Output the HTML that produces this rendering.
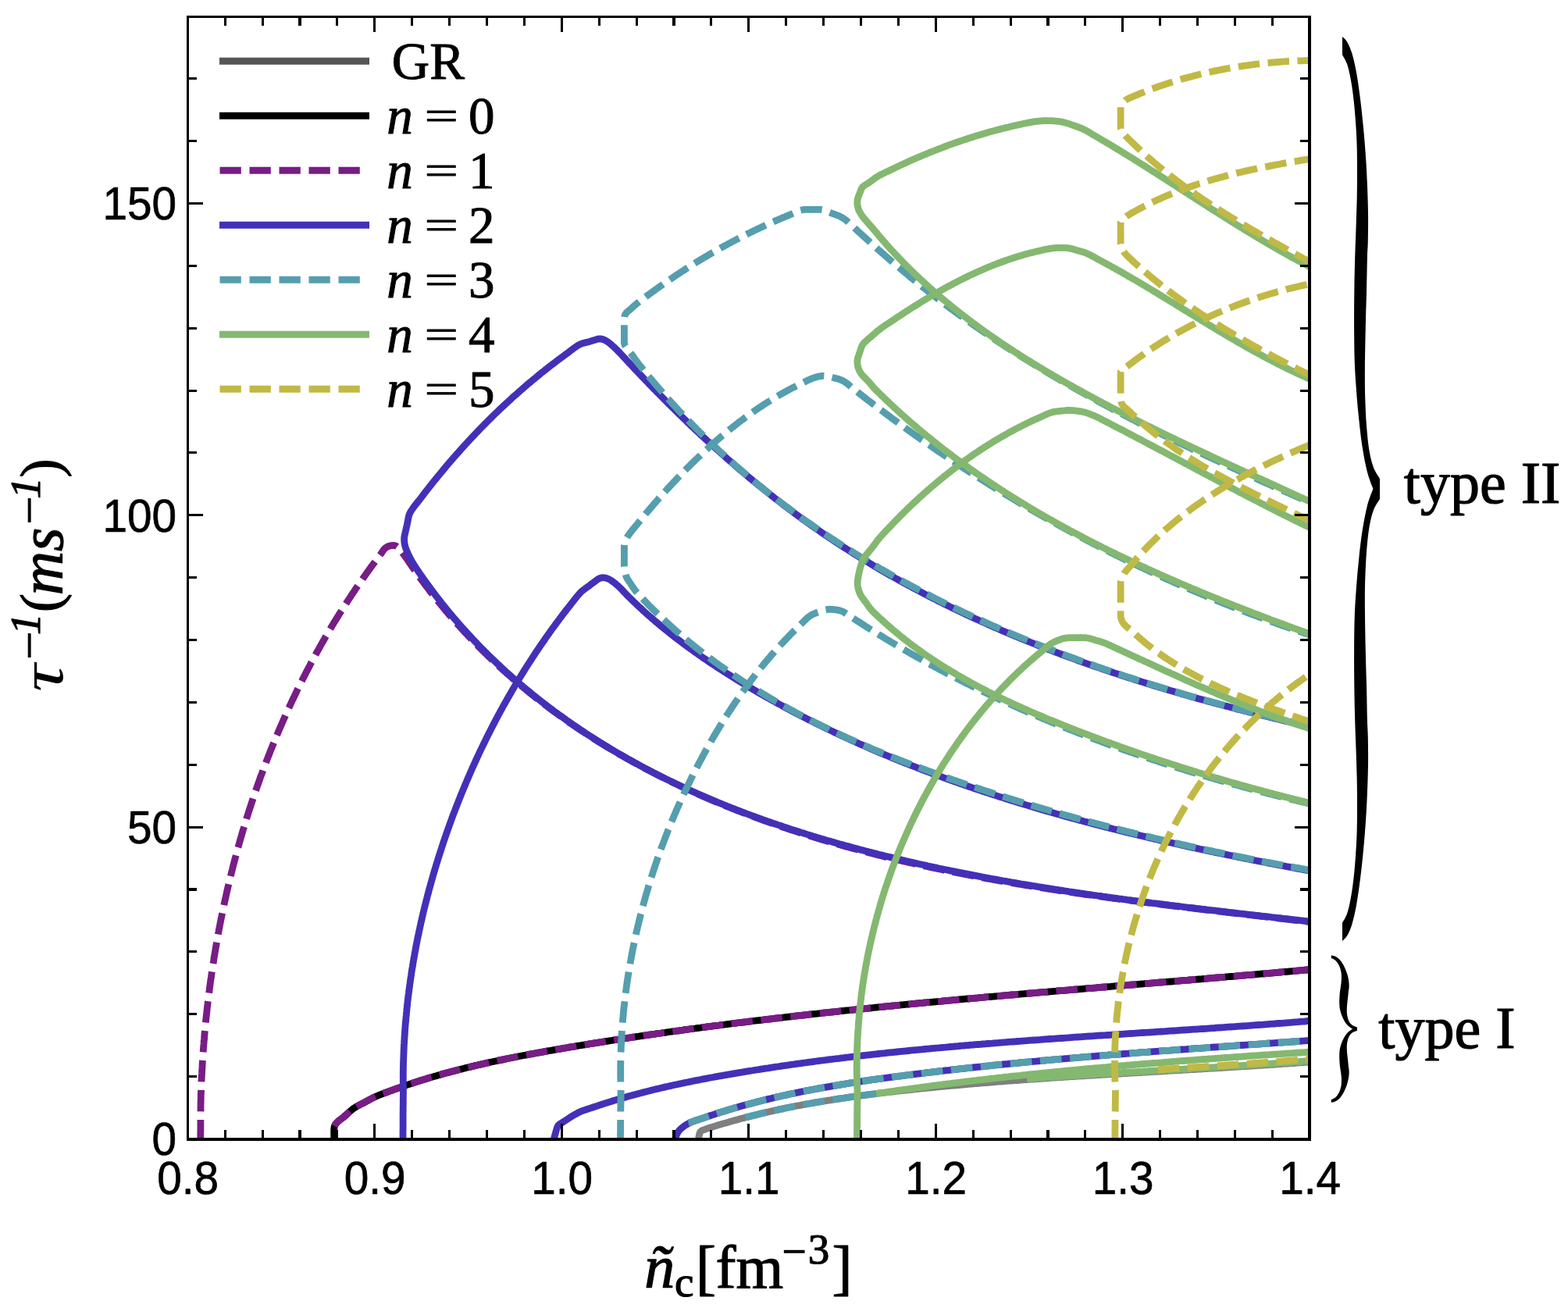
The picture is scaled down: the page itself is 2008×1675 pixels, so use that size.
<!DOCTYPE html>
<html lang="en"><head><meta charset="utf-8"><title>Damping rates</title>
<style>
html,body{margin:0;padding:0;background:#fff;}
body{width:2008px;height:1675px;overflow:hidden;}
svg{display:block;}
.tk{font-family:"Liberation Sans",sans-serif;font-size:60px;fill:#000;stroke:#000;stroke-width:0.7px;stroke-linejoin:round;}
.lg{font-family:"Liberation Serif",serif;font-size:67px;fill:#000;stroke:#000;stroke-width:1px;stroke-linejoin:round;}
.ty{font-family:"Liberation Serif",serif;font-size:76px;fill:#000;stroke:#000;stroke-width:1.2px;stroke-linejoin:round;}
.ax{font-family:"Liberation Serif",serif;font-size:78px;fill:#000;stroke:#000;stroke-width:1.2px;stroke-linejoin:round;}
.it{font-style:italic;}
.sup{font-size:55px;}
.br{font-family:"Liberation Serif",serif;fill:#000;}
</style></head><body>
<svg width="2008" height="1675" viewBox="0 0 2008 1675">
<rect width="2008" height="1675" fill="#fff"/>
<defs><clipPath id="cp"><rect x="240.5" y="21.5" width="1436.3" height="1436.5"/></clipPath></defs>
<g clip-path="url(#cp)" fill="none" stroke-linejoin="round">
<path d="M894.5 1458.0L895.0 1455.7L895.4 1453.3L896.0 1451.1L897.0 1449.2L899.1 1447.6L901.9 1446.6L905.0 1445.5L907.1 1444.7L909.4 1443.9L911.9 1443.2L914.5 1442.4L917.1 1441.6L919.7 1440.8L922.3 1440.1L924.8 1439.3L927.2 1438.6L929.7 1437.9L932.2 1437.2L934.7 1436.4L937.2 1435.7L939.6 1435.0L942.1 1434.4L944.6 1433.7L947.1 1433.0L949.6 1432.3L952.1 1431.7L954.6 1431.0L957.1 1430.4L959.6 1429.7L962.1 1429.1L964.6 1428.5L967.1 1427.9L969.6 1427.2L972.1 1426.6L974.6 1426.0L977.1 1425.4L979.6 1424.9L982.1 1424.3L984.6 1423.7L987.2 1423.1L989.7 1422.6L992.2 1422.0L994.7 1421.5L997.2 1420.9L999.7 1420.4L1002.3 1419.9L1004.8 1419.3L1007.3 1418.8L1009.8 1418.3L1012.4 1417.8L1014.9 1417.3L1017.4 1416.8L1020.0 1416.3L1022.5 1415.8L1025.0 1415.4L1027.5 1414.9L1030.1 1414.4L1032.6 1413.9L1035.2 1413.5L1037.7 1413.0L1040.2 1412.6L1042.8 1412.1L1045.3 1411.7L1047.9 1411.3L1050.4 1410.8L1052.9 1410.4L1055.5 1410.0L1058.0 1409.6L1060.6 1409.2L1063.1 1408.8L1065.7 1408.4L1068.2 1408.0L1070.8 1407.6L1073.3 1407.2L1075.9 1406.8L1078.4 1406.4L1081.0 1406.1L1083.5 1405.7L1086.1 1405.3L1088.7 1404.9L1091.2 1404.6L1093.8 1404.2L1096.3 1403.9L1098.9 1403.5L1101.4 1403.2L1104.0 1402.8L1106.6 1402.5L1109.1 1402.2L1111.7 1401.8L1114.2 1401.5L1116.8 1401.2L1119.4 1400.9L1121.9 1400.5L1124.5 1400.2L1127.1 1399.9L1129.6 1399.6L1132.2 1399.3L1134.8 1399.0L1137.3 1398.7L1139.9 1398.4L1142.5 1398.1L1145.0 1397.8L1147.6 1397.5L1150.2 1397.2L1152.8 1396.9L1155.3 1396.7L1157.9 1396.4L1160.5 1396.1L1163.0 1395.8L1165.6 1395.5L1168.2 1395.3L1170.8 1395.0L1173.3 1394.7L1175.9 1394.5L1178.5 1394.2L1181.0 1393.9L1183.6 1393.7L1186.2 1393.4L1188.8 1393.2L1191.3 1392.9L1193.9 1392.7L1196.5 1392.4L1199.1 1392.2L1201.6 1391.9L1204.2 1391.7L1206.8 1391.4L1209.4 1391.2L1211.9 1390.9L1214.5 1390.7L1217.1 1390.5L1219.7 1390.2L1222.3 1390.0L1224.8 1389.8L1227.4 1389.5L1230.0 1389.3L1232.6 1389.1L1235.1 1388.8L1237.7 1388.6L1240.3 1388.4L1242.9 1388.2L1245.5 1388.0L1248.0 1387.7L1250.6 1387.5L1253.2 1387.3L1255.8 1387.1L1258.4 1386.9L1260.9 1386.7L1263.5 1386.5L1266.1 1386.3L1268.7 1386.0L1271.3 1385.8L1273.8 1385.6L1276.4 1385.4L1279.0 1385.2L1281.6 1385.0L1284.2 1384.8L1286.7 1384.6L1289.3 1384.4L1291.9 1384.2L1294.5 1384.1L1297.1 1383.9L1299.7 1383.7L1302.2 1383.5L1304.8 1383.3L1307.4 1383.1L1310.0 1382.9L1312.6 1382.7L1315.2 1382.5L1317.7 1382.4L1320.3 1382.2L1322.9 1382.0L1325.5 1381.8L1328.1 1381.6L1330.7 1381.5L1333.2 1381.3L1335.8 1381.1L1338.4 1380.9L1341.0 1380.8L1343.6 1380.6L1346.2 1380.4L1348.7 1380.2L1351.3 1380.1L1353.9 1379.9L1356.5 1379.7L1359.1 1379.6L1361.7 1379.4L1364.2 1379.2L1366.8 1379.1L1369.4 1378.9L1372.0 1378.7L1374.6 1378.6L1377.2 1378.4L1379.8 1378.2L1382.3 1378.1L1384.9 1377.9L1387.5 1377.8L1390.1 1377.6L1392.7 1377.4L1395.3 1377.3L1397.9 1377.1L1400.4 1377.0L1403.0 1376.8L1405.6 1376.6L1408.2 1376.5L1410.8 1376.3L1413.4 1376.2L1415.9 1376.0L1418.5 1375.9L1421.1 1375.7L1423.7 1375.6L1426.3 1375.4L1428.9 1375.3L1431.5 1375.1L1434.0 1375.0L1436.6 1374.8L1439.2 1374.7L1441.8 1374.5L1444.4 1374.4L1447.0 1374.2L1449.6 1374.1L1452.1 1373.9L1454.7 1373.8L1457.3 1373.6L1459.9 1373.5L1462.5 1373.3L1465.1 1373.2L1467.6 1373.0L1470.2 1372.9L1472.8 1372.7L1475.4 1372.6L1478.0 1372.4L1480.6 1372.3L1483.1 1372.1L1485.7 1372.0L1488.3 1371.8L1490.9 1371.7L1493.5 1371.5L1496.1 1371.4L1498.7 1371.2L1501.2 1371.1L1503.8 1370.9L1506.4 1370.8L1509.0 1370.6L1511.6 1370.5L1514.2 1370.3L1516.7 1370.2L1519.3 1370.0L1521.9 1369.9L1524.5 1369.7L1527.1 1369.6L1529.6 1369.5L1532.2 1369.3L1534.8 1369.1L1537.4 1369.0L1540.0 1368.8L1542.6 1368.7L1545.1 1368.5L1547.7 1368.4L1550.3 1368.2L1552.9 1368.1L1555.5 1367.9L1558.0 1367.8L1560.6 1367.6L1563.2 1367.5L1565.8 1367.3L1568.4 1367.2L1570.9 1367.0L1573.5 1366.9L1576.1 1366.7L1578.7 1366.5L1581.3 1366.4L1583.8 1366.2L1586.4 1366.1L1589.0 1365.9L1591.6 1365.7L1594.1 1365.6L1596.7 1365.4L1599.3 1365.3L1601.9 1365.1L1604.5 1364.9L1607.0 1364.8L1609.6 1364.6L1612.2 1364.4L1614.8 1364.3L1617.3 1364.1L1619.9 1363.9L1622.5 1363.8L1625.1 1363.6L1627.6 1363.4L1630.2 1363.3L1632.8 1363.1L1635.4 1362.9L1637.9 1362.7L1640.5 1362.6L1643.1 1362.4L1645.6 1362.2L1648.2 1362.0L1650.8 1361.8L1653.4 1361.7L1655.9 1361.5L1658.5 1361.3L1661.1 1361.1L1663.6 1360.9L1666.2 1360.7L1668.8 1360.6L1671.4 1360.4L1673.9 1360.2L1676.5 1360.0L1686.0 1359.3" stroke="#7f7f7f" stroke-width="8.8"/>
<path d="M427.7 1459.0L427.7 1456.1L427.7 1453.0L427.6 1449.9L427.7 1447.0L427.9 1444.3L428.4 1442.1L429.5 1439.9L430.9 1438.2L432.5 1436.5L434.0 1435.1L435.8 1433.8L437.6 1432.4L439.6 1430.9L441.3 1429.4L443.2 1427.7L445.1 1426.0L447.1 1424.1L449.2 1422.3L451.2 1420.6L453.3 1419.1L455.5 1417.7L457.8 1416.3L460.1 1415.1L462.4 1413.9L464.7 1412.8L467.0 1411.6L469.6 1410.2L472.1 1408.8L474.7 1407.4L477.3 1406.0L480.0 1404.7L482.3 1403.7L484.6 1402.7L487.0 1401.8L489.5 1400.8L491.9 1399.9L494.4 1399.0L496.8 1398.1L499.3 1397.2L501.7 1396.3L504.1 1395.4L506.5 1394.5L509.0 1393.7L511.4 1392.8L513.8 1391.9L516.3 1391.1L518.7 1390.3L521.1 1389.4L523.6 1388.6L526.0 1387.8L528.5 1387.0L530.9 1386.2L533.4 1385.4L535.8 1384.6L538.3 1383.8L540.7 1383.1L543.2 1382.3L545.6 1381.6L548.1 1380.8L550.6 1380.1L553.0 1379.4L555.5 1378.6L558.0 1377.9L560.4 1377.2L562.9 1376.5L565.4 1375.8L567.9 1375.1L570.3 1374.4L572.8 1373.7L575.3 1373.1L577.8 1372.4L580.3 1371.8L582.8 1371.1L585.3 1370.5L587.8 1369.8L590.2 1369.2L592.7 1368.6L595.2 1367.9L597.7 1367.3L600.2 1366.7L602.7 1366.1L605.2 1365.5L607.7 1364.9L610.2 1364.3L612.8 1363.7L615.3 1363.1L617.8 1362.6L620.3 1362.0L622.8 1361.4L625.3 1360.9L627.8 1360.3L630.3 1359.8L632.8 1359.2L635.4 1358.7L637.9 1358.1L640.4 1357.6L642.9 1357.1L645.5 1356.6L648.0 1356.0L650.5 1355.5L653.0 1355.0L655.6 1354.5L658.1 1354.0L660.6 1353.5L663.1 1353.0L665.7 1352.5L668.2 1352.0L670.7 1351.5L673.3 1351.1L675.8 1350.6L678.3 1350.1L680.9 1349.6L683.4 1349.2L685.9 1348.7L688.5 1348.2L691.0 1347.8L693.6 1347.3L696.1 1346.9L698.6 1346.4L701.2 1345.9L703.7 1345.5L706.3 1345.1L708.8 1344.6L711.3 1344.2L713.9 1343.7L716.4 1343.3L719.0 1342.9L721.5 1342.4L724.1 1342.0L726.6 1341.6L729.1 1341.1L731.7 1340.7L734.2 1340.3L736.8 1339.9L739.3 1339.4L741.9 1339.0L744.4 1338.6L747.0 1338.2L749.5 1337.8L752.1 1337.3L754.6 1336.9L757.2 1336.5L759.7 1336.1L762.3 1335.7L764.8 1335.3L767.4 1334.9L769.9 1334.5L772.5 1334.1L775.0 1333.7L777.6 1333.3L780.1 1332.9L782.7 1332.5L785.2 1332.1L787.8 1331.7L790.3 1331.3L792.9 1330.9L795.4 1330.5L798.0 1330.1L800.5 1329.7L803.1 1329.4L805.6 1329.0L808.2 1328.6L810.7 1328.2L813.3 1327.8L815.8 1327.4L818.4 1327.1L820.9 1326.7L823.5 1326.3L826.0 1325.9L828.6 1325.6L831.1 1325.2L833.7 1324.8L836.3 1324.4L838.8 1324.1L841.4 1323.7L843.9 1323.3L846.5 1323.0L849.0 1322.6L851.6 1322.3L854.1 1321.9L856.7 1321.5L859.3 1321.2L861.8 1320.8L864.4 1320.5L866.9 1320.1L869.5 1319.8L872.0 1319.4L874.6 1319.1L877.2 1318.7L879.7 1318.4L882.3 1318.0L884.8 1317.7L887.4 1317.3L890.0 1317.0L892.5 1316.6L895.1 1316.3L897.6 1316.0L900.2 1315.6L902.7 1315.3L905.3 1314.9L907.9 1314.6L910.4 1314.3L913.0 1313.9L915.6 1313.6L918.1 1313.3L920.7 1313.0L923.2 1312.6L925.8 1312.3L928.4 1312.0L930.9 1311.6L933.5 1311.3L936.0 1311.0L938.6 1310.7L941.2 1310.4L943.7 1310.0L946.3 1309.7L948.9 1309.4L951.4 1309.1L954.0 1308.8L956.5 1308.5L959.1 1308.1L961.7 1307.8L964.2 1307.5L966.8 1307.2L969.4 1306.9L971.9 1306.6L974.5 1306.3L977.1 1306.0L979.6 1305.7L982.2 1305.4L984.8 1305.1L987.3 1304.8L989.9 1304.5L992.4 1304.2L995.0 1303.9L997.6 1303.6L1000.1 1303.3L1002.7 1303.0L1005.3 1302.7L1007.8 1302.4L1010.4 1302.1L1013.0 1301.8L1015.5 1301.5L1018.1 1301.2L1020.7 1300.9L1023.2 1300.6L1025.8 1300.3L1028.4 1300.0L1030.9 1299.8L1033.5 1299.5L1036.1 1299.2L1038.6 1298.9L1041.2 1298.6L1043.8 1298.3L1046.4 1298.1L1048.9 1297.8L1051.5 1297.5L1054.1 1297.2L1056.6 1296.9L1059.2 1296.7L1061.8 1296.4L1064.3 1296.1L1066.9 1295.8L1069.5 1295.6L1072.0 1295.3L1074.6 1295.0L1077.2 1294.7L1079.8 1294.5L1082.3 1294.2L1084.9 1293.9L1087.5 1293.7L1090.0 1293.4L1092.6 1293.1L1095.2 1292.9L1097.7 1292.6L1100.3 1292.3L1102.9 1292.1L1105.5 1291.8L1108.0 1291.6L1110.6 1291.3L1113.2 1291.0L1115.7 1290.8L1118.3 1290.5L1120.9 1290.2L1123.5 1290.0L1126.0 1289.7L1128.6 1289.5L1131.2 1289.2L1133.7 1289.0L1136.3 1288.7L1138.9 1288.5L1141.5 1288.2L1144.0 1288.0L1146.6 1287.7L1149.2 1287.4L1151.7 1287.2L1154.3 1286.9L1156.9 1286.7L1159.5 1286.4L1162.0 1286.2L1164.6 1286.0L1167.2 1285.7L1169.7 1285.5L1172.3 1285.2L1174.9 1285.0L1177.5 1284.7L1180.0 1284.5L1182.6 1284.2L1185.2 1284.0L1187.8 1283.7L1190.3 1283.5L1192.9 1283.3L1195.5 1283.0L1198.1 1282.8L1200.6 1282.5L1203.2 1282.3L1205.8 1282.1L1208.3 1281.8L1210.9 1281.6L1213.5 1281.4L1216.1 1281.1L1218.6 1280.9L1221.2 1280.6L1223.8 1280.4L1226.4 1280.2L1228.9 1279.9L1231.5 1279.7L1234.1 1279.5L1236.7 1279.2L1239.2 1279.0L1241.8 1278.8L1244.4 1278.5L1247.0 1278.3L1249.5 1278.1L1252.1 1277.9L1254.7 1277.6L1257.3 1277.4L1259.8 1277.2L1262.4 1276.9L1265.0 1276.7L1267.5 1276.5L1270.1 1276.3L1272.7 1276.0L1275.3 1275.8L1277.8 1275.6L1280.4 1275.4L1283.0 1275.1L1285.6 1274.9L1288.1 1274.7L1290.7 1274.5L1293.3 1274.2L1295.9 1274.0L1298.4 1273.8L1301.0 1273.6L1303.6 1273.3L1306.2 1273.1L1308.7 1272.9L1311.3 1272.7L1313.9 1272.4L1316.5 1272.2L1319.0 1272.0L1321.6 1271.8L1324.2 1271.6L1326.8 1271.3L1329.3 1271.1L1331.9 1270.9L1334.5 1270.7L1337.1 1270.5L1339.6 1270.3L1342.2 1270.0L1344.8 1269.8L1347.4 1269.6L1349.9 1269.4L1352.5 1269.2L1355.1 1268.9L1357.7 1268.7L1360.2 1268.5L1362.8 1268.3L1365.4 1268.1L1368.0 1267.9L1370.5 1267.6L1373.1 1267.4L1375.7 1267.2L1378.3 1267.0L1380.8 1266.8L1383.4 1266.6L1386.0 1266.4L1388.6 1266.1L1391.1 1265.9L1393.7 1265.7L1396.3 1265.5L1398.9 1265.3L1401.4 1265.1L1404.0 1264.9L1406.6 1264.6L1409.2 1264.4L1411.7 1264.2L1414.3 1264.0L1416.9 1263.8L1419.5 1263.6L1422.0 1263.4L1424.6 1263.1L1427.2 1262.9L1429.7 1262.7L1432.3 1262.5L1434.9 1262.3L1437.5 1262.1L1440.0 1261.9L1442.6 1261.7L1445.2 1261.4L1447.8 1261.2L1450.3 1261.0L1452.9 1260.8L1455.5 1260.6L1458.1 1260.4L1460.6 1260.2L1463.2 1260.0L1465.8 1259.7L1468.4 1259.5L1470.9 1259.3L1473.5 1259.1L1476.1 1258.9L1478.6 1258.7L1481.2 1258.5L1483.8 1258.2L1486.4 1258.0L1488.9 1257.8L1491.5 1257.6L1494.1 1257.4L1496.7 1257.2L1499.2 1257.0L1501.8 1256.8L1504.4 1256.5L1506.9 1256.3L1509.5 1256.1L1512.1 1255.9L1514.7 1255.7L1517.2 1255.5L1519.8 1255.3L1522.4 1255.0L1524.9 1254.8L1527.5 1254.6L1530.1 1254.4L1532.7 1254.2L1535.2 1254.0L1537.8 1253.8L1540.4 1253.5L1542.9 1253.3L1545.5 1253.1L1548.1 1252.9L1550.7 1252.7L1553.2 1252.5L1555.8 1252.2L1558.4 1252.0L1560.9 1251.8L1563.5 1251.6L1566.1 1251.4L1568.7 1251.2L1571.2 1250.9L1573.8 1250.7L1576.4 1250.5L1578.9 1250.3L1581.5 1250.1L1584.1 1249.8L1586.6 1249.6L1589.2 1249.4L1591.8 1249.2L1594.4 1249.0L1596.9 1248.7L1599.5 1248.5L1602.1 1248.3L1604.6 1248.1L1607.2 1247.9L1609.8 1247.6L1612.3 1247.4L1614.9 1247.2L1617.5 1247.0L1620.0 1246.8L1622.6 1246.5L1625.2 1246.3L1627.7 1246.1L1630.3 1245.9L1632.9 1245.6L1635.4 1245.4L1638.0 1245.2L1640.6 1245.0L1643.1 1244.7L1645.7 1244.5L1648.3 1244.3L1650.8 1244.0L1653.4 1243.8L1656.0 1243.6L1658.5 1243.4L1661.1 1243.1L1663.7 1242.9L1666.2 1242.7L1668.8 1242.4L1671.4 1242.2L1673.9 1242.0L1676.5 1241.8L1686.0 1240.9" stroke="#000000" stroke-width="8.8"/>
<path d="M428.3 1442.1L429.5 1439.9L430.9 1438.2L432.5 1436.5L434.0 1435.1L435.8 1433.8L437.6 1432.4L439.6 1430.9L441.3 1429.4L443.2 1427.7L445.1 1426.0L447.1 1424.1L449.2 1422.3L451.2 1420.6L453.3 1419.1L455.5 1417.7L457.8 1416.3L460.1 1415.1L462.4 1413.9L464.7 1412.8L467.0 1411.6L469.6 1410.2L472.1 1408.8L474.7 1407.4L477.3 1406.0L480.0 1404.7L482.3 1403.7L484.6 1402.7L487.0 1401.8L489.5 1400.8L491.9 1399.9L494.4 1399.0L496.8 1398.1L499.3 1397.2L501.7 1396.3L504.1 1395.4L506.5 1394.5L509.0 1393.7L511.4 1392.8L513.8 1391.9L516.3 1391.1L518.7 1390.3L521.1 1389.4L523.6 1388.6L526.0 1387.8L528.5 1387.0L530.9 1386.2L533.4 1385.4L535.8 1384.6L538.3 1383.8L540.7 1383.1L543.2 1382.3L545.6 1381.6L548.1 1380.8L550.6 1380.1L553.0 1379.4L555.5 1378.6L558.0 1377.9L560.4 1377.2L562.9 1376.5L565.4 1375.8L567.9 1375.1L570.3 1374.4L572.8 1373.7L575.3 1373.1L577.8 1372.4L580.3 1371.8L582.8 1371.1L585.3 1370.5L587.8 1369.8L590.2 1369.2L592.7 1368.6L595.2 1367.9L597.7 1367.3L600.2 1366.7L602.7 1366.1L605.2 1365.5L607.7 1364.9L610.2 1364.3L612.8 1363.7L615.3 1363.1L617.8 1362.6L620.3 1362.0L622.8 1361.4L625.3 1360.9L627.8 1360.3L630.3 1359.8L632.8 1359.2L635.4 1358.7L637.9 1358.1L640.4 1357.6L642.9 1357.1L645.5 1356.6L648.0 1356.0L650.5 1355.5L653.0 1355.0L655.6 1354.5L658.1 1354.0L660.6 1353.5L663.1 1353.0L665.7 1352.5L668.2 1352.0L670.7 1351.5L673.3 1351.1L675.8 1350.6L678.3 1350.1L680.9 1349.6L683.4 1349.2L685.9 1348.7L688.5 1348.2L691.0 1347.8L693.6 1347.3L696.1 1346.9L698.6 1346.4L701.2 1345.9L703.7 1345.5L706.3 1345.1L708.8 1344.6L711.3 1344.2L713.9 1343.7L716.4 1343.3L719.0 1342.9L721.5 1342.4L724.1 1342.0L726.6 1341.6L729.1 1341.1L731.7 1340.7L734.2 1340.3L736.8 1339.9L739.3 1339.4L741.9 1339.0L744.4 1338.6L747.0 1338.2L749.5 1337.8L752.1 1337.3L754.6 1336.9L757.2 1336.5L759.7 1336.1L762.3 1335.7L764.8 1335.3L767.4 1334.9L769.9 1334.5L772.5 1334.1L775.0 1333.7L777.6 1333.3L780.1 1332.9L782.7 1332.5L785.2 1332.1L787.8 1331.7L790.3 1331.3L792.9 1330.9L795.4 1330.5L798.0 1330.1L800.5 1329.7L803.1 1329.4L805.6 1329.0L808.2 1328.6L810.7 1328.2L813.3 1327.8L815.8 1327.4L818.4 1327.1L820.9 1326.7L823.5 1326.3L826.0 1325.9L828.6 1325.6L831.1 1325.2L833.7 1324.8L836.3 1324.4L838.8 1324.1L841.4 1323.7L843.9 1323.3L846.5 1323.0L849.0 1322.6L851.6 1322.3L854.1 1321.9L856.7 1321.5L859.3 1321.2L861.8 1320.8L864.4 1320.5L866.9 1320.1L869.5 1319.8L872.0 1319.4L874.6 1319.1L877.2 1318.7L879.7 1318.4L882.3 1318.0L884.8 1317.7L887.4 1317.3L890.0 1317.0L892.5 1316.6L895.1 1316.3L897.6 1316.0L900.2 1315.6L902.7 1315.3L905.3 1314.9L907.9 1314.6L910.4 1314.3L913.0 1313.9L915.6 1313.6L918.1 1313.3L920.7 1313.0L923.2 1312.6L925.8 1312.3L928.4 1312.0L930.9 1311.6L933.5 1311.3L936.0 1311.0L938.6 1310.7L941.2 1310.4L943.7 1310.0L946.3 1309.7L948.9 1309.4L951.4 1309.1L954.0 1308.8L956.5 1308.5L959.1 1308.1L961.7 1307.8L964.2 1307.5L966.8 1307.2L969.4 1306.9L971.9 1306.6L974.5 1306.3L977.1 1306.0L979.6 1305.7L982.2 1305.4L984.8 1305.1L987.3 1304.8L989.9 1304.5L992.4 1304.2L995.0 1303.9L997.6 1303.6L1000.1 1303.3L1002.7 1303.0L1005.3 1302.7L1007.8 1302.4L1010.4 1302.1L1013.0 1301.8L1015.5 1301.5L1018.1 1301.2L1020.7 1300.9L1023.2 1300.6L1025.8 1300.3L1028.4 1300.0L1030.9 1299.8L1033.5 1299.5L1036.1 1299.2L1038.6 1298.9L1041.2 1298.6L1043.8 1298.3L1046.4 1298.1L1048.9 1297.8L1051.5 1297.5L1054.1 1297.2L1056.6 1296.9L1059.2 1296.7L1061.8 1296.4L1064.3 1296.1L1066.9 1295.8L1069.5 1295.6L1072.0 1295.3L1074.6 1295.0L1077.2 1294.7L1079.8 1294.5L1082.3 1294.2L1084.9 1293.9L1087.5 1293.7L1090.0 1293.4L1092.6 1293.1L1095.2 1292.9L1097.7 1292.6L1100.3 1292.3L1102.9 1292.1L1105.5 1291.8L1108.0 1291.6L1110.6 1291.3L1113.2 1291.0L1115.7 1290.8L1118.3 1290.5L1120.9 1290.2L1123.5 1290.0L1126.0 1289.7L1128.6 1289.5L1131.2 1289.2L1133.7 1289.0L1136.3 1288.7L1138.9 1288.5L1141.5 1288.2L1144.0 1288.0L1146.6 1287.7L1149.2 1287.4L1151.7 1287.2L1154.3 1286.9L1156.9 1286.7L1159.5 1286.4L1162.0 1286.2L1164.6 1286.0L1167.2 1285.7L1169.7 1285.5L1172.3 1285.2L1174.9 1285.0L1177.5 1284.7L1180.0 1284.5L1182.6 1284.2L1185.2 1284.0L1187.8 1283.7L1190.3 1283.5L1192.9 1283.3L1195.5 1283.0L1198.1 1282.8L1200.6 1282.5L1203.2 1282.3L1205.8 1282.1L1208.3 1281.8L1210.9 1281.6L1213.5 1281.4L1216.1 1281.1L1218.6 1280.9L1221.2 1280.6L1223.8 1280.4L1226.4 1280.2L1228.9 1279.9L1231.5 1279.7L1234.1 1279.5L1236.7 1279.2L1239.2 1279.0L1241.8 1278.8L1244.4 1278.5L1247.0 1278.3L1249.5 1278.1L1252.1 1277.9L1254.7 1277.6L1257.3 1277.4L1259.8 1277.2L1262.4 1276.9L1265.0 1276.7L1267.5 1276.5L1270.1 1276.3L1272.7 1276.0L1275.3 1275.8L1277.8 1275.6L1280.4 1275.4L1283.0 1275.1L1285.6 1274.9L1288.1 1274.7L1290.7 1274.5L1293.3 1274.2L1295.9 1274.0L1298.4 1273.8L1301.0 1273.6L1303.6 1273.3L1306.2 1273.1L1308.7 1272.9L1311.3 1272.7L1313.9 1272.4L1316.5 1272.2L1319.0 1272.0L1321.6 1271.8L1324.2 1271.6L1326.8 1271.3L1329.3 1271.1L1331.9 1270.9L1334.5 1270.7L1337.1 1270.5L1339.6 1270.3L1342.2 1270.0L1344.8 1269.8L1347.4 1269.6L1349.9 1269.4L1352.5 1269.2L1355.1 1268.9L1357.7 1268.7L1360.2 1268.5L1362.8 1268.3L1365.4 1268.1L1368.0 1267.9L1370.5 1267.6L1373.1 1267.4L1375.7 1267.2L1378.3 1267.0L1380.8 1266.8L1383.4 1266.6L1386.0 1266.4L1388.6 1266.1L1391.1 1265.9L1393.7 1265.7L1396.3 1265.5L1398.9 1265.3L1401.4 1265.1L1404.0 1264.9L1406.6 1264.6L1409.2 1264.4L1411.7 1264.2L1414.3 1264.0L1416.9 1263.8L1419.5 1263.6L1422.0 1263.4L1424.6 1263.1L1427.2 1262.9L1429.7 1262.7L1432.3 1262.5L1434.9 1262.3L1437.5 1262.1L1440.0 1261.9L1442.6 1261.7L1445.2 1261.4L1447.8 1261.2L1450.3 1261.0L1452.9 1260.8L1455.5 1260.6L1458.1 1260.4L1460.6 1260.2L1463.2 1260.0L1465.8 1259.7L1468.4 1259.5L1470.9 1259.3L1473.5 1259.1L1476.1 1258.9L1478.6 1258.7L1481.2 1258.5L1483.8 1258.2L1486.4 1258.0L1488.9 1257.8L1491.5 1257.6L1494.1 1257.4L1496.7 1257.2L1499.2 1257.0L1501.8 1256.8L1504.4 1256.5L1506.9 1256.3L1509.5 1256.1L1512.1 1255.9L1514.7 1255.7L1517.2 1255.5L1519.8 1255.3L1522.4 1255.0L1524.9 1254.8L1527.5 1254.6L1530.1 1254.4L1532.7 1254.2L1535.2 1254.0L1537.8 1253.8L1540.4 1253.5L1542.9 1253.3L1545.5 1253.1L1548.1 1252.9L1550.7 1252.7L1553.2 1252.5L1555.8 1252.2L1558.4 1252.0L1560.9 1251.8L1563.5 1251.6L1566.1 1251.4L1568.7 1251.2L1571.2 1250.9L1573.8 1250.7L1576.4 1250.5L1578.9 1250.3L1581.5 1250.1L1584.1 1249.8L1586.6 1249.6L1589.2 1249.4L1591.8 1249.2L1594.4 1249.0L1596.9 1248.7L1599.5 1248.5L1602.1 1248.3L1604.6 1248.1L1607.2 1247.9L1609.8 1247.6L1612.3 1247.4L1614.9 1247.2L1617.5 1247.0L1620.0 1246.8L1622.6 1246.5L1625.2 1246.3L1627.7 1246.1L1630.3 1245.9L1632.9 1245.6L1635.4 1245.4L1638.0 1245.2L1640.6 1245.0L1643.1 1244.7L1645.7 1244.5L1648.3 1244.3L1650.8 1244.0L1653.4 1243.8L1656.0 1243.6L1658.5 1243.4L1661.1 1243.1L1663.7 1242.9L1666.2 1242.7L1668.8 1242.4L1671.4 1242.2L1673.9 1242.0L1676.5 1241.8L1686.0 1240.9" stroke="#781c86" stroke-width="8.8" stroke-dasharray="27.50 10.50"/>
<path d="M256.8 1461.5L256.8 1460.0L256.8 1458.2L256.8 1455.4L256.8 1452.0L256.9 1448.2L256.9 1444.5L256.9 1441.1L256.9 1438.3L256.9 1436.5L256.9 1435.0L256.9 1433.6L256.9 1431.5L256.9 1428.9L256.9 1425.9L257.0 1422.7L257.0 1419.5L257.0 1416.2L257.1 1413.2L257.1 1410.5L257.2 1407.4L257.3 1404.4L257.3 1401.5L257.5 1398.6L257.6 1395.7L257.7 1392.8L257.8 1389.8L257.9 1386.9L258.0 1383.9L258.2 1380.9L258.3 1378.0L258.5 1375.0L258.6 1372.1L258.8 1369.1L259.0 1366.2L259.1 1363.2L259.3 1360.2L259.5 1357.3L259.7 1354.3L259.9 1351.4L260.1 1348.4L260.3 1345.4L260.5 1342.5L260.7 1339.5L261.0 1336.6L261.2 1333.6L261.5 1330.6L261.7 1327.7L262.0 1324.7L262.2 1321.8L262.5 1318.8L262.8 1315.9L263.1 1312.9L263.3 1309.9L263.6 1307.0L263.9 1304.0L264.2 1301.1L264.6 1298.1L264.9 1295.1L265.2 1292.2L265.5 1289.2L265.9 1286.3L266.2 1283.3L266.6 1280.4L266.9 1277.4L267.3 1274.5L267.7 1271.5L268.1 1268.6L268.4 1265.6L268.8 1262.7L269.2 1259.7L269.6 1256.7L270.0 1253.8L270.5 1250.9L270.9 1247.9L271.3 1245.0L271.7 1242.0L272.2 1239.1L272.6 1236.1L273.1 1233.2L273.6 1230.2L274.0 1227.3L274.5 1224.3L275.0 1221.4L275.5 1218.5L276.0 1215.5L276.5 1212.6L277.0 1209.6L277.5 1206.7L278.0 1203.8L278.5 1200.8L279.1 1197.9L279.6 1195.0L280.2 1192.0L280.7 1189.1L281.3 1186.2L281.8 1183.3L282.4 1180.3L283.0 1177.4L283.6 1174.5L284.2 1171.6L284.8 1168.6L285.4 1165.7L286.0 1162.8L286.6 1159.9L287.2 1157.0L287.9 1154.1L288.5 1151.1L289.2 1148.2L289.8 1145.3L290.5 1142.4L291.1 1139.5L291.8 1136.6L292.5 1133.7L293.2 1130.8L293.9 1127.9L294.6 1125.0L295.3 1122.1L296.0 1119.2L296.7 1116.3L297.5 1113.4L298.2 1110.5L298.9 1107.6L299.7 1104.7L300.4 1101.9L301.2 1099.0L302.0 1096.1L302.7 1093.2L303.5 1090.3L304.3 1087.5L305.1 1084.6L305.9 1081.7L306.7 1078.8L307.5 1076.0L308.3 1073.1L309.2 1070.2L310.0 1067.4L310.8 1064.5L311.7 1061.7L312.6 1058.8L313.4 1056.0L314.3 1053.1L315.2 1050.3L316.0 1047.4L316.9 1044.6L317.8 1041.7L318.7 1038.9L319.6 1036.1L320.6 1033.2L321.5 1030.4L322.4 1027.6L323.4 1024.7L324.3 1021.9L325.3 1019.1L326.2 1016.3L327.2 1013.4L328.2 1010.6L329.1 1007.8L330.1 1005.0L331.1 1002.2L332.1 999.4L333.1 996.6L334.1 993.8L335.2 991.0L336.2 988.2L337.2 985.4L338.3 982.6L339.3 979.8L340.4 977.1L341.4 974.3L342.5 971.5L343.6 968.7L344.7 966.0L345.7 963.2L346.8 960.4L348.0 957.7L349.1 954.9L350.2 952.1L351.3 949.4L352.4 946.6L353.6 943.9L354.7 941.2L355.9 938.4L357.0 935.7L358.2 932.9L359.4 930.2L360.6 927.5L361.8 924.8L363.0 922.0L364.2 919.3L365.4 916.6L366.6 913.9L367.8 911.2L369.0 908.5L370.3 905.8L371.5 903.1L372.8 900.4L374.0 897.7L375.3 895.0L376.6 892.3L377.9 889.6L379.2 887.0L380.4 884.3L381.8 881.6L383.1 879.0L384.4 876.3L385.7 873.6L387.0 871.0L388.4 868.3L389.7 865.7L391.1 863.0L392.4 860.4L393.8 857.8L395.2 855.1L396.6 852.5L397.9 849.9L399.3 847.3L400.7 844.6L402.2 842.0L403.6 839.4L405.0 836.8L406.4 834.2L407.9 831.6L409.3 829.0L410.8 826.4L412.2 823.9L413.7 821.3L415.2 818.7L416.7 816.1L418.2 813.6L419.7 811.0L421.2 808.4L422.7 805.9L424.2 803.3L425.7 800.8L427.2 798.2L428.8 795.7L430.3 793.2L431.9 790.6L433.5 788.1L435.0 785.6L436.6 783.1L438.2 780.6L439.8 778.1L441.4 775.6L443.0 773.1L444.6 770.6L446.2 768.1L447.9 765.6L449.5 763.1L451.1 760.6L452.8 758.2L454.5 755.7L456.1 753.2L457.8 750.8L459.5 748.3L461.2 745.9L462.9 743.5L464.6 741.0L466.3 738.6L468.0 736.2L469.7 733.7L471.5 731.3L473.2 728.9L474.9 726.5L476.7 724.1L478.5 721.7L480.4 719.2L482.2 716.7L484.0 714.3L485.8 711.9L487.4 709.8L489.0 707.5L490.5 705.3L491.9 703.3L493.6 701.7L496.0 700.2L498.5 699.2L501.1 698.6L503.4 698.5L505.7 698.7L508.0 699.6L509.8 700.9L511.5 702.7L513.1 704.9L514.9 707.3L516.7 709.8L518.1 711.7L519.6 713.8L521.2 716.0L522.8 718.3L524.4 720.7L526.1 723.1L527.7 725.5L529.3 727.9L530.8 730.1L532.3 732.2L534.0 734.5L535.6 736.8L537.1 738.9L538.7 741.0L540.2 743.1L541.8 745.2L543.4 747.4L545.0 749.5L546.6 751.6L548.2 753.7L549.8 755.9L551.4 758.0L553.1 760.1L554.7 762.2L556.4 764.2L558.0 766.3L559.7 768.4L561.3 770.5L563.0 772.5L564.7 774.6L566.4 776.6L568.0 778.6L569.7 780.7L571.4 782.7L573.1 784.7L574.8 786.7L576.6 788.7L578.3 790.7L580.0 792.6L581.7 794.6L583.5 796.6L585.2 798.5L587.0 800.5L588.7 802.4L590.5 804.4L592.2 806.3L594.0 808.2L595.8 810.1L597.6 812.0L599.3 814.0L601.1 815.8L602.9 817.7L604.7 819.6L606.5 821.5L608.3 823.3L610.2 825.2L612.0 827.1L613.8 828.9L615.6 830.7L617.5 832.6L619.3 834.4L621.2 836.2L623.0 838.0L624.9 839.8L626.7 841.6L628.6 843.4L630.5 845.2L632.4 847.0L634.2 848.7L636.1 850.5L638.0 852.2L639.9 854.0L641.8 855.7L643.7 857.5L645.6 859.2L647.6 860.9L649.5 862.6L651.4 864.3L653.3 866.0L655.3 867.7L657.5 869.7L659.8 871.7L662.1 873.6L664.4 875.5L666.7 877.5L668.9 879.4L671.3 881.3L673.6 883.2L675.9 885.1L678.2 887.0L680.5 888.9L682.9 890.7L685.2 892.6L687.5 894.5L689.9 896.3L692.3 898.1L694.6 900.0L697.0 901.8L699.4 903.6L701.7 905.4L704.1 907.2L706.5 908.9L708.9 910.7L711.3 912.5L713.7 914.2L716.2 916.0L718.6 917.7L721.0 919.5L723.4 921.2L725.9 922.9L728.3 924.6L730.8 926.3L733.2 928.0L735.7 929.7L738.1 931.3L740.6 933.0L743.1 934.7L745.6 936.3L748.1 937.9L750.6 939.6L753.1 941.2L755.6 942.8L758.1 944.4L760.6 946.0L763.1 947.6L765.6 949.2L768.2 950.8L770.7 952.3L773.2 953.9L775.8 955.4L778.3 957.0L780.9 958.5L783.4 960.0L786.0 961.6L788.6 963.1L791.1 964.6L793.7 966.1L796.3 967.5L798.9 969.0L801.5 970.5L804.1 972.0L806.7 973.4L809.3 974.9L811.9 976.3L814.5 977.7L817.1 979.2L819.8 980.6L822.4 982.0L825.0 983.4L827.7 984.8L830.3 986.2L833.0 987.6L835.6 988.9L838.3 990.3L840.9 991.7L843.6 993.0L846.3 994.4L848.9 995.7L851.6 997.0L854.3 998.4L857.0 999.7L859.7 1001.0L862.4 1002.3L865.1 1003.6L867.8 1004.9L870.5 1006.2L873.2 1007.4L875.9 1008.7L878.6 1010.0L881.3 1011.2L884.1 1012.5L886.8 1013.7L889.5 1014.9L892.3 1016.1L895.0 1017.4L897.7 1018.6L900.1 1019.6L902.5 1020.6L904.8 1021.7L907.2 1022.7L909.5 1023.7L911.9 1024.7L914.3 1025.7L916.6 1026.7L919.0 1027.7L921.4 1028.7L923.8 1029.7L926.2 1030.6L928.6 1031.6L930.9 1032.6L933.3 1033.5L935.7 1034.5L938.1 1035.5L940.5 1036.4L942.9 1037.4L945.3 1038.3L947.7 1039.2L950.1 1040.2L952.5 1041.1L954.9 1042.0L957.4 1042.9L959.8 1043.8L962.2 1044.7L964.6 1045.7L967.0 1046.5L969.5 1047.4L971.9 1048.3L974.3 1049.2L976.7 1050.1L979.2 1051.0L981.6 1051.8L984.0 1052.7L986.5 1053.6L988.9 1054.4L991.4 1055.3L993.8 1056.1L996.3 1057.0L998.7 1057.8L1001.1 1058.7L1003.6 1059.5L1006.1 1060.3L1008.5 1061.1L1011.0 1062.0L1013.4 1062.8L1015.9 1063.6L1018.4 1064.4L1020.8 1065.2L1023.3 1066.0L1025.7 1066.8L1028.2 1067.6L1030.7 1068.3L1033.2 1069.1L1035.6 1069.9L1038.1 1070.7L1040.6 1071.4L1043.1 1072.2L1045.6 1073.0L1048.0 1073.7L1050.5 1074.5L1053.0 1075.2L1055.5 1076.0L1058.0 1076.7L1060.5 1077.4L1063.0 1078.2L1065.5 1078.9L1067.9 1079.6L1070.4 1080.3L1072.9 1081.1L1075.4 1081.8L1077.9 1082.5L1080.4 1083.2L1082.9 1083.9L1085.4 1084.6L1087.9 1085.3L1090.5 1086.0L1093.0 1086.6L1095.5 1087.3L1098.0 1088.0L1100.5 1088.7L1103.0 1089.3L1105.5 1090.0L1108.0 1090.7L1110.5 1091.3L1113.1 1092.0L1115.6 1092.6L1118.1 1093.3L1120.6 1093.9L1123.1 1094.6L1125.7 1095.2L1128.2 1095.8L1130.7 1096.5L1133.2 1097.1L1135.8 1097.7L1138.3 1098.3L1140.8 1099.0L1143.4 1099.6L1145.9 1100.2L1148.4 1100.8L1151.0 1101.4L1153.5 1102.0L1156.0 1102.6L1158.6 1103.2L1161.1 1103.8L1163.6 1104.4L1166.2 1104.9L1168.7 1105.5L1171.3 1106.1L1173.8 1106.7L1176.4 1107.2L1178.9 1107.8L1181.4 1108.4L1184.0 1108.9L1186.5 1109.5L1189.1 1110.0L1191.6 1110.6L1194.2 1111.1L1196.7 1111.7L1199.3 1112.2L1201.8 1112.8L1204.4 1113.3L1207.0 1113.8L1209.5 1114.4L1212.1 1114.9L1214.6 1115.4L1217.2 1115.9L1219.7 1116.5L1222.3 1117.0L1224.9 1117.5L1227.4 1118.0L1230.0 1118.5L1232.5 1119.0L1235.1 1119.5L1237.7 1120.0L1240.2 1120.5L1242.8 1121.0L1245.4 1121.5L1247.9 1122.0L1250.5 1122.5L1253.1 1122.9L1255.6 1123.4L1258.2 1123.9L1260.8 1124.4L1263.3 1124.9L1265.9 1125.3L1268.5 1125.8L1271.0 1126.3L1273.6 1126.7L1276.2 1127.2L1278.7 1127.6L1281.3 1128.1L1283.9 1128.5L1286.5 1129.0L1289.0 1129.4L1291.6 1129.9L1294.2 1130.3L1296.8 1130.8L1299.3 1131.2L1301.9 1131.6L1304.5 1132.1L1307.1 1132.5L1309.6 1132.9L1312.2 1133.4L1314.8 1133.8L1317.4 1134.2L1320.0 1134.6L1322.5 1135.1L1325.1 1135.5L1327.7 1135.9L1330.3 1136.3L1332.9 1136.7L1335.4 1137.1L1338.0 1137.5L1340.6 1137.9L1343.2 1138.3L1345.8 1138.7L1348.3 1139.1L1350.9 1139.5L1353.5 1139.9L1356.1 1140.3L1358.7 1140.7L1361.2 1141.1L1363.8 1141.5L1366.4 1141.9L1369.0 1142.3L1371.6 1142.6L1374.2 1143.0L1376.7 1143.4L1379.3 1143.8L1381.9 1144.1L1384.5 1144.5L1387.1 1144.9L1389.7 1145.3L1392.2 1145.6L1394.8 1146.0L1397.4 1146.4L1400.0 1146.7L1402.6 1147.1L1405.1 1147.4L1407.7 1147.8L1410.3 1148.2L1412.9 1148.5L1415.5 1148.9L1418.1 1149.2L1420.6 1149.6L1423.2 1149.9L1425.8 1150.3L1428.4 1150.6L1431.0 1151.0L1433.6 1151.3L1436.1 1151.6L1438.7 1152.0L1441.3 1152.3L1443.9 1152.7L1446.5 1153.0L1449.0 1153.3L1451.6 1153.7L1454.2 1154.0L1456.8 1154.3L1459.4 1154.7L1461.9 1155.0L1464.5 1155.3L1467.1 1155.7L1469.7 1156.0L1472.2 1156.3L1474.8 1156.6L1477.4 1157.0L1480.0 1157.3L1482.6 1157.6L1485.1 1157.9L1487.7 1158.2L1490.3 1158.6L1492.9 1158.9L1495.4 1159.2L1498.0 1159.5L1500.6 1159.8L1503.1 1160.1L1505.7 1160.5L1508.3 1160.8L1510.9 1161.1L1513.4 1161.4L1516.0 1161.7L1518.6 1162.0L1521.1 1162.3L1523.7 1162.6L1526.3 1162.9L1528.8 1163.2L1531.4 1163.6L1534.0 1163.9L1536.5 1164.2L1539.1 1164.5L1541.7 1164.8L1544.2 1165.1L1546.8 1165.4L1549.4 1165.7L1551.9 1166.0L1554.5 1166.3L1557.1 1166.6L1559.6 1166.9L1562.2 1167.2L1564.7 1167.5L1567.3 1167.8L1569.8 1168.1L1572.8 1168.4L1575.8 1168.8L1578.8 1169.1L1581.8 1169.5L1584.7 1169.8L1587.7 1170.2L1590.7 1170.5L1593.7 1170.8L1596.6 1171.2L1599.6 1171.5L1602.6 1171.9L1605.6 1172.2L1608.5 1172.6L1611.5 1172.9L1614.5 1173.3L1617.4 1173.6L1620.4 1173.9L1623.4 1174.3L1626.3 1174.6L1629.3 1175.0L1632.2 1175.3L1635.2 1175.7L1638.1 1176.0L1641.1 1176.3L1644.0 1176.7L1647.0 1177.0L1649.9 1177.4L1652.9 1177.7L1655.8 1178.1L1658.8 1178.4L1661.7 1178.8L1664.7 1179.1L1667.6 1179.5L1670.6 1179.8L1673.5 1180.2L1676.4 1180.5L1686.0 1181.6" stroke="#781c86" stroke-width="8.8" stroke-dasharray="27.54 10.52"/>
<path d="M709.4 1458.0L710.3 1455.0L711.2 1451.8L712.1 1448.5L713.0 1445.5L713.9 1442.9L715.0 1441.0L716.6 1439.6L718.7 1438.4L720.4 1437.3L722.5 1435.9L724.9 1434.3L727.5 1432.6L730.3 1430.8L733.2 1429.0L736.0 1427.3L738.7 1425.8L741.2 1424.5L744.1 1423.2L746.9 1422.1L749.7 1421.2L752.5 1420.3L755.2 1419.4L758.0 1418.5L760.9 1417.5L763.7 1416.6L766.5 1415.6L769.3 1414.7L772.2 1413.8L775.0 1412.9L777.8 1412.0L780.7 1411.1L783.5 1410.2L786.3 1409.3L789.2 1408.5L792.0 1407.6L794.9 1406.8L797.7 1406.0L800.6 1405.2L803.4 1404.3L806.3 1403.5L809.2 1402.8L812.0 1402.0L814.9 1401.2L817.7 1400.4L820.6 1399.7L823.5 1398.9L826.4 1398.2L829.2 1397.5L832.1 1396.8L835.0 1396.0L837.9 1395.3L840.7 1394.6L843.6 1394.0L846.5 1393.3L849.4 1392.6L852.3 1391.9L855.2 1391.3L858.1 1390.6L861.0 1390.0L863.9 1389.3L866.8 1388.7L869.7 1388.1L872.6 1387.5L875.5 1386.9L878.4 1386.3L881.3 1385.7L884.2 1385.1L887.1 1384.5L890.0 1383.9L892.9 1383.3L895.8 1382.8L898.7 1382.2L901.6 1381.6L904.5 1381.1L907.5 1380.5L910.4 1380.0L913.3 1379.5L916.2 1378.9L919.1 1378.4L922.1 1377.9L925.0 1377.4L927.9 1376.8L930.8 1376.3L933.7 1375.8L936.7 1375.3L939.6 1374.8L942.5 1374.3L945.4 1373.8L948.4 1373.3L951.3 1372.9L954.2 1372.4L957.2 1371.9L960.1 1371.4L963.0 1371.0L965.9 1370.5L968.9 1370.0L971.8 1369.6L974.7 1369.1L977.7 1368.7L980.6 1368.2L983.5 1367.8L986.5 1367.3L989.4 1366.9L992.4 1366.4L995.3 1366.0L998.2 1365.6L1001.2 1365.1L1004.1 1364.7L1007.0 1364.3L1010.0 1363.9L1012.9 1363.4L1015.9 1363.0L1018.8 1362.6L1021.7 1362.2L1024.7 1361.8L1027.6 1361.4L1030.6 1361.0L1033.5 1360.6L1036.5 1360.2L1039.4 1359.8L1042.3 1359.4L1045.3 1359.0L1048.2 1358.6L1051.2 1358.2L1054.1 1357.9L1057.1 1357.5L1060.0 1357.1L1063.0 1356.7L1065.9 1356.4L1068.9 1356.0L1071.8 1355.6L1074.8 1355.3L1077.7 1354.9L1080.7 1354.6L1083.6 1354.2L1086.6 1353.9L1089.5 1353.5L1092.5 1353.2L1095.4 1352.8L1098.4 1352.5L1101.3 1352.1L1104.3 1351.8L1107.2 1351.5L1110.2 1351.1L1113.2 1350.8L1116.1 1350.5L1119.1 1350.1L1122.0 1349.8L1125.0 1349.5L1127.9 1349.2L1130.9 1348.9L1133.8 1348.6L1136.8 1348.2L1139.8 1347.9L1142.7 1347.6L1145.7 1347.3L1148.6 1347.0L1151.6 1346.7L1154.6 1346.4L1157.5 1346.1L1160.5 1345.8L1163.4 1345.5L1166.4 1345.2L1169.4 1344.9L1172.3 1344.6L1175.3 1344.4L1178.2 1344.1L1181.2 1343.8L1184.2 1343.5L1187.1 1343.2L1190.1 1343.0L1193.1 1342.7L1196.0 1342.4L1199.0 1342.1L1202.0 1341.9L1204.9 1341.6L1207.9 1341.3L1210.8 1341.1L1213.8 1340.8L1216.8 1340.5L1219.7 1340.3L1222.7 1340.0L1225.7 1339.8L1228.6 1339.5L1231.6 1339.2L1234.6 1339.0L1237.5 1338.7L1240.5 1338.5L1243.5 1338.2L1246.4 1338.0L1249.4 1337.7L1252.4 1337.5L1255.3 1337.3L1258.3 1337.0L1261.3 1336.8L1264.3 1336.5L1267.2 1336.3L1270.2 1336.1L1273.2 1335.8L1276.1 1335.6L1279.1 1335.4L1282.1 1335.1L1285.0 1334.9L1288.0 1334.7L1291.0 1334.4L1293.9 1334.2L1296.9 1334.0L1299.9 1333.8L1302.9 1333.5L1305.8 1333.3L1308.8 1333.1L1311.8 1332.9L1314.7 1332.7L1317.7 1332.4L1320.7 1332.2L1323.6 1332.0L1326.6 1331.8L1329.6 1331.6L1332.6 1331.4L1335.5 1331.1L1338.5 1330.9L1341.5 1330.7L1344.4 1330.5L1347.4 1330.3L1350.4 1330.1L1353.4 1329.9L1356.3 1329.7L1359.3 1329.5L1362.3 1329.3L1365.2 1329.1L1368.2 1328.9L1371.2 1328.6L1374.2 1328.4L1377.1 1328.2L1380.1 1328.0L1383.1 1327.8L1386.0 1327.6L1389.0 1327.4L1392.0 1327.2L1395.0 1327.0L1397.9 1326.8L1400.9 1326.6L1403.9 1326.4L1406.8 1326.2L1409.8 1326.0L1412.8 1325.8L1415.8 1325.7L1418.7 1325.5L1421.7 1325.3L1424.7 1325.1L1427.6 1324.9L1430.6 1324.7L1433.6 1324.5L1436.6 1324.3L1439.5 1324.1L1442.5 1323.9L1445.5 1323.7L1448.4 1323.5L1451.4 1323.3L1454.4 1323.1L1457.3 1322.9L1460.3 1322.7L1463.3 1322.5L1466.3 1322.3L1469.2 1322.1L1472.2 1322.0L1475.2 1321.8L1478.1 1321.6L1481.1 1321.4L1484.1 1321.2L1487.0 1321.0L1490.0 1320.8L1493.0 1320.6L1495.9 1320.4L1498.9 1320.2L1501.9 1320.0L1504.8 1319.8L1507.8 1319.6L1510.8 1319.4L1513.7 1319.2L1516.7 1319.0L1519.7 1318.8L1522.6 1318.6L1525.6 1318.4L1528.6 1318.2L1531.5 1318.1L1534.5 1317.9L1537.5 1317.7L1540.4 1317.5L1543.4 1317.3L1546.4 1317.1L1549.3 1316.9L1552.3 1316.7L1555.3 1316.5L1558.2 1316.2L1561.2 1316.0L1564.1 1315.8L1567.1 1315.6L1570.1 1315.4L1573.0 1315.2L1576.0 1315.0L1579.0 1314.8L1581.9 1314.6L1584.9 1314.4L1587.8 1314.2L1590.8 1314.0L1593.8 1313.8L1596.7 1313.6L1599.7 1313.4L1602.6 1313.1L1605.6 1312.9L1608.6 1312.7L1611.5 1312.5L1614.5 1312.3L1617.4 1312.1L1620.4 1311.8L1623.3 1311.6L1626.3 1311.4L1629.3 1311.2L1632.2 1311.0L1635.2 1310.7L1638.1 1310.5L1641.1 1310.3L1644.0 1310.1L1647.0 1309.8L1649.9 1309.6L1652.9 1309.4L1655.8 1309.1L1658.8 1308.9L1661.7 1308.7L1664.7 1308.4L1667.6 1308.2L1670.6 1308.0L1673.5 1307.7L1676.5 1307.5L1686.0 1306.7" stroke="#4330b8" stroke-width="8.8"/>
<path d="M864.5 1458.0L865.6 1455.5L866.7 1452.9L867.9 1450.4L869.5 1448.0L871.1 1446.2L873.0 1444.5L875.1 1442.9L877.3 1441.3L879.7 1439.8L882.0 1438.5L884.6 1437.2L887.3 1436.1L890.2 1435.2L893.0 1434.2L895.9 1433.3L898.8 1432.4L901.6 1431.4L904.4 1430.4L907.2 1429.5L910.0 1428.5L912.8 1427.6L915.7 1426.7L918.5 1425.7L921.3 1424.8L924.2 1423.9L927.0 1423.1L929.8 1422.2L932.7 1421.3L935.5 1420.5L938.4 1419.6L941.2 1418.8L944.1 1418.0L946.9 1417.1L949.8 1416.3L952.6 1415.5L955.5 1414.7L958.3 1414.0L961.2 1413.2L964.1 1412.4L966.9 1411.7L969.8 1410.9L972.7 1410.2L975.6 1409.5L978.4 1408.8L981.3 1408.1L984.2 1407.4L987.1 1406.7L990.0 1406.0L992.9 1405.3L995.8 1404.6L998.7 1404.0L1001.5 1403.3L1004.4 1402.7L1007.3 1402.1L1010.2 1401.4L1013.1 1400.8L1016.1 1400.2L1019.0 1399.6L1021.9 1399.0L1024.8 1398.4L1027.7 1397.8L1030.6 1397.2L1033.5 1396.7L1036.4 1396.1L1039.4 1395.5L1042.3 1395.0L1045.2 1394.4L1048.1 1393.9L1051.0 1393.4L1054.0 1392.8L1056.9 1392.3L1059.8 1391.8L1062.8 1391.3L1065.7 1390.8L1068.6 1390.3L1071.6 1389.8L1074.5 1389.3L1077.4 1388.8L1080.4 1388.3L1083.3 1387.9L1086.2 1387.4L1089.2 1386.9L1092.1 1386.5L1095.1 1386.0L1098.0 1385.6L1101.0 1385.1L1103.9 1384.7L1106.9 1384.2L1109.8 1383.8L1112.8 1383.4L1115.7 1382.9L1118.7 1382.5L1121.6 1382.1L1124.6 1381.7L1127.5 1381.3L1130.5 1380.9L1133.4 1380.5L1136.4 1380.1L1139.3 1379.7L1142.3 1379.3L1145.2 1378.9L1148.2 1378.5L1151.2 1378.1L1154.1 1377.8L1157.1 1377.4L1160.0 1377.0L1163.0 1376.6L1165.9 1376.3L1168.9 1375.9L1171.9 1375.5L1174.8 1375.2L1177.8 1374.8L1180.7 1374.4L1183.7 1374.1L1186.7 1373.7L1189.6 1373.4L1192.6 1373.0L1195.6 1372.7L1198.5 1372.3L1201.5 1372.0L1204.4 1371.6L1207.4 1371.3L1210.4 1370.9L1213.3 1370.6L1216.3 1370.3L1219.3 1369.9L1222.2 1369.6L1225.2 1369.3L1228.1 1368.9L1231.1 1368.6L1234.1 1368.3L1237.0 1368.0L1240.0 1367.6L1243.0 1367.3L1245.9 1367.0L1248.9 1366.7L1251.9 1366.4L1254.8 1366.1L1257.8 1365.8L1260.8 1365.4L1263.7 1365.1L1266.7 1364.8L1269.7 1364.5L1272.6 1364.2L1275.6 1363.9L1278.6 1363.6L1281.5 1363.3L1284.5 1363.0L1287.5 1362.7L1290.4 1362.5L1293.4 1362.2L1296.4 1361.9L1299.3 1361.6L1302.3 1361.3L1305.3 1361.0L1308.3 1360.7L1311.2 1360.5L1314.2 1360.2L1317.2 1359.9L1320.1 1359.6L1323.1 1359.3L1326.1 1359.1L1329.0 1358.8L1332.0 1358.5L1335.0 1358.2L1337.9 1358.0L1340.9 1357.7L1343.9 1357.4L1346.9 1357.2L1349.8 1356.9L1352.8 1356.7L1355.8 1356.4L1358.7 1356.1L1361.7 1355.9L1364.7 1355.6L1367.7 1355.4L1370.6 1355.1L1373.6 1354.9L1376.6 1354.6L1379.5 1354.3L1382.5 1354.1L1385.5 1353.8L1388.5 1353.6L1391.4 1353.4L1394.4 1353.1L1397.4 1352.9L1400.3 1352.6L1403.3 1352.4L1406.3 1352.1L1409.3 1351.9L1412.2 1351.7L1415.2 1351.4L1418.2 1351.2L1421.1 1350.9L1424.1 1350.7L1427.1 1350.5L1430.1 1350.2L1433.0 1350.0L1436.0 1349.8L1439.0 1349.5L1441.9 1349.3L1444.9 1349.1L1447.9 1348.8L1450.9 1348.6L1453.8 1348.4L1456.8 1348.2L1459.8 1347.9L1462.7 1347.7L1465.7 1347.5L1468.7 1347.3L1471.7 1347.0L1474.6 1346.8L1477.6 1346.6L1480.6 1346.4L1483.5 1346.2L1486.5 1345.9L1489.5 1345.7L1492.5 1345.5L1495.4 1345.3L1498.4 1345.1L1501.4 1344.8L1504.3 1344.6L1507.3 1344.4L1510.3 1344.2L1513.3 1344.0L1516.2 1343.8L1519.2 1343.6L1522.2 1343.3L1525.1 1343.1L1528.1 1342.9L1531.1 1342.7L1534.1 1342.5L1537.0 1342.3L1540.0 1342.1L1543.0 1341.9L1545.9 1341.6L1548.9 1341.4L1551.9 1341.2L1554.8 1341.0L1557.8 1340.8L1560.8 1340.6L1563.8 1340.4L1566.7 1340.2L1569.7 1340.0L1572.7 1339.8L1575.6 1339.6L1578.6 1339.3L1581.6 1339.1L1584.5 1338.9L1587.5 1338.7L1590.5 1338.5L1593.4 1338.3L1596.4 1338.1L1599.4 1337.9L1602.4 1337.7L1605.3 1337.5L1608.3 1337.3L1611.3 1337.1L1614.2 1336.9L1617.2 1336.7L1620.2 1336.4L1623.1 1336.2L1626.1 1336.0L1629.1 1335.8L1632.0 1335.6L1635.0 1335.4L1638.0 1335.2L1640.9 1335.0L1643.9 1334.8L1646.9 1334.6L1649.8 1334.4L1652.8 1334.2L1655.8 1334.0L1658.7 1333.8L1661.7 1333.5L1664.6 1333.3L1667.6 1333.1L1670.6 1332.9L1673.5 1332.7L1676.5 1332.5L1686.0 1331.8" stroke="#4330b8" stroke-width="8.8"/>
<path d="M516.0 1461.5L516.0 1460.0L516.0 1458.4L516.0 1456.0L516.0 1453.0L516.0 1449.5L516.1 1445.8L516.1 1442.0L516.1 1438.5L516.1 1435.5L516.1 1433.1L516.1 1431.5L516.1 1430.0L516.1 1428.6L516.1 1426.6L516.2 1424.0L516.2 1421.0L516.2 1417.7L516.3 1414.3L516.3 1410.7L516.3 1407.2L516.4 1403.8L516.4 1400.7L516.4 1398.0L516.4 1395.1L516.4 1392.5L516.4 1389.9L516.3 1387.4L516.3 1384.9L516.3 1382.4L516.3 1379.9L516.3 1377.3L516.3 1374.7L516.3 1372.1L516.4 1369.5L516.4 1367.0L516.5 1364.4L516.5 1361.8L516.6 1359.2L516.7 1356.6L516.8 1354.0L516.9 1351.5L517.0 1348.9L517.1 1346.3L517.2 1343.7L517.3 1341.1L517.4 1338.5L517.6 1336.0L517.7 1333.4L517.9 1330.8L518.0 1328.2L518.2 1325.6L518.4 1323.1L518.5 1320.5L518.7 1317.9L518.9 1315.3L519.1 1312.8L519.3 1310.2L519.6 1307.6L519.8 1305.0L520.0 1302.5L520.3 1299.9L520.5 1297.3L520.8 1294.7L521.0 1292.2L521.3 1289.6L521.6 1287.0L521.8 1284.5L522.1 1281.9L522.4 1279.3L522.7 1276.8L523.0 1274.2L523.4 1271.6L523.7 1269.1L524.0 1266.5L524.4 1263.9L524.7 1261.4L525.1 1258.8L525.4 1256.2L525.8 1253.7L526.2 1251.1L526.6 1248.6L526.9 1246.0L527.3 1243.5L527.7 1240.9L528.2 1238.3L528.6 1235.8L529.0 1233.2L529.4 1230.7L529.9 1228.1L530.3 1225.6L530.8 1223.0L531.2 1220.5L531.7 1218.0L532.2 1215.4L532.6 1212.9L533.1 1210.3L533.6 1207.8L534.1 1205.2L534.6 1202.7L535.1 1200.2L535.7 1197.6L536.2 1195.1L536.7 1192.6L537.3 1190.0L537.8 1187.5L538.4 1185.0L538.9 1182.4L539.5 1179.9L540.1 1177.4L540.6 1174.9L541.2 1172.3L541.8 1169.8L542.4 1167.3L543.0 1164.8L543.6 1162.3L544.3 1159.7L544.9 1157.2L545.5 1154.7L546.2 1152.2L546.8 1149.7L547.4 1147.2L548.1 1144.7L548.8 1142.2L549.4 1139.7L550.1 1137.2L550.8 1134.7L551.5 1132.2L552.2 1129.7L552.9 1127.2L553.6 1124.7L554.3 1122.2L555.0 1119.7L555.8 1117.2L556.5 1114.7L557.2 1112.2L558.0 1109.8L558.7 1107.3L559.5 1104.8L560.3 1102.3L561.0 1099.8L561.8 1097.4L562.6 1094.9L563.4 1092.4L564.2 1090.0L565.0 1087.5L565.8 1085.0L566.6 1082.6L567.4 1080.1L568.2 1077.6L569.1 1075.2L569.9 1072.7L570.8 1070.3L571.6 1067.8L572.5 1065.4L573.3 1062.9L574.2 1060.5L575.1 1058.0L575.9 1055.6L576.8 1053.2L577.7 1050.7L578.6 1048.3L579.5 1045.8L580.4 1043.4L581.3 1041.0L582.3 1038.6L583.2 1036.1L584.1 1033.7L585.1 1031.3L586.0 1028.9L587.0 1026.5L587.9 1024.0L588.9 1021.6L589.8 1019.2L590.8 1016.8L591.8 1014.4L592.8 1012.0L593.8 1009.6L594.8 1007.2L595.8 1004.8L596.8 1002.4L597.8 1000.1L598.8 997.7L599.8 995.3L600.9 992.9L601.9 990.5L602.9 988.2L604.0 985.8L605.0 983.4L606.1 981.0L607.2 978.7L608.2 976.3L609.3 974.0L610.4 971.6L611.5 969.2L612.6 966.9L613.7 964.5L614.8 962.2L615.9 959.9L617.0 957.5L618.2 955.2L619.3 952.8L620.4 950.5L621.6 948.2L622.7 945.9L623.9 943.5L625.0 941.2L626.2 938.9L627.4 936.6L628.5 934.3L629.7 932.0L630.9 929.7L632.1 927.4L633.3 925.1L634.5 922.8L635.7 920.5L636.9 918.2L638.1 915.9L639.4 913.6L640.6 911.4L641.8 909.1L643.1 906.8L644.3 904.5L645.6 902.3L646.9 900.0L648.1 897.8L649.4 895.5L650.7 893.3L652.0 891.0L653.3 888.8L654.6 886.5L655.9 884.3L657.2 882.1L658.5 879.8L659.8 877.6L661.1 875.4L662.5 873.2L663.8 870.9L665.1 868.7L666.5 866.5L667.8 864.3L669.2 862.1L670.6 859.9L671.9 857.7L673.3 855.5L674.7 853.4L676.1 851.2L677.5 849.0L678.9 846.8L680.3 844.7L681.7 842.5L683.1 840.3L684.5 838.2L685.9 836.0L687.4 833.9L688.8 831.7L690.3 829.6L691.7 827.4L693.2 825.3L694.6 823.2L696.1 821.1L697.6 818.9L699.0 816.8L700.5 814.7L702.0 812.6L703.5 810.5L705.0 808.4L706.5 806.3L708.0 804.2L709.6 802.1L711.1 800.0L712.6 798.0L714.1 795.9L715.7 793.8L717.2 791.7L718.8 789.7L720.3 787.6L721.9 785.6L723.5 783.5L725.0 781.5L726.6 779.4L728.2 777.4L729.8 775.4L731.5 773.3L733.2 771.1L735.0 768.8L736.7 766.7L738.3 764.6L739.8 762.8L741.1 761.3L742.8 759.3L744.5 757.6L746.3 756.1L748.5 754.5L750.7 752.8L753.0 751.2L755.4 749.4L757.8 747.5L760.2 745.8L762.3 744.2L764.9 742.3L767.3 740.9L769.4 740.0L771.7 739.6L773.9 739.8L776.3 740.3L778.6 741.1L780.7 742.1L782.7 743.4L784.8 744.9L786.6 746.2L788.4 747.7L790.3 749.3L792.3 751.1L794.0 752.7L795.7 754.4L797.5 756.3L799.3 758.3L801.2 760.2L803.1 762.2L804.9 764.1L806.8 765.9L808.6 767.7L810.5 769.5L812.3 771.3L814.2 773.0L816.0 774.8L817.9 776.6L820.1 778.6L822.3 780.6L824.5 782.7L826.8 784.7L829.0 786.7L831.2 788.7L833.5 790.6L835.8 792.6L838.0 794.6L840.3 796.5L842.6 798.4L844.9 800.4L847.2 802.3L849.5 804.2L851.8 806.1L854.1 807.9L856.5 809.8L858.8 811.7L861.2 813.5L863.5 815.4L865.9 817.2L868.3 819.0L870.7 820.8L873.0 822.6L875.4 824.4L877.8 826.2L880.2 828.0L882.7 829.7L885.1 831.5L887.5 833.2L889.9 835.0L892.4 836.7L894.8 838.4L897.3 840.1L899.7 841.8L902.2 843.5L904.7 845.2L907.1 846.9L909.6 848.6L912.1 850.2L914.6 851.9L917.1 853.5L919.6 855.2L922.1 856.8L924.6 858.4L927.1 860.0L929.6 861.6L932.2 863.2L934.7 864.8L937.2 866.4L939.8 868.0L942.3 869.6L944.9 871.1L947.4 872.7L950.0 874.2L952.5 875.8L955.1 877.3L957.7 878.9L960.2 880.4L962.8 881.9L965.4 883.4L968.0 884.9L970.5 886.4L973.1 887.9L975.7 889.4L978.3 890.9L980.9 892.4L983.5 893.8L986.1 895.3L988.7 896.7L991.3 898.2L994.0 899.6L996.6 901.1L999.2 902.5L1001.8 903.9L1004.4 905.4L1007.1 906.8L1009.7 908.2L1012.3 909.6L1015.0 911.0L1017.6 912.4L1020.3 913.8L1022.9 915.1L1025.6 916.5L1028.2 917.9L1030.9 919.2L1033.5 920.6L1036.2 922.0L1038.9 923.3L1041.6 924.6L1044.2 926.0L1046.9 927.3L1049.6 928.6L1052.3 929.9L1054.9 931.2L1057.6 932.5L1060.3 933.8L1063.0 935.1L1065.7 936.4L1068.4 937.7L1071.1 939.0L1073.8 940.3L1076.5 941.5L1079.2 942.8L1082.0 944.0L1084.7 945.3L1087.4 946.5L1090.1 947.8L1092.8 949.0L1095.6 950.2L1098.3 951.5L1101.0 952.7L1103.8 953.9L1106.5 955.1L1109.2 956.3L1112.0 957.5L1114.7 958.7L1117.5 959.9L1120.2 961.1L1123.0 962.2L1125.7 963.4L1128.5 964.6L1131.2 965.7L1134.0 966.9L1136.8 968.0L1139.5 969.2L1142.3 970.3L1145.1 971.4L1147.9 972.6L1150.6 973.7L1153.4 974.8L1156.2 975.9L1159.0 977.1L1161.8 978.2L1164.5 979.3L1167.3 980.4L1170.1 981.4L1172.9 982.5L1175.7 983.6L1178.5 984.7L1181.3 985.8L1184.1 986.8L1186.9 987.9L1189.7 988.9L1192.5 990.0L1195.3 991.0L1198.2 992.1L1201.0 993.1L1203.8 994.2L1206.6 995.2L1209.0 996.1L1211.4 996.9L1213.9 997.8L1216.3 998.7L1218.7 999.6L1221.1 1000.4L1223.6 1001.3L1226.0 1002.1L1228.4 1003.0L1230.8 1003.8L1233.3 1004.7L1235.7 1005.5L1238.1 1006.4L1240.6 1007.2L1243.0 1008.0L1245.4 1008.9L1247.9 1009.7L1250.3 1010.5L1252.8 1011.3L1255.2 1012.1L1257.7 1013.0L1260.1 1013.8L1262.5 1014.6L1265.0 1015.4L1267.4 1016.2L1269.9 1017.0L1272.3 1017.8L1274.8 1018.6L1277.2 1019.4L1279.7 1020.2L1282.2 1020.9L1284.6 1021.7L1287.1 1022.5L1289.5 1023.3L1292.0 1024.0L1294.4 1024.8L1296.9 1025.6L1299.4 1026.3L1301.8 1027.1L1304.3 1027.9L1306.8 1028.6L1309.2 1029.4L1311.7 1030.1L1314.2 1030.9L1316.6 1031.6L1319.1 1032.3L1321.6 1033.1L1324.0 1033.8L1326.5 1034.5L1329.0 1035.3L1331.5 1036.0L1333.9 1036.7L1336.4 1037.4L1338.9 1038.2L1341.4 1038.9L1343.8 1039.6L1346.3 1040.3L1348.8 1041.0L1351.3 1041.7L1353.8 1042.4L1356.3 1043.1L1358.7 1043.8L1361.2 1044.5L1363.7 1045.2L1366.2 1045.9L1368.7 1046.6L1371.2 1047.2L1373.7 1047.9L1376.1 1048.6L1378.6 1049.3L1381.1 1050.0L1383.6 1050.6L1386.1 1051.3L1388.6 1052.0L1391.1 1052.6L1393.6 1053.3L1396.1 1053.9L1398.6 1054.6L1401.1 1055.2L1403.6 1055.9L1406.1 1056.5L1408.5 1057.2L1411.0 1057.8L1413.5 1058.5L1416.0 1059.1L1418.5 1059.8L1421.0 1060.4L1423.5 1061.0L1426.0 1061.7L1428.5 1062.3L1431.0 1062.9L1433.5 1063.5L1436.0 1064.1L1438.5 1064.8L1441.0 1065.4L1443.5 1066.0L1446.1 1066.6L1448.6 1067.2L1451.1 1067.8L1453.6 1068.4L1456.1 1069.0L1458.6 1069.6L1461.1 1070.2L1463.6 1070.8L1466.1 1071.4L1468.6 1072.0L1471.1 1072.6L1473.6 1073.2L1476.1 1073.8L1478.6 1074.4L1481.1 1074.9L1483.6 1075.5L1486.1 1076.1L1488.7 1076.7L1491.2 1077.3L1493.7 1077.8L1496.2 1078.4L1498.7 1079.0L1501.2 1079.5L1504.1 1080.2L1507.0 1080.8L1510.0 1081.5L1512.9 1082.1L1515.8 1082.8L1518.8 1083.4L1521.7 1084.1L1524.6 1084.7L1527.5 1085.4L1530.5 1086.0L1533.4 1086.6L1536.3 1087.3L1539.3 1087.9L1542.2 1088.5L1545.1 1089.1L1548.0 1089.7L1551.0 1090.4L1553.9 1091.0L1556.8 1091.6L1559.7 1092.2L1562.7 1092.8L1565.6 1093.4L1568.5 1094.0L1571.4 1094.6L1574.4 1095.2L1577.3 1095.8L1580.2 1096.4L1583.2 1097.0L1586.1 1097.6L1589.0 1098.2L1591.9 1098.8L1594.8 1099.4L1597.8 1100.0L1600.7 1100.5L1603.6 1101.1L1606.5 1101.7L1609.5 1102.3L1612.4 1102.8L1615.3 1103.4L1618.2 1104.0L1621.1 1104.5L1624.1 1105.1L1627.0 1105.7L1629.9 1106.2L1632.8 1106.8L1635.7 1107.4L1638.6 1107.9L1641.6 1108.5L1644.5 1109.0L1647.4 1109.6L1650.3 1110.1L1653.2 1110.7L1656.1 1111.2L1659.0 1111.8L1662.0 1112.3L1664.9 1112.8L1667.8 1113.4L1670.7 1113.9L1673.6 1114.5L1676.5 1115.0L1686.0 1116.8" stroke="#4330b8" stroke-width="8.8"/>
<path d="M1686.0 1181.1L1676.5 1180.0L1673.5 1179.7L1670.5 1179.3L1667.6 1179.0L1664.6 1178.6L1661.6 1178.3L1658.6 1178.0L1655.7 1177.6L1652.7 1177.3L1649.7 1176.9L1646.7 1176.6L1643.7 1176.3L1640.7 1175.9L1638.2 1175.6L1635.6 1175.4L1633.1 1175.1L1630.5 1174.8L1628.0 1174.5L1625.4 1174.2L1622.9 1173.9L1620.3 1173.6L1617.7 1173.3L1615.2 1173.0L1612.6 1172.7L1610.1 1172.4L1607.5 1172.2L1604.9 1171.9L1602.4 1171.6L1599.8 1171.3L1597.3 1171.0L1594.7 1170.7L1592.1 1170.4L1589.6 1170.1L1587.0 1169.8L1584.5 1169.5L1581.9 1169.2L1579.3 1168.9L1576.8 1168.6L1574.2 1168.3L1571.7 1168.0L1569.1 1167.7L1566.5 1167.4L1564.0 1167.1L1561.4 1166.8L1558.8 1166.5L1556.3 1166.2L1553.7 1165.9L1551.2 1165.6L1548.6 1165.3L1546.0 1165.0L1543.5 1164.7L1540.9 1164.4L1538.3 1164.1L1535.8 1163.8L1533.2 1163.5L1530.7 1163.2L1528.1 1162.9L1525.5 1162.6L1523.0 1162.3L1520.4 1162.0L1517.8 1161.7L1515.3 1161.4L1512.7 1161.0L1510.1 1160.7L1507.6 1160.4L1505.0 1160.1L1502.5 1159.8L1499.9 1159.5L1497.3 1159.2L1494.8 1158.8L1492.2 1158.5L1489.6 1158.2L1487.1 1157.9L1484.5 1157.6L1481.9 1157.2L1479.4 1156.9L1476.8 1156.6L1474.3 1156.3L1471.7 1155.9L1469.1 1155.6L1466.6 1155.3L1464.0 1154.9L1461.4 1154.6L1458.9 1154.3L1456.3 1153.9L1453.7 1153.6L1451.2 1153.3L1448.6 1152.9L1446.1 1152.6L1443.5 1152.3L1440.9 1151.9L1438.4 1151.6L1435.8 1151.2L1433.2 1150.9L1430.7 1150.5L1428.1 1150.2L1425.6 1149.8L1423.0 1149.5L1420.4 1149.1L1417.9 1148.8L1415.3 1148.4L1412.7 1148.1L1410.2 1147.7L1407.6 1147.3L1405.1 1147.0L1402.5 1146.6L1399.9 1146.3L1397.4 1145.9L1394.8 1145.5L1392.3 1145.2L1389.7 1144.8L1387.1 1144.4L1384.6 1144.0L1382.0 1143.7L1379.5 1143.3L1376.9 1142.9L1374.3 1142.5L1371.8 1142.1L1369.2 1141.8L1366.7 1141.4L1364.1 1141.0L1361.6 1140.6L1359.0 1140.2L1356.4 1139.8L1353.9 1139.4L1351.3 1139.0L1348.8 1138.6L1346.2 1138.2L1343.7 1137.8L1341.1 1137.4L1338.6 1137.0L1336.0 1136.6L1333.4 1136.2L1330.9 1135.8L1328.3 1135.4L1325.8 1134.9L1323.2 1134.5L1320.7 1134.1L1318.1 1133.7L1315.6 1133.2L1313.0 1132.8L1310.5 1132.4L1307.9 1132.0L1305.4 1131.5L1302.8 1131.1L1300.3 1130.6L1297.7 1130.2L1295.2 1129.8L1292.6 1129.3L1290.1 1128.9L1287.5 1128.4L1285.0 1128.0L1282.4 1127.5L1279.9 1127.1L1277.3 1126.6L1274.8 1126.1L1272.3 1125.7L1269.7 1125.2L1267.2 1124.7L1264.6 1124.3L1262.1 1123.8L1259.5 1123.3L1257.0 1122.9L1254.5 1122.4L1251.9 1121.9L1249.4 1121.4L1246.8 1120.9L1244.3 1120.4L1241.8 1119.9L1239.2 1119.4L1236.7 1118.9L1234.1 1118.4L1231.6 1117.9L1229.1 1117.4L1226.5 1116.9L1224.0 1116.4L1221.5 1115.9L1218.9 1115.4L1216.4 1114.9L1213.9 1114.3L1211.3 1113.8L1208.8 1113.3L1206.3 1112.7L1203.7 1112.2L1201.2 1111.7L1198.7 1111.1L1196.1 1110.6L1193.6 1110.1L1191.1 1109.5L1188.5 1109.0L1186.0 1108.4L1183.5 1107.8L1181.0 1107.3L1178.4 1106.7L1175.9 1106.2L1173.4 1105.6L1170.9 1105.0L1168.3 1104.4L1165.8 1103.9L1163.3 1103.3L1160.8 1102.7L1158.3 1102.1L1155.7 1101.5L1153.2 1100.9L1150.7 1100.3L1148.2 1099.7L1145.7 1099.1L1143.2 1098.5L1140.6 1097.9L1138.1 1097.3L1135.6 1096.7L1133.1 1096.1L1130.6 1095.4L1128.1 1094.8L1125.6 1094.2L1123.1 1093.5L1120.5 1092.9L1118.0 1092.3L1115.5 1091.6L1113.0 1091.0L1110.5 1090.3L1108.0 1089.7L1105.5 1089.0L1103.0 1088.4L1100.5 1087.7L1098.0 1087.0L1095.5 1086.4L1093.0 1085.7L1090.5 1085.0L1088.0 1084.3L1085.5 1083.6L1083.0 1083.0L1080.5 1082.3L1078.0 1081.6L1075.5 1080.9L1073.0 1080.2L1070.5 1079.5L1068.0 1078.7L1065.5 1078.0L1063.0 1077.3L1060.6 1076.6L1058.1 1075.9L1055.6 1075.1L1053.1 1074.4L1050.6 1073.7L1048.1 1072.9L1045.7 1072.2L1043.2 1071.4L1040.7 1070.7L1038.2 1069.9L1035.7 1069.1L1033.3 1068.4L1030.8 1067.6L1028.3 1066.8L1025.9 1066.1L1023.4 1065.3L1020.9 1064.5L1018.5 1063.7L1016.0 1062.9L1013.5 1062.1L1011.1 1061.3L1008.6 1060.5L1006.1 1059.7L1003.7 1058.9L1001.2 1058.0L998.8 1057.2L996.3 1056.4L993.9 1055.5L991.4 1054.7L989.0 1053.9L986.5 1053.0L984.1 1052.2L981.7 1051.3L979.2 1050.4L976.8 1049.6L974.3 1048.7L971.9 1047.8L969.5 1047.0L967.1 1046.1L964.6 1045.2L962.2 1044.3L959.8 1043.4L957.4 1042.5L954.9 1041.6L952.5 1040.7L950.1 1039.7L947.7 1038.8L945.3 1037.9L942.9 1037.0L940.5 1036.0L938.0 1035.1L935.6 1034.1L933.2 1033.2L930.8 1032.2L928.5 1031.3L926.1 1030.3L923.7 1029.3L921.3 1028.3L918.9 1027.4L916.5 1026.4L914.1 1025.4L911.7 1024.4L909.4 1023.4L907.0 1022.4L904.6 1021.3L902.2 1020.3L899.9 1019.3L897.5 1018.3L895.1 1017.2L892.8 1016.2L890.4 1015.1L888.1 1014.1L885.7 1013.0L883.4 1012.0L881.0 1010.9L878.7 1009.8L876.3 1008.8L874.0 1007.7L871.7 1006.6L869.3 1005.5L867.0 1004.4L864.7 1003.3L862.3 1002.2L860.0 1001.0L857.7 999.9L855.4 998.8L853.1 997.7L850.8 996.5L848.5 995.4L846.1 994.2L843.8 993.1L841.5 991.9L839.3 990.7L837.0 989.6L834.7 988.4L832.4 987.2L830.1 986.0L827.8 984.8L825.5 983.6L823.3 982.4L821.0 981.2L818.7 979.9L816.5 978.7L814.2 977.5L812.0 976.2L809.7 975.0L807.4 973.7L805.2 972.5L803.0 971.2L800.7 969.9L798.5 968.7L796.2 967.4L794.0 966.1L791.8 964.8L789.6 963.5L787.4 962.2L785.1 960.9L782.9 959.6L780.7 958.2L778.5 956.9L776.3 955.6L774.1 954.2L771.9 952.9L769.7 951.5L767.6 950.2L765.4 948.8L763.2 947.4L761.0 946.1L758.9 944.7L756.7 943.3L754.5 941.9L752.4 940.5L750.2 939.1L748.1 937.7L745.9 936.2L743.8 934.8L741.7 933.4L739.2 931.7L736.7 930.0L734.2 928.3L731.8 926.6L729.3 924.9L726.8 923.2L724.4 921.4L722.0 919.7L719.5 917.9L717.1 916.2L714.7 914.4L712.2 912.7L709.8 910.9L707.4 909.1L705.0 907.3L702.6 905.5L700.2 903.7L697.9 901.8L695.5 900.0L693.1 898.2L690.8 896.3L688.4 894.5L686.1 892.6L683.7 890.7L681.4 888.8L679.1 886.9L676.8 885.0L674.4 883.1L672.1 881.2L669.8 879.3L667.6 877.3L665.3 875.4L663.0 873.4L660.7 871.5L658.5 869.5L656.2 867.5L654.3 865.8L652.4 864.1L650.4 862.4L648.5 860.7L646.6 858.9L644.7 857.2L642.8 855.4L641.0 853.7L639.1 851.9L637.2 850.2L635.3 848.4L633.5 846.6L631.6 844.8L629.8 843.1L627.9 841.3L626.1 839.5L624.2 837.7L622.4 835.8L620.6 834.0L618.8 832.2L616.9 830.4L615.1 828.5L613.3 826.7L611.5 824.8L609.8 822.9L608.0 821.1L606.2 819.2L604.4 817.3L602.7 815.4L600.9 813.5L599.2 811.6L597.4 809.7L595.7 807.8L594.0 805.9L592.2 804.0L590.5 802.0L588.8 800.1L587.1 798.1L585.4 796.2L583.7 794.2L582.0 792.3L580.3 790.3L578.7 788.3L577.0 786.3L575.3 784.3L573.7 782.3L572.0 780.3L570.4 778.3L568.8 776.3L567.1 774.2L565.5 772.2L563.9 770.1L562.3 768.1L560.7 766.0L559.1 764.0L557.5 761.9L556.0 759.8L554.4 757.7L552.8 755.7L551.3 753.6L549.7 751.4L548.2 749.3L546.6 747.2L545.1 745.1L543.6 742.9L542.0 740.8L540.5 738.6L539.0 736.5L537.5 734.3L536.1 732.2L534.5 729.9L533.0 727.6L531.5 725.3L530.0 723.0L528.6 720.7L527.3 718.5L526.0 716.2L524.8 713.9L523.7 711.7L522.7 709.5L521.7 707.3L520.8 705.1L519.9 702.9L519.2 700.8L518.6 698.6L518.0 695.7L517.7 692.7L517.6 689.8L517.9 686.9L518.5 684.1L519.2 681.1L519.8 678.4L520.4 675.6L521.1 672.7L521.7 669.9L522.3 667.0L522.8 664.1L523.4 661.2L524.2 658.6L525.4 656.0L526.9 653.6L528.6 651.1L530.1 649.0L531.8 646.8L533.6 644.6L535.4 642.3L537.3 639.9L539.1 637.6L540.9 635.3L542.7 632.9L544.5 630.4L546.4 628.0L548.3 625.7L550.1 623.3L552.0 620.9L553.8 618.6L555.7 616.3L557.6 613.9L559.5 611.6L561.4 609.3L563.3 607.0L565.2 604.7L567.1 602.4L569.0 600.1L570.9 597.8L572.8 595.5L574.8 593.2L576.7 590.9L578.7 588.7L580.6 586.4L582.6 584.2L584.6 581.9L586.6 579.7L588.6 577.5L590.6 575.2L592.6 573.0L594.6 570.8L596.6 568.6L598.6 566.4L600.6 564.2L602.7 562.0L604.7 559.8L606.8 557.7L608.8 555.5L610.9 553.3L613.0 551.2L615.0 549.0L617.1 546.9L619.2 544.8L621.3 542.6L623.4 540.5L625.5 538.4L627.6 536.3L629.8 534.2L631.9 532.1L634.0 530.0L636.2 528.0L638.3 525.9L640.5 523.8L642.7 521.8L644.8 519.8L647.0 517.7L649.2 515.7L651.4 513.7L653.6 511.7L655.8 509.6L658.0 507.6L660.3 505.7L662.5 503.7L664.7 501.7L667.0 499.7L669.2 497.8L671.5 495.8L673.7 493.9L676.0 491.9L678.3 490.0L680.6 488.1L682.9 486.2L685.2 484.3L687.5 482.4L689.8 480.5L692.1 478.6L694.4 476.7L696.8 474.9L699.1 473.0L701.4 471.2L703.8 469.3L706.2 467.5L708.5 465.7L710.9 463.9L713.3 462.1L715.7 460.3L718.1 458.5L720.5 456.7L722.9 454.9L725.3 453.2L727.7 451.4L730.1 449.6L732.6 447.7L735.0 445.8L737.5 444.1L740.0 442.4L742.4 441.1L745.0 440.0L747.6 439.2L750.2 438.6L752.7 438.0L754.9 437.4L757.1 436.7L759.1 436.1L761.1 435.5L763.2 434.9L765.3 434.2L767.3 433.9L769.8 434.0L772.3 434.6L774.4 435.5L776.5 436.6L778.6 438.0L780.4 439.3L782.3 440.9L784.1 442.5L786.0 444.2L787.7 445.8L789.4 447.5L791.2 449.2L793.0 451.1L794.8 453.0L796.7 455.0L798.7 457.2L800.8 459.4L802.9 461.7L804.9 463.9L807.0 466.1L809.0 468.3L811.1 470.5L813.1 472.7L815.2 474.9L817.3 477.0L819.3 479.2L821.4 481.4L823.4 483.5L825.5 485.7L827.6 487.8L829.7 490.0L831.7 492.1L833.8 494.3L835.9 496.4L838.0 498.6L840.1 500.7L842.2 502.9L844.3 505.0L846.4 507.1L848.5 509.2L850.6 511.4L852.7 513.5L854.8 515.6L857.0 517.7L859.1 519.8L861.2 521.9L863.3 524.0L865.5 526.1L867.6 528.2L869.7 530.3L871.9 532.4L874.0 534.5L876.2 536.6L878.3 538.6L880.5 540.7L882.7 542.8L884.8 544.9L887.0 546.9L889.2 549.0L891.3 551.0L893.5 553.1L895.7 555.1L897.9 557.2L900.1 559.2L902.3 561.2L904.5 563.3L906.7 565.3L908.9 567.3L911.1 569.3L913.3 571.3L915.5 573.3L917.7 575.3L920.0 577.3L922.2 579.3L924.4 581.3L926.7 583.3L928.9 585.3L931.1 587.3L933.4 589.2L935.6 591.2L937.9 593.1L940.1 595.1L942.4 597.1L944.7 599.0L946.9 600.9L949.2 602.9L951.5 604.8L953.8 606.7L956.1 608.7L958.3 610.6L960.6 612.5L962.9 614.4L965.2 616.3L967.5 618.2L969.8 620.1L972.2 622.0L974.5 623.8L976.8 625.7L979.1 627.6L981.4 629.4L983.8 631.3L986.1 633.1L988.5 635.0L990.8 636.8L993.1 638.7L995.5 640.5L997.9 642.3L1000.2 644.1L1002.6 646.0L1004.9 647.8L1007.3 649.6L1009.7 651.4L1012.1 653.1L1014.5 654.9L1016.9 656.7L1019.2 658.5L1021.6 660.2L1024.0 662.0L1026.4 663.8L1028.9 665.5L1031.3 667.2L1033.7 669.0L1036.1 670.7L1038.5 672.4L1041.0 674.1L1043.4 675.8L1045.8 677.5L1048.3 679.2L1050.7 680.9L1053.2 682.6L1055.6 684.3L1058.1 686.0L1060.6 687.6L1063.0 689.3L1065.5 690.9L1068.0 692.6L1070.5 694.2L1073.0 695.8L1075.4 697.5L1077.9 699.1L1080.4 700.7L1082.9 702.3L1085.4 703.9L1087.9 705.5L1090.5 707.1L1093.0 708.7L1095.5 710.3L1098.0 711.8L1100.5 713.4L1103.1 714.9L1105.6 716.5L1108.2 718.0L1110.7 719.6L1113.2 721.1L1115.8 722.6L1118.4 724.2L1120.9 725.7L1123.5 727.2L1126.0 728.7L1128.6 730.2L1131.2 731.7L1133.8 733.2L1136.3 734.6L1138.9 736.1L1141.5 737.6L1144.1 739.0L1146.7 740.5L1149.3 741.9L1151.9 743.4L1154.5 744.8L1157.1 746.3L1159.7 747.7L1162.3 749.1L1164.9 750.5L1167.6 751.9L1170.2 753.3L1172.8 754.7L1175.5 756.1L1178.1 757.5L1180.7 758.9L1183.4 760.3L1186.0 761.6L1188.7 763.0L1191.3 764.4L1194.0 765.7L1196.6 767.1L1199.3 768.4L1201.9 769.8L1204.6 771.1L1207.3 772.4L1209.9 773.7L1212.6 775.0L1215.3 776.4L1218.0 777.7L1220.7 779.0L1223.3 780.3L1226.0 781.5L1228.7 782.8L1231.4 784.1L1234.1 785.4L1236.8 786.7L1239.5 787.9L1242.2 789.2L1244.9 790.4L1247.7 791.7L1250.4 792.9L1253.1 794.1L1255.8 795.4L1258.5 796.6L1261.3 797.8L1264.0 799.0L1266.7 800.3L1269.4 801.5L1272.2 802.7L1274.9 803.9L1277.7 805.0L1280.4 806.2L1283.1 807.4L1285.9 808.6L1288.6 809.8L1291.4 810.9L1294.1 812.1L1296.9 813.2L1299.7 814.4L1302.4 815.5L1305.2 816.7L1308.0 817.8L1310.7 819.0L1313.5 820.1L1316.3 821.2L1319.0 822.3L1321.8 823.4L1324.6 824.5L1327.4 825.7L1330.2 826.8L1333.0 827.8L1335.7 828.9L1338.5 830.0L1341.3 831.1L1344.1 832.2L1346.9 833.2L1349.7 834.3L1352.5 835.4L1355.3 836.4L1358.1 837.5L1360.9 838.5L1363.7 839.6L1366.5 840.6L1369.3 841.7L1372.2 842.7L1375.0 843.7L1377.8 844.7L1380.6 845.8L1383.4 846.8L1386.3 847.8L1389.1 848.8L1391.9 849.8L1394.7 850.8L1397.6 851.8L1400.4 852.8L1403.2 853.7L1406.1 854.7L1408.9 855.7L1411.7 856.7L1414.6 857.6L1417.4 858.6L1420.2 859.6L1423.1 860.5L1425.9 861.5L1428.8 862.4L1431.6 863.3L1434.5 864.3L1437.3 865.2L1440.2 866.1L1443.0 867.1L1445.9 868.0L1448.7 868.9L1451.6 869.8L1454.4 870.7L1457.3 871.6L1460.2 872.5L1463.0 873.4L1465.9 874.3L1468.7 875.2L1471.6 876.1L1474.5 877.0L1477.3 877.9L1480.2 878.7L1483.1 879.6L1485.9 880.5L1488.8 881.3L1491.7 882.2L1494.5 883.1L1497.4 883.9L1500.3 884.8L1503.2 885.6L1506.0 886.4L1508.9 887.3L1511.8 888.1L1514.7 889.0L1517.6 889.8L1520.4 890.6L1523.3 891.4L1526.2 892.2L1529.1 893.1L1532.0 893.9L1534.8 894.7L1537.7 895.5L1540.6 896.3L1543.5 897.1L1546.4 897.9L1549.3 898.6L1552.2 899.4L1555.0 900.2L1557.9 901.0L1560.8 901.8L1563.7 902.5L1566.6 903.3L1569.5 904.1L1572.4 904.8L1575.3 905.6L1578.2 906.3L1581.0 907.1L1583.9 907.9L1586.8 908.6L1589.7 909.3L1592.6 910.1L1595.5 910.8L1598.4 911.6L1601.3 912.3L1604.2 913.0L1607.1 913.7L1610.0 914.5L1612.9 915.2L1615.8 915.9L1618.6 916.6L1621.5 917.3L1624.4 918.0L1627.3 918.7L1630.2 919.4L1633.1 920.1L1636.0 920.8L1638.9 921.5L1641.8 922.2L1644.7 922.9L1647.6 923.6L1650.5 924.2L1653.4 924.9L1656.3 925.6L1659.2 926.3L1662.0 926.9L1664.9 927.6L1667.8 928.3L1670.7 928.9L1673.6 929.6L1676.5 930.2L1686.0 932.4" stroke="#4330b8" stroke-width="8.8"/>
<path d="M881.5 1437.8L884.6 1437.2L887.3 1436.1L890.2 1435.2L893.0 1434.2L895.9 1433.3L898.8 1432.4L901.6 1431.4L904.4 1430.4L907.2 1429.5L910.0 1428.5L912.8 1427.6L915.7 1426.7L918.5 1425.7L921.3 1424.8L924.2 1423.9L927.0 1423.1L929.8 1422.2L932.7 1421.3L935.5 1420.5L938.4 1419.6L941.2 1418.8L944.1 1418.0L946.9 1417.1L949.8 1416.3L952.6 1415.5L955.5 1414.7L958.3 1414.0L961.2 1413.2L964.1 1412.4L966.9 1411.7L969.8 1410.9L972.7 1410.2L975.6 1409.5L978.4 1408.8L981.3 1408.1L984.2 1407.4L987.1 1406.7L990.0 1406.0L992.9 1405.3L995.8 1404.6L998.7 1404.0L1001.5 1403.3L1004.4 1402.7L1007.3 1402.1L1010.2 1401.4L1013.1 1400.8L1016.1 1400.2L1019.0 1399.6L1021.9 1399.0L1024.8 1398.4L1027.7 1397.8L1030.6 1397.2L1033.5 1396.7L1036.4 1396.1L1039.4 1395.5L1042.3 1395.0L1045.2 1394.4L1048.1 1393.9L1051.0 1393.4L1054.0 1392.8L1056.9 1392.3L1059.8 1391.8L1062.8 1391.3L1065.7 1390.8L1068.6 1390.3L1071.6 1389.8L1074.5 1389.3L1077.4 1388.8L1080.4 1388.3L1083.3 1387.9L1086.2 1387.4L1089.2 1386.9L1092.1 1386.5L1095.1 1386.0L1098.0 1385.6L1101.0 1385.1L1103.9 1384.7L1106.9 1384.2L1109.8 1383.8L1112.8 1383.4L1115.7 1382.9L1118.7 1382.5L1121.6 1382.1L1124.6 1381.7L1127.5 1381.3L1130.5 1380.9L1133.4 1380.5L1136.4 1380.1L1139.3 1379.7L1142.3 1379.3L1145.2 1378.9L1148.2 1378.5L1151.2 1378.1L1154.1 1377.8L1157.1 1377.4L1160.0 1377.0L1163.0 1376.6L1165.9 1376.3L1168.9 1375.9L1171.9 1375.5L1174.8 1375.2L1177.8 1374.8L1180.7 1374.4L1183.7 1374.1L1186.7 1373.7L1189.6 1373.4L1192.6 1373.0L1195.6 1372.7L1198.5 1372.3L1201.5 1372.0L1204.4 1371.6L1207.4 1371.3L1210.4 1370.9L1213.3 1370.6L1216.3 1370.3L1219.3 1369.9L1222.2 1369.6L1225.2 1369.3L1228.1 1368.9L1231.1 1368.6L1234.1 1368.3L1237.0 1368.0L1240.0 1367.6L1243.0 1367.3L1245.9 1367.0L1248.9 1366.7L1251.9 1366.4L1254.8 1366.1L1257.8 1365.8L1260.8 1365.4L1263.7 1365.1L1266.7 1364.8L1269.7 1364.5L1272.6 1364.2L1275.6 1363.9L1278.6 1363.6L1281.5 1363.3L1284.5 1363.0L1287.5 1362.7L1290.4 1362.5L1293.4 1362.2L1296.4 1361.9L1299.3 1361.6L1302.3 1361.3L1305.3 1361.0L1308.3 1360.7L1311.2 1360.5L1314.2 1360.2L1317.2 1359.9L1320.1 1359.6L1323.1 1359.3L1326.1 1359.1L1329.0 1358.8L1332.0 1358.5L1335.0 1358.2L1337.9 1358.0L1340.9 1357.7L1343.9 1357.4L1346.9 1357.2L1349.8 1356.9L1352.8 1356.7L1355.8 1356.4L1358.7 1356.1L1361.7 1355.9L1364.7 1355.6L1367.7 1355.4L1370.6 1355.1L1373.6 1354.9L1376.6 1354.6L1379.5 1354.3L1382.5 1354.1L1385.5 1353.8L1388.5 1353.6L1391.4 1353.4L1394.4 1353.1L1397.4 1352.9L1400.3 1352.6L1403.3 1352.4L1406.3 1352.1L1409.3 1351.9L1412.2 1351.7L1415.2 1351.4L1418.2 1351.2L1421.1 1350.9L1424.1 1350.7L1427.1 1350.5L1430.1 1350.2L1433.0 1350.0L1436.0 1349.8L1439.0 1349.5L1441.9 1349.3L1444.9 1349.1L1447.9 1348.8L1450.9 1348.6L1453.8 1348.4L1456.8 1348.2L1459.8 1347.9L1462.7 1347.7L1465.7 1347.5L1468.7 1347.3L1471.7 1347.0L1474.6 1346.8L1477.6 1346.6L1480.6 1346.4L1483.5 1346.2L1486.5 1345.9L1489.5 1345.7L1492.5 1345.5L1495.4 1345.3L1498.4 1345.1L1501.4 1344.8L1504.3 1344.6L1507.3 1344.4L1510.3 1344.2L1513.3 1344.0L1516.2 1343.8L1519.2 1343.6L1522.2 1343.3L1525.1 1343.1L1528.1 1342.9L1531.1 1342.7L1534.1 1342.5L1537.0 1342.3L1540.0 1342.1L1543.0 1341.9L1545.9 1341.6L1548.9 1341.4L1551.9 1341.2L1554.8 1341.0L1557.8 1340.8L1560.8 1340.6L1563.8 1340.4L1566.7 1340.2L1569.7 1340.0L1572.7 1339.8L1575.6 1339.6L1578.6 1339.3L1581.6 1339.1L1584.5 1338.9L1587.5 1338.7L1590.5 1338.5L1593.4 1338.3L1596.4 1338.1L1599.4 1337.9L1602.4 1337.7L1605.3 1337.5L1608.3 1337.3L1611.3 1337.1L1614.2 1336.9L1617.2 1336.7L1620.2 1336.4L1623.1 1336.2L1626.1 1336.0L1629.1 1335.8L1632.0 1335.6L1635.0 1335.4L1638.0 1335.2L1640.9 1335.0L1643.9 1334.8L1646.9 1334.6L1649.8 1334.4L1652.8 1334.2L1655.8 1334.0L1658.7 1333.8L1661.7 1333.5L1664.6 1333.3L1667.6 1333.1L1670.6 1332.9L1673.5 1332.7L1676.5 1332.5L1686.0 1331.8" stroke="#559eae" stroke-width="8.8" stroke-dasharray="27.66 10.56"/>
<path d="M954.6 1431.0L957.1 1430.4L959.6 1429.7L962.1 1429.1L964.6 1428.5L967.1 1427.9L969.6 1427.2L972.1 1426.6L974.6 1426.0L977.1 1425.4L979.6 1424.9L982.1 1424.3L984.6 1423.7L987.2 1423.1L989.7 1422.6L992.2 1422.0L994.7 1421.5L997.2 1420.9L999.7 1420.4L1002.3 1419.9L1004.8 1419.3L1007.3 1418.8L1009.8 1418.3L1012.4 1417.8L1014.9 1417.3L1017.4 1416.8L1020.0 1416.3L1022.5 1415.8L1025.0 1415.4L1027.5 1414.9L1030.1 1414.4L1032.6 1413.9L1035.2 1413.5L1037.7 1413.0L1040.2 1412.6L1042.8 1412.1L1045.3 1411.7L1047.9 1411.3L1050.4 1410.8L1052.9 1410.4L1055.5 1410.0L1058.0 1409.6L1060.6 1409.2L1063.1 1408.8L1065.7 1408.4L1068.2 1408.0L1070.8 1407.6L1073.3 1407.2L1075.9 1406.8L1078.4 1406.4L1081.0 1406.1L1083.5 1405.7L1086.1 1405.3L1088.7 1404.9L1091.2 1404.6L1093.8 1404.2L1096.3 1403.9L1098.9 1403.5L1101.4 1403.2L1104.0 1402.8L1106.6 1402.5L1109.1 1402.2L1111.7 1401.8L1114.2 1401.5L1116.8 1401.2L1119.4 1400.9L1121.9 1400.5" stroke="#559eae" stroke-width="8.8" stroke-dasharray="27.50 10.50"/>
<path d="M794.5 1461.5L794.5 1458.6L794.5 1455.8L794.5 1452.9L794.6 1450.1L794.6 1447.2L794.6 1444.3L794.6 1441.5L794.6 1438.6L794.7 1435.7L794.7 1432.9L794.7 1430.0L794.7 1427.1L794.8 1424.1L794.8 1421.0L794.9 1418.0L794.9 1414.9L795.0 1411.9L795.0 1409.0L795.1 1406.1L795.1 1403.3L795.1 1400.6L795.1 1398.0L795.1 1394.7L795.0 1391.7L794.9 1388.8L794.8 1386.0L794.8 1383.1L794.7 1380.2L794.7 1377.3L794.7 1374.3L794.7 1371.4L794.7 1368.4L794.7 1365.5L794.8 1362.5L794.8 1359.5L794.9 1356.6L794.9 1353.6L795.0 1350.7L795.1 1347.7L795.2 1344.8L795.3 1341.8L795.4 1338.8L795.6 1335.9L795.7 1332.9L795.9 1330.0L796.0 1327.0L796.2 1324.1L796.4 1321.1L796.6 1318.2L796.8 1315.2L797.1 1312.3L797.3 1309.3L797.5 1306.4L797.8 1303.4L798.1 1300.5L798.3 1297.5L798.6 1294.6L798.9 1291.6L799.2 1288.7L799.5 1285.8L799.9 1282.8L800.2 1279.9L800.6 1276.9L800.9 1274.0L801.3 1271.1L801.7 1268.1L802.1 1265.2L802.5 1262.3L802.9 1259.3L803.3 1256.4L803.8 1253.5L804.2 1250.5L804.7 1247.6L805.2 1244.7L805.6 1241.8L806.1 1238.9L806.6 1235.9L807.1 1233.0L807.7 1230.1L808.2 1227.2L808.7 1224.3L809.3 1221.4L809.8 1218.5L810.4 1215.5L811.0 1212.6L811.6 1209.7L812.2 1206.8L812.8 1203.9L813.4 1201.0L814.1 1198.1L814.7 1195.2L815.4 1192.4L816.0 1189.5L816.7 1186.6L817.4 1183.7L818.1 1180.8L818.8 1177.9L819.5 1175.1L820.2 1172.2L821.0 1169.3L821.7 1166.4L822.5 1163.6L823.2 1160.7L824.0 1157.8L824.8 1155.0L825.6 1152.1L826.4 1149.3L827.2 1146.4L828.0 1143.6L828.9 1140.7L829.7 1137.9L830.5 1135.0L831.4 1132.2L832.3 1129.3L833.2 1126.5L834.1 1123.7L835.0 1120.8L835.9 1118.0L836.8 1115.2L837.7 1112.4L838.7 1109.6L839.6 1106.8L840.6 1103.9L841.5 1101.1L842.5 1098.3L843.5 1095.5L844.5 1092.7L845.5 1089.9L846.5 1087.1L847.5 1084.4L848.6 1081.6L849.6 1078.8L850.7 1076.0L851.7 1073.2L852.8 1070.5L853.9 1067.7L854.9 1064.9L856.0 1062.2L857.2 1059.4L858.3 1056.7L859.4 1053.9L860.5 1051.2L861.7 1048.4L862.8 1045.7L864.0 1043.0L865.2 1040.2L866.3 1037.5L867.5 1034.8L868.7 1032.1L869.9 1029.4L871.1 1026.7L872.4 1024.0L873.6 1021.3L874.8 1018.6L876.1 1015.9L877.3 1013.2L878.6 1010.5L879.9 1007.8L881.2 1005.1L882.5 1002.5L883.8 999.8L885.1 997.1L886.4 994.5L887.7 991.8L889.1 989.2L890.4 986.5L891.8 983.9L893.1 981.3L894.5 978.6L895.9 976.0L897.3 973.4L898.7 970.8L900.1 968.2L901.5 965.5L902.9 962.9L904.3 960.3L905.8 957.8L907.2 955.2L908.7 952.6L910.2 950.0L911.6 947.4L913.1 944.9L914.6 942.3L916.1 939.8L917.6 937.2L919.1 934.7L920.7 932.1L922.2 929.6L923.8 927.1L925.3 924.6L926.9 922.1L928.5 919.6L930.1 917.1L931.6 914.6L933.3 912.1L934.9 909.6L936.5 907.2L938.1 904.7L939.8 902.2L941.4 899.8L943.1 897.4L944.8 894.9L946.4 892.5L948.1 890.1L949.8 887.7L951.5 885.3L953.3 882.9L955.0 880.5L956.7 878.1L958.5 875.7L960.3 873.4L962.0 871.0L963.8 868.7L965.6 866.3L967.4 864.0L969.2 861.7L971.0 859.4L972.9 857.1L974.7 854.8L976.6 852.5L978.4 850.2L980.3 848.0L982.2 845.7L984.1 843.5L986.0 841.2L987.9 839.0L989.9 836.8L991.8 834.6L993.8 832.4L995.7 830.2L997.7 828.0L999.7 825.8L1001.7 823.7L1003.7 821.5L1005.7 819.4L1007.8 817.2L1009.8 815.1L1011.8 813.0L1013.9 810.9L1016.0 808.8L1018.1 806.8L1020.2 804.7L1022.3 802.6L1024.4 800.6L1026.5 798.5L1028.7 796.3L1030.8 794.2L1033.0 792.1L1035.2 790.2L1037.4 788.6L1039.6 787.3L1041.8 786.2L1044.1 785.3L1046.3 784.4L1048.6 783.6L1051.4 782.6L1054.3 781.7L1057.1 780.9L1059.9 780.4L1062.4 780.2L1064.9 780.3L1067.4 780.5L1069.8 780.8L1072.1 781.2L1074.4 781.6L1076.6 782.2L1078.6 782.9L1080.7 784.0L1082.7 785.3L1084.8 786.7L1086.8 788.0L1088.9 789.3L1091.1 790.8L1093.5 792.3L1095.4 793.6L1097.5 794.9L1099.7 796.3L1102.0 797.8L1104.2 799.2L1106.5 800.7L1108.7 802.1L1110.9 803.5L1113.1 804.9L1115.3 806.3L1117.4 807.6L1119.6 809.0L1121.8 810.4L1124.0 811.7L1126.2 813.1L1128.4 814.4L1130.6 815.8L1132.8 817.1L1135.0 818.5L1137.2 819.8L1139.5 821.1L1141.7 822.5L1143.9 823.8L1146.1 825.1L1148.3 826.4L1150.6 827.7L1152.8 829.0L1155.0 830.3L1157.2 831.6L1159.5 832.9L1161.7 834.2L1163.9 835.5L1166.2 836.8L1168.4 838.1L1170.7 839.3L1172.9 840.6L1175.2 841.9L1177.4 843.1L1179.7 844.4L1181.9 845.7L1184.2 846.9L1186.4 848.1L1188.7 849.4L1191.0 850.6L1193.2 851.9L1195.5 853.1L1197.8 854.3L1200.0 855.5L1202.3 856.8L1204.6 858.0L1206.9 859.2L1209.1 860.4L1211.4 861.6L1213.7 862.8L1216.0 864.0L1218.3 865.2L1220.6 866.4L1222.9 867.5L1225.2 868.7L1227.5 869.9L1229.8 871.1L1232.1 872.2L1234.4 873.4L1236.7 874.6L1239.0 875.7L1241.3 876.9L1243.6 878.0L1245.9 879.2L1248.2 880.3L1250.5 881.4L1252.8 882.6L1255.2 883.7L1257.5 884.8L1259.8 886.0L1262.1 887.1L1264.5 888.2L1266.8 889.3L1269.1 890.4L1271.4 891.5L1273.8 892.6L1276.1 893.7L1278.4 894.8L1280.8 895.9L1283.1 897.0L1285.5 898.0L1287.8 899.1L1290.2 900.2L1292.5 901.3L1294.9 902.3L1297.2 903.4L1299.6 904.5L1301.9 905.5L1304.3 906.6L1306.6 907.6L1309.0 908.7L1311.3 909.7L1313.7 910.7L1316.1 911.8L1318.4 912.8L1320.8 913.8L1323.2 914.9L1325.5 915.9L1327.9 916.9L1330.3 917.9L1332.7 918.9L1335.0 919.9L1337.4 920.9L1339.8 921.9L1342.2 922.9L1344.6 923.9L1347.0 924.9L1349.3 925.9L1351.7 926.9L1354.1 927.8L1356.5 928.8L1358.9 929.8L1361.3 930.8L1363.7 931.7L1366.1 932.7L1368.5 933.6L1370.9 934.6L1373.3 935.5L1375.7 936.5L1378.1 937.4L1380.5 938.4L1382.9 939.3L1385.3 940.2L1387.7 941.2L1390.1 942.1L1392.5 943.0L1395.0 943.9L1397.4 944.9L1399.8 945.8L1402.2 946.7L1404.6 947.6L1407.0 948.5L1409.5 949.4L1411.9 950.3L1414.3 951.2L1416.7 952.1L1419.2 953.0L1421.6 953.9L1424.0 954.7L1426.4 955.6L1428.9 956.5L1431.3 957.4L1433.7 958.2L1436.2 959.1L1438.6 960.0L1441.0 960.8L1443.5 961.7L1445.9 962.5L1448.4 963.4L1450.8 964.2L1453.2 965.1L1455.7 965.9L1458.1 966.7L1460.6 967.6L1463.0 968.4L1465.5 969.2L1467.9 970.1L1470.4 970.9L1472.8 971.7L1475.3 972.5L1477.7 973.3L1480.2 974.1L1482.6 974.9L1485.1 975.7L1487.5 976.5L1490.0 977.3L1492.5 978.1L1494.9 978.9L1497.4 979.7L1499.8 980.5L1502.3 981.3L1504.8 982.0L1507.2 982.8L1509.7 983.6L1512.2 984.4L1514.6 985.1L1517.1 985.9L1519.6 986.7L1522.0 987.4L1524.5 988.2L1527.0 988.9L1529.5 989.7L1531.9 990.4L1534.4 991.2L1536.9 991.9L1539.4 992.6L1541.8 993.4L1544.3 994.1L1546.8 994.8L1549.3 995.6L1551.7 996.3L1554.2 997.0L1556.7 997.7L1559.2 998.4L1561.7 999.2L1564.2 999.9L1566.6 1000.6L1569.1 1001.3L1571.6 1002.0L1574.1 1002.7L1576.6 1003.4L1579.1 1004.1L1581.6 1004.7L1584.0 1005.4L1586.5 1006.1L1589.0 1006.8L1591.5 1007.5L1594.0 1008.2L1596.5 1008.8L1599.0 1009.5L1601.5 1010.2L1604.0 1010.8L1606.5 1011.5L1609.0 1012.2L1611.5 1012.8L1614.0 1013.5L1616.5 1014.1L1619.0 1014.8L1621.4 1015.4L1623.9 1016.1L1626.4 1016.7L1628.9 1017.3L1631.4 1018.0L1633.9 1018.6L1636.4 1019.2L1638.9 1019.9L1641.4 1020.5L1643.9 1021.1L1646.4 1021.7L1648.9 1022.4L1651.5 1023.0L1654.0 1023.6L1656.5 1024.2L1659.0 1024.8L1661.5 1025.4L1664.0 1026.0L1666.5 1026.6L1669.0 1027.2L1671.5 1027.8L1674.0 1028.4L1676.5 1029.0L1686.0 1031.3" stroke="#559eae" stroke-width="8.8" stroke-dasharray="27.50 10.50"/>
<path d="M1686.0 1115.9L1676.6 1114.2L1674.1 1113.7L1671.6 1113.3L1669.1 1112.8L1666.5 1112.4L1664.0 1111.9L1661.5 1111.4L1658.9 1111.0L1656.4 1110.5L1653.9 1110.0L1651.3 1109.6L1648.8 1109.1L1646.3 1108.6L1643.7 1108.2L1641.2 1107.7L1638.7 1107.2L1636.2 1106.7L1633.6 1106.3L1631.1 1105.8L1628.6 1105.3L1626.1 1104.8L1623.5 1104.3L1620.6 1103.8L1617.6 1103.2L1614.7 1102.6L1611.8 1102.0L1608.8 1101.5L1605.9 1100.9L1602.9 1100.3L1600.0 1099.7L1597.0 1099.1L1594.1 1098.5L1591.2 1097.9L1588.2 1097.4L1585.3 1096.8L1582.4 1096.2L1579.4 1095.6L1576.5 1095.0L1573.5 1094.4L1570.6 1093.7L1567.7 1093.1L1564.7 1092.5L1561.8 1091.9L1558.9 1091.3L1555.9 1090.7L1553.0 1090.1L1550.1 1089.4L1547.2 1088.8L1544.2 1088.2L1541.3 1087.5L1538.4 1086.9L1535.4 1086.3L1532.5 1085.6L1529.6 1085.0L1526.7 1084.3L1523.7 1083.7L1520.8 1083.0L1517.9 1082.4L1515.0 1081.7L1512.0 1081.1L1509.1 1080.4L1506.2 1079.8L1503.3 1079.1L1500.4 1078.4L1497.4 1077.8L1494.5 1077.1L1491.6 1076.4L1488.7 1075.7L1485.8 1075.0L1482.9 1074.4L1479.9 1073.7L1477.0 1073.0L1474.1 1072.3L1471.2 1071.6L1468.3 1070.9L1465.4 1070.2L1462.5 1069.5L1459.6 1068.8L1456.6 1068.1L1453.7 1067.4L1450.8 1066.6L1447.9 1065.9L1445.0 1065.2L1442.1 1064.5L1439.2 1063.7L1436.3 1063.0L1433.4 1062.3L1430.5 1061.5L1427.6 1060.8L1424.7 1060.1L1421.8 1059.3L1418.9 1058.6L1416.0 1057.8L1413.1 1057.1L1410.2 1056.3L1407.3 1055.5L1404.4 1054.8L1401.5 1054.0L1398.6 1053.2L1395.7 1052.5L1392.8 1051.7L1389.9 1050.9L1387.1 1050.1L1384.2 1049.3L1381.3 1048.5L1378.4 1047.7L1375.5 1046.9L1372.6 1046.1L1369.7 1045.3L1366.8 1044.5L1364.0 1043.7L1361.1 1042.9L1358.2 1042.1L1355.3 1041.3L1352.4 1040.5L1349.5 1039.6L1346.7 1038.8L1343.8 1038.0L1340.9 1037.1L1338.0 1036.3L1335.1 1035.4L1332.3 1034.6L1329.4 1033.7L1326.5 1032.9L1323.6 1032.0L1320.8 1031.2L1317.9 1030.3L1315.0 1029.4L1312.2 1028.6L1309.3 1027.7L1306.8 1026.9L1304.4 1026.2L1301.9 1025.4L1299.5 1024.7L1297.0 1023.9L1294.6 1023.1L1292.1 1022.4L1289.6 1021.6L1287.2 1020.8L1284.7 1020.0L1282.3 1019.3L1279.8 1018.5L1277.4 1017.7L1274.9 1016.9L1272.5 1016.1L1270.0 1015.3L1267.6 1014.5L1265.1 1013.7L1262.7 1012.9L1260.2 1012.1L1257.8 1011.3L1255.4 1010.5L1252.9 1009.7L1250.5 1008.9L1248.0 1008.1L1245.6 1007.2L1243.1 1006.4L1240.7 1005.6L1238.3 1004.8L1235.8 1003.9L1233.4 1003.1L1230.9 1002.3L1228.5 1001.4L1226.1 1000.6L1223.6 999.7L1221.2 998.9L1218.8 998.0L1216.3 997.2L1213.9 996.3L1211.5 995.4L1209.0 994.6L1206.6 993.7L1204.2 992.8L1201.7 992.0L1199.3 991.1L1196.9 990.2L1194.4 989.3L1192.0 988.4L1189.6 987.5L1187.2 986.6L1184.8 985.7L1182.3 984.8L1179.9 983.9L1177.5 983.0L1175.1 982.1L1172.7 981.2L1170.2 980.3L1167.8 979.4L1165.4 978.4L1163.0 977.5L1160.6 976.6L1158.2 975.7L1155.8 974.7L1153.4 973.8L1151.0 972.8L1148.6 971.9L1146.2 970.9L1143.8 970.0L1141.4 969.0L1139.0 968.0L1136.6 967.1L1134.2 966.1L1131.8 965.1L1129.4 964.1L1127.1 963.1L1124.7 962.1L1122.3 961.2L1119.9 960.2L1117.5 959.2L1115.2 958.1L1112.8 957.1L1110.4 956.1L1108.0 955.1L1105.7 954.1L1103.3 953.0L1101.0 952.0L1098.6 951.0L1096.2 949.9L1093.9 948.9L1091.5 947.8L1089.2 946.8L1086.8 945.7L1084.5 944.7L1082.1 943.6L1079.8 942.5L1077.5 941.4L1075.1 940.3L1072.8 939.3L1070.5 938.2L1068.1 937.1L1065.8 936.0L1063.5 934.9L1061.2 933.7L1058.9 932.6L1056.5 931.5L1053.9 930.2L1051.2 928.9L1048.5 927.5L1045.8 926.2L1043.1 924.9L1040.4 923.5L1037.8 922.2L1035.1 920.8L1032.4 919.4L1029.8 918.0L1027.1 916.7L1024.5 915.3L1021.8 913.9L1019.2 912.5L1016.6 911.0L1013.9 909.6L1011.3 908.2L1008.7 906.7L1006.1 905.3L1003.5 903.9L1000.9 902.4L998.3 900.9L995.7 899.4L993.1 898.0L990.5 896.5L987.9 895.0L985.4 893.5L982.8 891.9L980.2 890.4L977.7 888.9L975.1 887.3L972.6 885.8L970.0 884.2L967.5 882.7L965.0 881.1L962.4 879.5L959.9 877.9L957.4 876.3L954.9 874.7L952.4 873.1L949.9 871.5L947.4 869.8L944.9 868.2L942.5 866.5L940.0 864.9L937.5 863.2L935.1 861.5L932.6 859.8L930.2 858.1L927.7 856.4L925.3 854.7L922.9 853.0L920.5 851.3L918.1 849.5L915.7 847.8L913.3 846.0L910.9 844.2L908.5 842.5L906.1 840.7L903.7 838.9L901.4 837.1L899.0 835.2L896.7 833.4L894.3 831.6L892.0 829.7L889.7 827.9L887.3 826.0L885.0 824.1L882.7 822.2L880.4 820.3L878.1 818.4L875.9 816.5L873.6 814.6L871.3 812.6L869.1 810.7L866.8 808.7L864.6 806.8L862.3 804.8L860.1 802.8L857.9 800.8L855.7 798.8L853.5 796.8L851.3 794.7L849.1 792.7L846.9 790.6L844.7 788.6L842.6 786.5L840.4 784.4L838.3 782.3L836.1 780.2L834.3 778.4L832.4 776.5L830.5 774.6L828.7 772.7L826.9 770.8L825.1 769.0L823.5 767.3L821.3 765.0L819.3 762.9L817.3 760.8L815.4 758.6L813.8 756.6L812.3 754.5L810.8 752.3L809.3 750.2L807.9 748.0L806.5 745.9L805.1 743.8L803.8 741.8L802.6 739.6L801.6 737.4L800.9 734.9L800.3 732.2L799.9 729.5L799.6 727.2L799.4 725.5L799.4 724.0L799.4 721.8L799.4 718.8L799.4 715.7L799.4 713.5L799.4 712.0L799.4 710.5L799.4 708.2L799.4 705.1L799.4 701.9L799.4 699.6L799.4 698.1L799.9 695.8L800.9 692.8L802.0 690.0L803.1 688.0L804.3 686.1L805.8 684.0L807.0 682.3L808.5 680.4L810.2 678.3L811.9 676.2L813.7 674.0L815.5 671.9L817.2 669.8L818.8 667.8L820.5 665.8L822.1 663.7L823.8 661.7L825.5 659.7L827.2 657.7L828.9 655.7L830.6 653.7L832.3 651.7L834.0 649.7L835.7 647.7L837.4 645.7L839.1 643.7L840.9 641.7L842.6 639.7L844.3 637.7L846.1 635.8L847.8 633.8L849.6 631.8L851.4 629.8L853.1 627.9L854.9 625.9L856.7 624.0L858.5 622.0L860.3 620.1L862.1 618.1L863.9 616.2L865.7 614.3L867.6 612.4L869.4 610.4L871.2 608.5L873.1 606.6L874.9 604.7L876.8 602.8L878.6 600.9L880.5 599.0L882.4 597.2L884.2 595.3L886.1 593.4L888.0 591.6L889.9 589.7L891.8 587.9L893.7 586.0L895.7 584.2L897.6 582.4L899.5 580.6L901.5 578.8L903.4 577.0L905.4 575.2L907.3 573.4L909.3 571.6L911.2 569.8L913.2 568.1L915.2 566.3L917.2 564.6L919.2 562.8L921.2 561.1L923.2 559.4L925.2 557.7L927.3 556.0L929.3 554.3L931.3 552.6L933.4 551.0L935.4 549.3L937.5 547.6L939.6 546.0L941.6 544.4L943.7 542.8L945.8 541.1L947.9 539.5L950.0 538.0L952.1 536.4L954.2 534.8L956.3 533.3L958.5 531.7L960.6 530.2L962.7 528.7L964.9 527.1L967.0 525.7L969.2 524.2L971.4 522.7L973.6 521.2L975.8 519.8L977.9 518.3L980.1 516.9L982.4 515.5L984.6 514.1L986.8 512.7L989.0 511.4L991.3 510.0L993.5 508.7L995.8 507.3L998.0 506.0L1000.3 504.7L1002.6 503.4L1004.8 502.1L1007.1 500.9L1009.4 499.6L1011.7 498.4L1014.0 497.2L1016.4 496.0L1018.7 494.8L1021.0 493.6L1023.4 492.5L1025.7 491.3L1028.1 490.2L1030.5 489.0L1032.9 487.8L1035.4 486.6L1037.8 485.6L1040.1 484.6L1042.4 483.8L1045.0 483.0L1047.5 482.3L1050.0 481.8L1052.4 481.4L1054.9 481.3L1057.4 481.5L1059.9 481.9L1062.4 482.5L1064.9 483.2L1067.3 483.8L1069.9 484.4L1072.5 485.1L1075.0 485.8L1077.3 486.7L1080.0 488.0L1082.5 489.5L1084.8 491.1L1086.5 492.4L1088.0 493.8L1089.8 495.4L1091.4 496.7L1093.3 498.2L1095.4 499.9L1097.5 501.5L1099.8 503.3L1101.9 505.0L1104.0 506.6L1106.1 508.2L1108.1 509.8L1110.2 511.4L1112.2 513.0L1114.3 514.5L1116.3 516.1L1118.4 517.7L1120.5 519.3L1122.5 520.8L1124.6 522.4L1126.6 524.0L1128.7 525.5L1130.8 527.1L1132.8 528.6L1134.9 530.2L1137.0 531.7L1139.1 533.3L1141.1 534.8L1143.2 536.3L1145.3 537.9L1147.4 539.4L1149.5 540.9L1151.6 542.5L1153.7 544.0L1155.8 545.5L1157.9 547.0L1160.0 548.6L1162.1 550.1L1164.2 551.6L1166.3 553.1L1168.4 554.6L1170.5 556.1L1172.6 557.6L1174.7 559.1L1176.8 560.6L1178.9 562.1L1181.0 563.6L1183.2 565.0L1185.3 566.5L1187.4 568.0L1189.5 569.5L1191.7 570.9L1193.8 572.4L1195.9 573.9L1198.1 575.3L1200.2 576.8L1202.3 578.3L1204.5 579.7L1206.6 581.2L1208.8 582.6L1210.9 584.1L1213.0 585.5L1215.2 587.0L1217.3 588.4L1219.5 589.8L1221.7 591.3L1223.8 592.7L1226.0 594.1L1228.1 595.5L1230.3 597.0L1232.5 598.4L1234.6 599.8L1236.8 601.2L1239.0 602.6L1241.1 604.0L1243.3 605.4L1245.5 606.8L1247.7 608.2L1249.8 609.6L1252.0 611.0L1254.2 612.4L1256.4 613.8L1258.6 615.1L1260.8 616.5L1263.0 617.9L1265.2 619.3L1267.4 620.6L1269.5 622.0L1271.7 623.4L1273.9 624.7L1276.1 626.1L1278.4 627.4L1280.6 628.8L1282.8 630.1L1285.0 631.5L1287.2 632.8L1289.4 634.2L1291.6 635.5L1293.8 636.8L1296.1 638.2L1298.3 639.5L1300.5 640.8L1302.7 642.1L1304.9 643.5L1307.2 644.8L1309.4 646.1L1311.6 647.4L1313.9 648.7L1316.1 650.0L1318.3 651.3L1320.6 652.6L1322.8 653.9L1325.1 655.2L1327.3 656.5L1329.5 657.8L1331.8 659.0L1334.0 660.3L1336.3 661.6L1338.5 662.9L1340.8 664.1L1343.0 665.4L1345.3 666.7L1347.6 667.9L1349.8 669.2L1352.1 670.4L1354.4 671.7L1356.6 672.9L1358.9 674.2L1361.2 675.4L1363.4 676.7L1365.7 677.9L1368.0 679.1L1370.2 680.4L1372.5 681.6L1374.8 682.8L1377.1 684.0L1379.4 685.3L1381.7 686.5L1383.9 687.7L1386.2 688.9L1388.5 690.1L1390.8 691.3L1393.1 692.5L1395.4 693.7L1397.7 694.9L1400.0 696.1L1402.3 697.3L1404.6 698.4L1406.9 699.6L1409.2 700.8L1411.5 702.0L1413.8 703.2L1416.1 704.3L1418.4 705.5L1420.7 706.6L1423.0 707.8L1425.4 709.0L1427.7 710.1L1430.0 711.3L1432.3 712.4L1434.6 713.6L1437.0 714.7L1439.3 715.8L1441.6 717.0L1443.9 718.1L1446.3 719.2L1448.6 720.4L1450.9 721.5L1453.3 722.6L1455.6 723.7L1457.9 724.8L1460.3 725.9L1462.6 727.0L1465.0 728.1L1467.3 729.2L1469.6 730.3L1472.0 731.4L1474.3 732.5L1476.7 733.6L1479.0 734.7L1481.4 735.8L1483.7 736.9L1486.1 737.9L1488.5 739.0L1490.8 740.1L1493.2 741.1L1495.5 742.2L1497.9 743.3L1500.3 744.3L1502.6 745.4L1505.0 746.4L1507.4 747.5L1509.7 748.5L1512.1 749.5L1514.5 750.6L1516.8 751.6L1519.2 752.6L1521.6 753.7L1524.0 754.7L1526.4 755.7L1528.7 756.7L1531.1 757.8L1533.5 758.8L1535.9 759.8L1538.3 760.8L1540.7 761.8L1543.1 762.8L1545.4 763.8L1547.8 764.8L1550.2 765.8L1552.6 766.7L1555.0 767.7L1557.4 768.7L1559.8 769.7L1562.2 770.7L1564.6 771.6L1567.0 772.6L1569.4 773.6L1571.8 774.5L1574.2 775.5L1576.6 776.4L1579.1 777.4L1581.5 778.3L1583.9 779.3L1586.3 780.2L1588.7 781.1L1591.1 782.1L1593.5 783.0L1596.0 783.9L1598.4 784.9L1600.8 785.8L1603.2 786.7L1605.7 787.6L1608.1 788.5L1610.5 789.4L1612.9 790.3L1615.4 791.2L1617.8 792.1L1620.2 793.0L1622.7 793.9L1625.1 794.8L1627.5 795.7L1630.0 796.6L1632.4 797.5L1634.8 798.4L1637.3 799.2L1639.7 800.1L1642.2 801.0L1644.6 801.8L1647.1 802.7L1649.5 803.5L1652.0 804.4L1654.4 805.2L1656.9 806.1L1659.3 806.9L1661.8 807.8L1664.2 808.6L1666.7 809.4L1669.1 810.3L1671.6 811.1L1674.0 811.9L1676.5 812.8L1686.0 816.0" stroke="#559eae" stroke-width="8.8" stroke-dasharray="27.50 10.50" stroke-dashoffset="32.18"/>
<path d="M1686.0 931.5L1676.7 929.5L1673.8 928.8L1670.8 928.2L1667.9 927.5L1665.0 926.9L1662.1 926.2L1659.2 925.6L1656.2 924.9L1653.3 924.2L1650.4 923.6L1647.5 922.9L1644.5 922.2L1641.6 921.5L1639.1 920.9L1636.6 920.4L1634.1 919.8L1631.6 919.2L1629.1 918.6L1626.6 918.0L1624.1 917.4L1621.6 916.8L1619.1 916.2L1616.6 915.6L1614.1 914.9L1611.5 914.3L1609.0 913.7L1606.5 913.1L1604.0 912.5L1601.5 911.9L1599.0 911.2L1596.5 910.6L1594.0 910.0L1591.5 909.3L1589.0 908.7L1586.5 908.1L1584.0 907.4L1581.5 906.8L1579.0 906.1L1576.5 905.5L1573.9 904.8L1571.4 904.2L1568.9 903.5L1566.4 902.8L1563.9 902.2L1561.4 901.5L1558.9 900.8L1556.4 900.2L1553.9 899.5L1551.4 898.8L1548.9 898.1L1546.4 897.4L1543.9 896.8L1541.4 896.1L1538.9 895.4L1536.4 894.7L1533.9 894.0L1531.4 893.3L1528.9 892.6L1526.4 891.9L1523.9 891.2L1521.4 890.4L1518.9 889.7L1516.4 889.0L1513.9 888.3L1511.4 887.6L1508.9 886.8L1506.4 886.1L1503.9 885.4L1501.4 884.6L1498.9 883.9L1496.4 883.2L1493.9 882.4L1491.4 881.7L1488.9 880.9L1486.5 880.2L1484.0 879.4L1481.5 878.6L1479.0 877.9L1476.5 877.1L1474.0 876.4L1471.5 875.6L1469.0 874.8L1466.5 874.0L1464.1 873.2L1461.6 872.5L1459.1 871.7L1456.6 870.9L1454.1 870.1L1451.6 869.3L1449.2 868.5L1446.7 867.7L1444.2 866.9L1441.7 866.1L1439.3 865.3L1436.8 864.4L1434.3 863.6L1431.8 862.8L1429.4 862.0L1426.9 861.2L1424.4 860.3L1421.9 859.5L1419.5 858.7L1417.0 857.8L1414.5 857.0L1412.1 856.1L1409.6 855.3L1407.1 854.4L1404.7 853.6L1402.2 852.7L1399.8 851.8L1397.3 851.0L1394.8 850.1L1392.4 849.2L1389.9 848.3L1387.5 847.5L1385.0 846.6L1382.6 845.7L1380.1 844.8L1377.7 843.9L1375.2 843.0L1372.8 842.1L1370.3 841.2L1367.9 840.3L1365.4 839.4L1363.0 838.5L1360.6 837.6L1358.1 836.6L1355.7 835.7L1353.2 834.8L1350.8 833.9L1348.4 832.9L1345.9 832.0L1343.5 831.0L1341.1 830.1L1338.7 829.2L1336.2 828.2L1333.8 827.2L1331.4 826.3L1329.0 825.3L1326.5 824.4L1324.1 823.4L1321.7 822.4L1319.3 821.4L1316.9 820.5L1314.5 819.5L1312.1 818.5L1309.6 817.5L1307.2 816.5L1304.8 815.5L1302.4 814.5L1300.0 813.5L1297.6 812.5L1295.2 811.5L1292.8 810.5L1290.4 809.4L1288.0 808.4L1285.6 807.4L1283.3 806.4L1280.9 805.3L1278.5 804.3L1276.1 803.3L1273.7 802.2L1271.3 801.2L1269.0 800.1L1266.6 799.0L1264.2 798.0L1261.8 796.9L1259.5 795.9L1257.1 794.8L1254.7 793.7L1252.4 792.6L1250.0 791.5L1247.6 790.5L1245.3 789.4L1242.9 788.3L1240.6 787.2L1238.2 786.1L1235.9 785.0L1233.5 783.9L1231.2 782.7L1228.8 781.6L1226.5 780.5L1224.1 779.4L1221.8 778.3L1219.5 777.1L1217.1 776.0L1214.8 774.8L1212.5 773.7L1210.1 772.6L1207.8 771.4L1205.5 770.2L1203.2 769.1L1200.8 767.9L1198.5 766.8L1196.2 765.6L1193.9 764.4L1191.6 763.2L1189.3 762.0L1187.0 760.9L1184.7 759.7L1182.4 758.5L1180.1 757.3L1177.8 756.1L1175.5 754.9L1173.2 753.6L1170.9 752.4L1168.6 751.2L1166.3 750.0L1164.1 748.7L1161.8 747.5L1159.5 746.3L1157.2 745.0L1155.0 743.8L1152.7 742.5L1150.4 741.3L1148.2 740.0L1145.9 738.8L1143.7 737.5L1141.4 736.2L1139.2 735.0L1136.9 733.7L1134.7 732.4L1132.4 731.1L1130.2 729.8L1127.9 728.5L1125.7 727.2L1123.5 725.9L1121.2 724.6L1119.0 723.3L1116.8 722.0L1114.6 720.7L1112.3 719.4L1110.1 718.0L1107.9 716.7L1105.7 715.4L1103.5 714.0L1101.3 712.7L1099.1 711.3L1096.9 710.0L1094.7 708.6L1092.5 707.2L1090.3 705.9L1088.1 704.5L1085.9 703.1L1083.8 701.7L1081.6 700.4L1079.4 699.0L1077.2 697.6L1075.1 696.2L1072.9 694.8L1070.7 693.4L1068.6 692.0L1066.4 690.5L1064.3 689.1L1062.1 687.7L1060.0 686.3L1057.8 684.8L1055.7 683.4L1053.5 681.9L1051.4 680.5L1049.3 679.0L1047.1 677.6L1045.0 676.1L1042.9 674.7L1040.8 673.2L1038.7 671.7L1036.6 670.2L1034.4 668.8L1032.3 667.3L1030.2 665.8L1028.1 664.3L1026.0 662.8L1023.9 661.3L1021.9 659.8L1019.8 658.2L1017.7 656.7L1015.6 655.2L1013.5 653.7L1011.5 652.1L1009.4 650.6L1007.3 649.1L1005.3 647.5L1003.2 646.0L1001.2 644.4L999.1 642.8L997.1 641.3L995.0 639.7L993.0 638.1L990.9 636.5L988.9 635.0L986.9 633.4L984.9 631.8L982.8 630.2L980.8 628.6L978.8 627.0L976.8 625.3L974.8 623.7L972.8 622.1L970.8 620.5L968.8 618.8L966.8 617.2L964.8 615.6L962.8 613.9L960.9 612.3L958.9 610.6L956.9 608.9L954.9 607.3L953.0 605.6L951.0 603.9L949.1 602.2L947.1 600.5L945.1 598.9L943.2 597.2L941.3 595.5L939.3 593.7L937.4 592.0L935.5 590.3L933.5 588.6L931.6 586.9L929.7 585.1L927.8 583.4L925.9 581.7L924.0 579.9L922.1 578.2L920.2 576.4L918.3 574.6L916.4 572.9L914.5 571.1L912.6 569.3L910.7 567.5L908.9 565.8L907.0 564.0L905.1 562.2L903.3 560.4L901.4 558.6L899.6 556.8L897.7 554.9L895.9 553.1L894.0 551.3L892.2 549.5L890.4 547.6L888.6 545.8L886.7 543.9L884.9 542.1L883.1 540.2L881.3 538.3L879.5 536.5L877.7 534.6L875.9 532.7L874.1 530.8L872.3 528.9L870.5 527.1L868.8 525.2L867.0 523.2L865.2 521.3L863.5 519.4L861.7 517.5L860.0 515.6L858.2 513.6L856.5 511.7L854.7 509.8L853.0 507.8L851.3 505.9L849.5 503.9L847.8 501.9L846.1 500.0L844.4 498.0L842.7 496.0L841.0 494.0L839.3 492.0L837.6 490.0L835.9 488.0L834.2 486.0L832.5 484.0L830.8 482.0L829.2 480.0L827.5 478.0L825.8 475.9L824.1 473.8L822.4 471.6L820.7 469.5L819.0 467.5L817.4 465.5L816.0 463.6L814.3 461.3L812.8 459.2L811.3 457.1L809.7 454.8L808.0 452.6L806.1 450.1L804.1 447.6L802.3 445.1L800.8 442.9L799.8 441.1L799.4 439.4L799.4 438.0L799.4 436.5L799.4 434.1L799.4 430.9L799.4 428.5L799.4 427.0L799.4 425.5L799.4 423.1L799.4 420.1L799.4 417.7L799.4 416.2L799.4 414.3L799.3 411.7L799.4 408.6L799.7 405.6L800.4 403.1L801.9 400.8L804.0 398.8L806.3 396.9L808.5 395.0L810.6 393.1L812.6 391.3L814.8 389.4L817.2 387.5L819.1 386.0L821.1 384.4L823.3 382.8L825.5 381.2L827.7 379.5L829.9 377.9L832.1 376.3L834.2 374.7L836.4 373.1L838.5 371.6L840.7 370.0L842.8 368.5L845.0 366.9L847.2 365.4L849.4 363.8L851.5 362.3L853.7 360.8L855.9 359.3L858.1 357.8L860.3 356.3L862.5 354.8L864.7 353.3L867.0 351.8L869.2 350.4L871.4 348.9L873.6 347.4L875.9 346.0L878.1 344.5L880.3 343.1L882.6 341.7L884.8 340.2L887.1 338.8L889.3 337.4L891.6 336.0L893.9 334.6L896.1 333.2L898.4 331.9L900.7 330.5L903.0 329.1L905.3 327.8L907.6 326.4L909.9 325.1L912.2 323.7L914.5 322.4L916.8 321.1L919.1 319.8L921.4 318.5L923.7 317.2L926.1 315.9L928.4 314.6L930.7 313.3L933.1 312.0L935.4 310.8L937.8 309.5L940.1 308.3L942.5 307.0L944.8 305.8L947.2 304.6L949.6 303.4L951.9 302.2L954.3 301.0L956.7 299.8L959.1 298.6L961.5 297.4L963.9 296.3L966.3 295.1L968.7 293.9L971.1 292.8L973.5 291.7L975.9 290.5L978.3 289.4L980.7 288.3L983.1 287.2L985.6 286.1L988.0 285.0L990.4 284.0L992.9 282.9L995.3 281.8L997.8 280.8L1000.2 279.7L1002.7 278.7L1005.1 277.7L1007.6 276.6L1010.0 275.6L1012.5 274.6L1015.1 273.4L1017.6 272.3L1020.1 271.2L1022.6 270.2L1025.0 269.4L1027.4 268.8L1030.0 268.4L1032.5 268.3L1035.0 268.3L1037.5 268.4L1040.0 268.4L1042.7 268.4L1045.5 268.3L1048.3 268.3L1051.0 268.4L1053.6 268.8L1056.5 269.6L1059.3 270.7L1062.1 271.9L1064.8 273.0L1067.4 273.9L1069.9 274.8L1072.4 275.7L1074.8 276.7L1077.5 278.1L1080.0 279.6L1082.3 281.1L1084.0 282.4L1085.5 283.8L1087.3 285.4L1089.1 287.1L1091.2 289.0L1093.4 291.1L1095.8 293.3L1098.1 295.5L1100.3 297.6L1102.5 299.6L1104.7 301.6L1106.9 303.6L1109.1 305.6L1111.3 307.6L1113.5 309.6L1115.7 311.6L1117.9 313.5L1120.1 315.5L1122.3 317.5L1124.5 319.5L1126.7 321.4L1129.0 323.4L1131.2 325.3L1133.4 327.3L1135.7 329.2L1137.9 331.2L1140.1 333.1L1142.4 335.1L1144.6 337.0L1146.9 338.9L1149.1 340.8L1151.4 342.7L1153.7 344.6L1155.9 346.5L1158.2 348.4L1160.5 350.3L1162.8 352.2L1165.0 354.1L1167.3 356.0L1169.6 357.9L1171.9 359.7L1174.2 361.6L1176.5 363.5L1178.8 365.3L1181.1 367.2L1183.4 369.0L1185.8 370.8L1188.1 372.7L1190.4 374.5L1192.7 376.3L1195.1 378.1L1197.4 379.9L1199.8 381.7L1202.1 383.5L1204.5 385.3L1206.8 387.1L1209.2 388.9L1211.5 390.7L1213.9 392.4L1216.3 394.2L1218.6 396.0L1221.0 397.7L1223.4 399.5L1225.8 401.2L1228.2 402.9L1230.6 404.7L1233.0 406.4L1235.4 408.1L1237.8 409.8L1240.2 411.5L1242.6 413.2L1245.0 414.9L1247.5 416.6L1249.9 418.3L1252.3 420.0L1254.7 421.7L1257.2 423.4L1259.6 425.0L1262.1 426.7L1264.5 428.3L1267.0 430.0L1269.4 431.7L1271.9 433.3L1274.3 434.9L1276.8 436.6L1279.3 438.2L1281.7 439.8L1284.2 441.4L1286.7 443.1L1289.2 444.7L1291.7 446.3L1294.1 447.9L1296.6 449.5L1299.1 451.0L1301.6 452.6L1304.1 454.2L1306.6 455.8L1309.1 457.4L1311.6 458.9L1314.2 460.5L1316.7 462.1L1319.2 463.6L1321.7 465.2L1324.2 466.7L1326.8 468.2L1329.3 469.8L1331.8 471.3L1334.4 472.8L1336.9 474.4L1339.5 475.9L1342.0 477.4L1344.5 478.9L1347.1 480.4L1349.6 481.9L1352.2 483.4L1354.8 484.9L1357.3 486.4L1359.9 487.9L1362.5 489.4L1365.0 490.8L1367.6 492.3L1370.2 493.8L1372.7 495.2L1375.3 496.7L1377.9 498.2L1380.5 499.6L1383.1 501.1L1385.7 502.5L1388.2 504.0L1390.8 505.4L1393.4 506.8L1396.0 508.3L1398.6 509.7L1401.2 511.1L1403.8 512.5L1406.4 514.0L1409.1 515.4L1411.7 516.8L1414.3 518.2L1416.9 519.6L1419.5 521.0L1422.1 522.4L1424.7 523.8L1427.4 525.2L1430.0 526.5L1432.6 527.9L1435.3 529.3L1437.9 530.7L1440.5 532.1L1443.1 533.4L1445.8 534.8L1448.4 536.2L1451.1 537.5L1453.7 538.9L1456.3 540.2L1459.0 541.6L1461.6 542.9L1464.3 544.3L1466.9 545.6L1469.6 546.9L1472.2 548.3L1474.9 549.6L1477.5 550.9L1480.2 552.3L1482.9 553.6L1485.5 554.9L1488.2 556.2L1490.8 557.5L1493.5 558.8L1496.2 560.2L1498.8 561.5L1501.5 562.8L1504.2 564.1L1506.8 565.4L1509.5 566.7L1512.2 568.0L1514.9 569.3L1517.5 570.5L1520.2 571.8L1522.9 573.1L1525.6 574.4L1528.3 575.7L1530.9 576.9L1533.6 578.2L1536.3 579.5L1539.0 580.8L1541.7 582.0L1544.3 583.3L1547.0 584.6L1549.7 585.8L1552.4 587.1L1555.1 588.3L1557.8 589.6L1560.5 590.8L1563.2 592.1L1565.9 593.3L1568.6 594.6L1571.2 595.8L1573.9 597.1L1576.6 598.3L1579.3 599.5L1582.0 600.8L1584.7 602.0L1587.4 603.2L1590.1 604.5L1592.8 605.7L1595.5 606.9L1598.2 608.1L1600.9 609.4L1603.6 610.6L1606.3 611.8L1609.0 613.0L1611.7 614.2L1614.4 615.5L1617.1 616.7L1619.8 617.9L1622.5 619.1L1625.2 620.3L1627.9 621.5L1630.6 622.7L1633.3 623.9L1636.0 625.1L1638.7 626.3L1641.4 627.5L1644.1 628.7L1646.8 629.9L1649.5 631.1L1652.2 632.3L1654.9 633.5L1657.6 634.7L1660.3 635.9L1663.0 637.1L1665.7 638.3L1668.4 639.4L1671.1 640.6L1673.8 641.8L1676.5 643.0L1686.0 647.2" stroke="#559eae" stroke-width="8.8" stroke-dasharray="27.50 10.50" stroke-dashoffset="30.82"/>
<path d="M1122.0 1400.5L1125.0 1400.1L1127.9 1399.6L1130.9 1399.2L1133.9 1398.8L1136.8 1398.3L1139.8 1397.9L1142.8 1397.5L1145.7 1397.1L1148.7 1396.6L1151.7 1396.2L1154.6 1395.8L1157.6 1395.4L1160.6 1395.0L1163.5 1394.6L1166.5 1394.2L1169.5 1393.8L1172.4 1393.4L1175.4 1393.0L1178.4 1392.6L1181.3 1392.2L1184.3 1391.8L1187.3 1391.4L1190.2 1391.0L1193.2 1390.6L1196.2 1390.2L1199.2 1389.8L1202.1 1389.4L1205.1 1389.1L1208.1 1388.7L1211.0 1388.3L1214.0 1387.9L1217.0 1387.6L1220.0 1387.2L1222.9 1386.8L1225.9 1386.5L1228.9 1386.1L1231.8 1385.7L1234.8 1385.4L1237.8 1385.0L1240.8 1384.7L1243.7 1384.3L1246.7 1383.9L1249.7 1383.6L1252.7 1383.2L1255.6 1382.9L1258.6 1382.6L1261.6 1382.2L1264.6 1381.9L1267.5 1381.5L1270.5 1381.2L1273.5 1380.9L1276.5 1380.5L1279.5 1380.2L1282.4 1379.9L1285.4 1379.5L1288.4 1379.2L1291.4 1378.9L1294.3 1378.5L1297.3 1378.2L1300.3 1377.9L1303.3 1377.6L1306.3 1377.3L1309.2 1376.9L1312.2 1376.6L1315.2 1376.3L1318.2 1376.0L1321.2 1375.7L1324.1 1375.4L1327.1 1375.1L1330.1 1374.8L1333.1 1374.5L1336.1 1374.2L1339.0 1373.9L1342.0 1373.6L1345.0 1373.3L1348.0 1373.0L1351.0 1372.7L1353.9 1372.4L1356.9 1372.1L1359.9 1371.8L1362.9 1371.5L1365.9 1371.2L1368.8 1370.9L1371.8 1370.7L1374.8 1370.4L1377.8 1370.1L1380.8 1369.8L1383.8 1369.5L1386.7 1369.3L1389.7 1369.0L1392.7 1368.7L1395.7 1368.4L1398.7 1368.2L1401.7 1367.9L1404.6 1367.6L1407.6 1367.4L1410.6 1367.1L1413.6 1366.8L1416.6 1366.6L1419.6 1366.3L1422.6 1366.0L1425.5 1365.8L1428.5 1365.5L1431.5 1365.3L1434.5 1365.0L1437.5 1364.7L1440.5 1364.5L1443.4 1364.2L1446.4 1364.0L1449.4 1363.7L1452.4 1363.5L1455.4 1363.2L1458.4 1363.0L1461.4 1362.7L1464.3 1362.5L1467.3 1362.3L1470.3 1362.0L1473.3 1361.8L1476.3 1361.5L1479.3 1361.3L1482.3 1361.1L1485.3 1360.8L1488.2 1360.6L1491.2 1360.3L1494.2 1360.1L1497.2 1359.9L1500.2 1359.6L1503.2 1359.4L1506.2 1359.2L1509.2 1358.9L1512.1 1358.7L1515.1 1358.5L1518.1 1358.3L1521.1 1358.0L1524.1 1357.8L1527.1 1357.6L1530.1 1357.4L1533.1 1357.1L1536.0 1356.9L1539.0 1356.7L1542.0 1356.5L1545.0 1356.3L1548.0 1356.0L1551.0 1355.8L1554.0 1355.6L1557.0 1355.4L1559.9 1355.2L1562.9 1355.0L1565.9 1354.7L1568.9 1354.5L1571.9 1354.3L1574.9 1354.1L1577.9 1353.9L1580.9 1353.7L1583.9 1353.5L1586.8 1353.3L1589.8 1353.1L1592.8 1352.8L1595.8 1352.6L1598.8 1352.4L1601.8 1352.2L1604.8 1352.0L1607.8 1351.8L1610.8 1351.6L1613.7 1351.4L1616.7 1351.2L1619.7 1351.0L1622.7 1350.8L1625.7 1350.6L1628.7 1350.4L1631.7 1350.2L1634.7 1350.0L1637.6 1349.8L1640.6 1349.6L1643.6 1349.4L1646.6 1349.2L1649.6 1349.0L1652.6 1348.8L1655.6 1348.6L1658.6 1348.4L1661.6 1348.2L1664.5 1348.0L1667.5 1347.8L1670.5 1347.6L1673.5 1347.4L1676.5 1347.2L1686.0 1346.6" stroke="#84b870" stroke-width="8.8"/>
<path d="M1315.1 1381.5L1317.7 1381.3L1320.2 1381.2L1322.8 1381.0L1325.4 1380.8L1328.0 1380.6L1330.6 1380.4L1333.2 1380.3L1335.7 1380.1L1338.3 1379.9L1340.9 1379.7L1343.5 1379.5L1346.1 1379.4L1348.7 1379.2L1351.3 1379.0L1353.8 1378.8L1356.4 1378.7L1359.0 1378.5L1361.6 1378.3L1364.2 1378.2L1366.8 1378.0L1369.3 1377.8L1371.9 1377.7L1374.5 1377.5L1377.1 1377.3L1379.7 1377.2L1382.3 1377.0L1384.9 1376.8L1387.4 1376.7L1390.0 1376.5L1392.6 1376.3L1395.2 1376.2L1397.8 1376.0L1400.4 1375.9L1403.0 1375.7L1405.5 1375.5L1408.1 1375.4L1410.7 1375.2L1413.3 1375.1L1415.9 1374.9L1418.5 1374.8L1421.1 1374.6L1423.6 1374.4L1426.2 1374.3L1428.8 1374.1L1431.4 1374.0L1434.0 1373.8L1436.6 1373.7L1439.1 1373.5L1441.7 1373.4L1444.3 1373.2L1446.9 1373.1L1449.5 1372.9L1452.1 1372.8L1454.7 1372.6L1457.2 1372.5L1459.8 1372.3L1462.4 1372.1L1465.0 1372.0L1467.6 1371.8L1470.2 1371.7L1472.7 1371.5L1475.3 1371.4L1477.9 1371.2L1480.5 1371.1L1483.1 1370.9L1485.7 1370.8L1488.2 1370.6L1490.8 1370.5L1493.4 1370.3L1496.0 1370.2L1498.6 1370.0L1501.2 1369.9L1503.7 1369.7L1506.3 1369.6L1508.9 1369.4L1511.5 1369.3L1514.1 1369.1L1516.7 1369.0L1519.2 1368.8L1521.8 1368.7L1524.4 1368.5L1527.0 1368.4L1529.6 1368.2L1532.2 1368.1L1534.7 1367.9L1537.3 1367.8L1539.9 1367.6L1542.5 1367.5L1545.1 1367.3L1547.6 1367.1L1550.2 1367.0L1552.8 1366.8L1555.4 1366.7L1558.0 1366.5L1560.5 1366.4L1563.1 1366.2L1565.7 1366.1L1568.3 1365.9L1570.9 1365.7L1573.4 1365.6L1576.0 1365.4L1578.6 1365.3L1581.2 1365.1L1583.8 1364.9L1586.3 1364.8L1588.9 1364.6L1591.5 1364.5L1594.1 1364.3L1596.6 1364.1L1599.2 1364.0L1601.8 1363.8L1604.4 1363.6L1606.9 1363.5L1609.5 1363.3L1612.1 1363.1L1614.7 1363.0L1617.2 1362.8L1619.8 1362.6L1622.4 1362.4L1625.0 1362.3L1627.5 1362.1L1630.1 1361.9L1632.7 1361.7L1635.3 1361.6L1637.8 1361.4L1640.4 1361.2L1643.0 1361.0L1645.6 1360.9L1648.1 1360.7L1650.7 1360.5L1653.3 1360.3L1655.8 1360.1L1658.4 1359.9L1661.0 1359.8L1663.6 1359.6L1666.1 1359.4L1668.7 1359.2L1671.3 1359.0L1673.8 1358.8L1676.4 1358.6L1686.0 1357.9" stroke="#84b870" stroke-width="8.8"/>
<path d="M1097.5 1461.5L1097.5 1460.0L1097.5 1458.4L1097.5 1456.0L1097.5 1453.0L1097.5 1449.5L1097.5 1445.8L1097.6 1442.0L1097.6 1438.5L1097.6 1435.5L1097.6 1433.1L1097.6 1431.5L1097.6 1430.0L1097.6 1428.6L1097.6 1426.6L1097.7 1424.0L1097.7 1421.0L1097.8 1417.7L1097.8 1414.3L1097.9 1410.7L1097.9 1407.2L1097.9 1403.8L1097.9 1400.7L1097.9 1398.0L1097.9 1395.2L1097.8 1392.5L1097.7 1389.9L1097.6 1387.4L1097.5 1385.0L1097.4 1382.5L1097.4 1379.9L1097.3 1377.4L1097.3 1374.8L1097.3 1372.2L1097.2 1369.6L1097.2 1367.1L1097.2 1364.5L1097.3 1361.9L1097.3 1359.3L1097.3 1356.7L1097.4 1354.2L1097.4 1351.6L1097.5 1349.0L1097.5 1346.4L1097.6 1343.8L1097.7 1341.3L1097.8 1338.7L1097.9 1336.1L1098.0 1333.5L1098.1 1330.9L1098.3 1328.4L1098.4 1325.8L1098.6 1323.2L1098.7 1320.6L1098.9 1318.1L1099.1 1315.5L1099.2 1312.9L1099.4 1310.3L1099.6 1307.8L1099.9 1305.2L1100.1 1302.6L1100.3 1300.1L1100.5 1297.5L1100.8 1294.9L1101.1 1292.4L1101.3 1289.8L1101.6 1287.2L1101.9 1284.7L1102.2 1282.1L1102.5 1279.5L1102.8 1277.0L1103.1 1274.4L1103.4 1271.8L1103.8 1269.3L1104.1 1266.7L1104.5 1264.2L1104.8 1261.6L1105.2 1259.1L1105.6 1256.5L1106.0 1254.0L1106.4 1251.4L1106.8 1248.9L1107.2 1246.3L1107.7 1243.8L1108.1 1241.2L1108.5 1238.7L1109.0 1236.1L1109.5 1233.6L1109.9 1231.1L1110.4 1228.5L1110.9 1226.0L1111.4 1223.5L1111.9 1220.9L1112.4 1218.4L1112.9 1215.9L1113.5 1213.4L1114.0 1210.8L1114.6 1208.3L1115.1 1205.8L1115.7 1203.3L1116.3 1200.8L1116.9 1198.2L1117.4 1195.7L1118.1 1193.2L1118.7 1190.7L1119.3 1188.2L1119.9 1185.7L1120.6 1183.2L1121.2 1180.7L1121.9 1178.2L1122.5 1175.7L1123.2 1173.2L1123.9 1170.7L1124.6 1168.3L1125.3 1165.8L1126.0 1163.3L1126.7 1160.8L1127.4 1158.3L1128.1 1155.9L1128.9 1153.4L1129.6 1150.9L1130.4 1148.4L1131.2 1146.0L1131.9 1143.5L1132.7 1141.1L1133.5 1138.6L1134.3 1136.2L1135.1 1133.7L1136.0 1131.3L1136.8 1128.8L1137.6 1126.4L1138.5 1123.9L1139.3 1121.5L1140.2 1119.1L1141.0 1116.6L1141.9 1114.2L1142.8 1111.8L1143.7 1109.4L1144.6 1107.0L1145.5 1104.5L1146.5 1102.1L1147.4 1099.7L1148.3 1097.3L1149.3 1094.9L1150.2 1092.5L1151.2 1090.1L1152.2 1087.8L1153.1 1085.4L1154.1 1083.0L1155.1 1080.6L1156.1 1078.2L1157.2 1075.9L1158.2 1073.5L1159.2 1071.1L1160.3 1068.8L1161.3 1066.4L1162.4 1064.1L1163.4 1061.7L1164.5 1059.4L1165.6 1057.0L1166.7 1054.7L1167.8 1052.3L1168.9 1050.0L1170.0 1047.7L1171.1 1045.4L1172.3 1043.1L1173.4 1040.7L1174.5 1038.4L1175.7 1036.1L1176.9 1033.8L1178.0 1031.5L1179.2 1029.2L1180.4 1026.9L1181.6 1024.7L1182.8 1022.4L1184.0 1020.1L1185.3 1017.8L1186.5 1015.6L1187.7 1013.3L1189.0 1011.0L1190.2 1008.8L1191.5 1006.5L1192.8 1004.3L1194.1 1002.1L1195.3 999.8L1196.6 997.6L1198.0 995.4L1199.3 993.2L1200.6 990.9L1201.9 988.7L1203.3 986.5L1204.6 984.3L1206.0 982.1L1207.3 979.9L1208.7 977.7L1210.1 975.6L1211.5 973.4L1212.9 971.2L1214.3 969.1L1215.7 966.9L1217.1 964.7L1218.5 962.6L1220.0 960.5L1221.4 958.3L1222.9 956.2L1224.3 954.1L1225.8 952.0L1227.3 949.8L1228.8 947.7L1230.3 945.6L1231.8 943.5L1233.3 941.5L1234.8 939.4L1236.3 937.3L1237.9 935.2L1239.4 933.2L1241.0 931.1L1242.5 929.1L1244.1 927.0L1245.7 925.0L1247.3 923.0L1248.9 920.9L1250.5 918.9L1252.1 916.9L1253.7 914.9L1255.3 912.9L1257.0 910.9L1258.6 908.9L1260.3 907.0L1261.9 905.0L1263.6 903.1L1265.3 901.1L1267.0 899.2L1268.7 897.2L1270.4 895.3L1272.1 893.4L1273.8 891.5L1275.5 889.6L1277.3 887.7L1279.0 885.8L1280.8 883.9L1282.8 881.7L1284.9 879.5L1287.0 877.4L1289.1 875.2L1291.2 873.1L1293.3 870.9L1295.4 868.8L1297.5 866.7L1299.7 864.6L1301.8 862.5L1304.0 860.5L1306.2 858.4L1308.4 856.4L1310.6 854.3L1312.8 852.3L1315.0 850.3L1317.3 848.3L1319.5 846.3L1321.5 844.6L1323.4 842.9L1325.4 841.3L1327.3 839.6L1329.3 837.9L1331.3 836.3L1333.3 834.7L1335.2 833.0L1337.2 831.3L1339.2 829.6L1341.1 827.9L1343.2 826.3L1345.2 824.8L1347.4 823.5L1350.0 822.1L1352.6 820.9L1355.4 819.8L1358.1 818.8L1360.9 817.9L1363.6 817.3L1366.5 816.8L1369.4 816.6L1372.3 816.6L1375.1 816.6L1378.0 816.6L1380.9 816.6L1383.8 816.5L1386.7 816.6L1389.5 816.7L1392.3 817.0L1394.9 817.5L1397.4 818.1L1400.0 818.9L1402.4 819.7L1404.8 820.4L1407.3 821.1L1409.7 821.8L1412.2 822.6L1414.8 823.5L1417.3 824.5L1419.9 825.7L1422.7 826.9L1425.4 828.3L1428.2 829.6L1431.0 830.8L1433.6 832.1L1436.3 833.3L1439.0 834.5L1441.7 835.8L1444.4 837.0L1447.1 838.2L1449.8 839.5L1452.5 840.7L1455.2 841.9L1457.8 843.2L1460.5 844.4L1463.2 845.6L1465.9 846.9L1468.6 848.1L1471.3 849.3L1474.0 850.6L1476.7 851.8L1479.3 853.0L1482.0 854.3L1484.7 855.5L1487.4 856.7L1490.1 858.0L1492.8 859.2L1495.5 860.4L1498.2 861.6L1500.9 862.9L1503.6 864.1L1506.3 865.3L1509.0 866.5L1511.6 867.7L1514.3 868.9L1517.0 870.2L1519.7 871.4L1522.4 872.6L1525.1 873.8L1527.8 875.0L1530.5 876.2L1533.2 877.4L1535.9 878.6L1538.7 879.8L1541.4 880.9L1544.1 882.1L1546.8 883.3L1549.5 884.5L1552.2 885.7L1554.9 886.8L1557.6 888.0L1560.3 889.1L1563.1 890.3L1565.8 891.5L1568.5 892.6L1571.2 893.7L1574.0 894.9L1576.7 896.0L1579.4 897.1L1582.1 898.3L1584.9 899.4L1587.6 900.5L1590.4 901.6L1593.1 902.7L1595.8 903.8L1598.6 904.9L1601.3 906.0L1604.1 907.1L1606.8 908.1L1609.6 909.2L1612.3 910.3L1615.1 911.3L1617.9 912.4L1620.6 913.4L1623.4 914.5L1626.2 915.5L1628.9 916.5L1631.7 917.5L1634.5 918.5L1637.3 919.5L1640.0 920.5L1642.8 921.5L1645.6 922.5L1648.4 923.5L1651.2 924.4L1654.0 925.4L1656.8 926.3L1659.6 927.3L1662.4 928.2L1665.2 929.1L1668.0 930.0L1670.9 930.9L1673.7 931.8L1676.5 932.8L1686.0 935.8" stroke="#84b870" stroke-width="8.8"/>
<path d="M1686.0 1030.5L1676.7 1028.2L1674.2 1027.6L1671.6 1027.0L1669.1 1026.3L1666.6 1025.7L1664.1 1025.1L1661.6 1024.5L1659.0 1023.9L1656.5 1023.2L1654.0 1022.6L1651.5 1022.0L1649.0 1021.3L1646.4 1020.7L1643.9 1020.0L1641.4 1019.4L1638.9 1018.7L1636.4 1018.1L1633.9 1017.4L1631.3 1016.8L1628.8 1016.1L1626.3 1015.5L1623.8 1014.8L1621.3 1014.1L1618.8 1013.5L1616.3 1012.8L1613.8 1012.1L1611.2 1011.4L1608.7 1010.8L1606.2 1010.1L1603.7 1009.4L1601.2 1008.7L1598.7 1008.0L1596.2 1007.3L1593.7 1006.6L1591.2 1005.9L1588.7 1005.2L1586.2 1004.5L1583.7 1003.8L1581.2 1003.1L1578.7 1002.4L1576.2 1001.7L1573.7 1001.0L1571.2 1000.2L1568.7 999.5L1566.2 998.8L1563.7 998.1L1561.2 997.3L1558.7 996.6L1556.2 995.9L1553.7 995.1L1551.2 994.4L1548.7 993.6L1546.2 992.9L1543.7 992.1L1541.2 991.4L1538.7 990.6L1536.2 989.9L1533.7 989.1L1531.2 988.3L1528.7 987.6L1526.2 986.8L1523.8 986.0L1521.3 985.2L1518.8 984.5L1516.3 983.7L1513.8 982.9L1511.3 982.1L1508.8 981.3L1506.3 980.5L1503.9 979.7L1501.4 978.9L1498.9 978.1L1496.4 977.3L1493.9 976.5L1491.5 975.7L1489.0 974.9L1486.5 974.1L1484.0 973.3L1481.6 972.4L1479.1 971.6L1476.6 970.8L1474.1 970.0L1471.7 969.1L1469.2 968.3L1466.7 967.5L1464.2 966.6L1461.8 965.8L1459.3 964.9L1456.8 964.1L1454.4 963.2L1451.9 962.4L1449.4 961.5L1447.0 960.6L1444.5 959.8L1442.0 958.9L1439.6 958.0L1437.1 957.2L1434.7 956.3L1432.2 955.4L1429.7 954.5L1427.3 953.6L1424.8 952.7L1422.4 951.8L1419.9 951.0L1417.5 950.1L1415.0 949.2L1412.6 948.2L1410.1 947.3L1407.7 946.4L1405.2 945.5L1402.8 944.6L1400.3 943.7L1397.9 942.8L1395.4 941.8L1393.0 940.9L1390.5 940.0L1388.1 939.0L1385.7 938.1L1383.2 937.2L1380.8 936.2L1378.3 935.3L1375.9 934.3L1373.5 933.4L1371.0 932.4L1368.6 931.5L1366.2 930.5L1363.7 929.5L1361.3 928.6L1358.9 927.6L1356.4 926.6L1354.0 925.6L1351.6 924.6L1349.2 923.7L1346.7 922.7L1344.3 921.7L1341.9 920.7L1339.5 919.7L1337.1 918.7L1334.7 917.6L1332.3 916.6L1329.8 915.6L1327.4 914.6L1325.0 913.6L1322.6 912.5L1320.2 911.5L1317.8 910.4L1315.5 909.4L1313.1 908.3L1310.7 907.3L1308.3 906.2L1305.9 905.1L1303.5 904.1L1301.2 903.0L1298.8 901.9L1296.4 900.8L1294.1 899.7L1291.7 898.6L1289.3 897.5L1287.0 896.4L1284.6 895.2L1282.3 894.1L1279.9 893.0L1277.6 891.8L1275.3 890.7L1272.9 889.5L1270.6 888.4L1268.3 887.2L1266.0 886.1L1263.6 884.9L1261.3 883.7L1259.0 882.5L1256.7 881.3L1254.4 880.1L1252.1 878.9L1249.8 877.7L1247.6 876.4L1245.3 875.2L1243.0 874.0L1240.7 872.7L1238.5 871.4L1236.2 870.2L1233.9 868.9L1231.7 867.6L1229.5 866.3L1227.2 865.0L1225.0 863.7L1222.8 862.4L1220.5 861.1L1218.3 859.8L1216.1 858.4L1213.9 857.1L1211.7 855.7L1209.5 854.4L1207.3 853.0L1205.1 851.6L1202.9 850.2L1200.8 848.8L1198.6 847.4L1196.4 846.0L1194.3 844.6L1192.1 843.2L1190.0 841.7L1187.9 840.3L1185.7 838.8L1183.6 837.3L1181.5 835.9L1179.4 834.4L1177.3 832.9L1175.2 831.4L1173.1 829.8L1171.1 828.3L1169.0 826.8L1166.9 825.2L1164.9 823.7L1162.8 822.1L1160.8 820.5L1158.7 818.9L1156.7 817.3L1154.7 815.7L1152.7 814.1L1150.7 812.4L1148.7 810.8L1146.7 809.1L1144.7 807.5L1142.7 805.8L1140.8 804.1L1138.8 802.4L1136.9 800.7L1134.9 799.0L1133.0 797.2L1131.1 795.5L1129.2 793.7L1127.2 792.0L1125.2 790.2L1123.2 788.3L1121.3 786.5L1119.4 784.7L1117.6 782.9L1116.0 781.1L1114.3 779.1L1112.8 777.1L1111.3 775.1L1109.9 773.1L1108.5 771.1L1107.0 769.1L1105.6 767.1L1104.1 765.1L1102.8 763.1L1101.7 761.1L1100.7 758.9L1099.9 756.7L1099.3 754.5L1098.8 752.4L1098.4 749.9L1098.2 747.5L1098.2 744.9L1098.4 742.5L1098.8 740.0L1099.3 737.4L1099.8 734.9L1100.3 732.4L1100.9 729.9L1101.6 727.4L1102.3 724.9L1103.0 722.4L1103.8 720.0L1104.8 717.5L1106.0 715.0L1107.3 712.9L1108.9 710.9L1110.7 708.8L1112.5 706.7L1114.3 704.6L1116.0 702.5L1117.6 700.4L1119.1 698.3L1120.6 696.3L1122.1 694.2L1123.7 692.1L1125.4 690.0L1127.0 688.1L1128.8 686.1L1130.5 684.2L1132.3 682.3L1134.1 680.3L1135.9 678.4L1137.8 676.5L1139.6 674.6L1141.4 672.7L1143.2 670.8L1145.0 668.9L1146.8 667.0L1148.7 665.1L1150.5 663.3L1152.4 661.4L1154.2 659.5L1156.1 657.7L1158.0 655.8L1159.8 654.0L1161.7 652.1L1163.6 650.3L1165.5 648.5L1167.4 646.6L1169.4 644.8L1171.3 643.0L1173.2 641.2L1175.2 639.4L1177.1 637.6L1179.1 635.8L1181.1 634.0L1183.0 632.3L1185.0 630.5L1187.0 628.8L1189.0 627.0L1191.0 625.3L1193.0 623.5L1195.0 621.8L1197.0 620.1L1199.1 618.4L1201.1 616.7L1203.2 615.0L1205.2 613.3L1207.3 611.6L1209.3 609.9L1211.4 608.3L1213.5 606.6L1215.6 605.0L1217.7 603.4L1219.8 601.7L1221.9 600.1L1224.0 598.5L1226.1 596.9L1228.2 595.3L1230.4 593.7L1232.5 592.2L1234.7 590.6L1236.8 589.1L1239.0 587.5L1241.1 586.0L1243.3 584.5L1245.5 582.9L1247.7 581.4L1249.9 579.9L1252.1 578.5L1254.3 577.0L1256.5 575.5L1258.7 574.1L1260.9 572.6L1263.2 571.2L1265.4 569.8L1267.7 568.4L1269.9 567.0L1272.2 565.6L1274.4 564.2L1276.7 562.9L1279.0 561.5L1281.2 560.2L1283.5 558.9L1285.8 557.6L1288.1 556.3L1290.4 555.0L1292.7 553.7L1295.0 552.4L1297.4 551.2L1299.7 549.9L1302.0 548.7L1304.4 547.5L1306.7 546.3L1309.1 545.1L1311.4 543.9L1313.8 542.8L1316.1 541.6L1318.5 540.5L1320.9 539.3L1323.3 538.2L1325.7 537.1L1328.1 536.1L1330.5 535.0L1332.9 533.9L1335.3 532.8L1337.8 531.6L1340.3 530.5L1342.7 529.5L1345.1 528.6L1347.4 527.9L1350.0 527.3L1352.6 526.9L1355.1 526.6L1357.6 526.3L1359.9 526.1L1362.9 525.8L1365.7 525.5L1368.6 525.4L1371.3 525.5L1374.2 525.7L1377.1 525.9L1379.9 526.3L1382.7 526.7L1385.5 527.2L1388.3 527.8L1391.1 528.6L1393.6 529.4L1396.0 530.3L1398.5 531.3L1401.0 532.4L1403.6 533.5L1405.8 534.5L1408.1 535.6L1410.4 536.8L1412.7 538.1L1415.1 539.3L1417.4 540.5L1419.7 541.7L1422.0 542.9L1424.3 544.1L1426.6 545.3L1428.9 546.5L1431.2 547.7L1433.5 548.8L1435.8 550.0L1438.1 551.2L1440.4 552.4L1442.6 553.6L1444.9 554.8L1447.2 556.0L1449.5 557.2L1451.8 558.4L1454.1 559.6L1456.4 560.8L1458.7 562.0L1461.0 563.2L1463.2 564.4L1465.5 565.6L1467.8 566.8L1470.1 568.0L1472.4 569.3L1474.7 570.5L1476.9 571.7L1479.2 572.9L1481.5 574.1L1483.8 575.3L1486.1 576.5L1488.4 577.7L1490.6 578.9L1492.9 580.2L1495.2 581.4L1497.5 582.6L1499.8 583.8L1502.1 585.0L1504.3 586.2L1506.6 587.4L1508.9 588.7L1511.2 589.9L1513.5 591.1L1515.7 592.3L1518.0 593.5L1520.3 594.7L1522.6 596.0L1524.9 597.2L1527.1 598.4L1529.4 599.6L1531.7 600.8L1534.0 602.0L1536.3 603.2L1538.6 604.5L1540.8 605.7L1543.1 606.9L1545.4 608.1L1547.7 609.3L1550.0 610.5L1552.2 611.7L1554.5 612.9L1556.8 614.2L1559.1 615.4L1561.4 616.6L1563.7 617.8L1566.0 619.0L1568.2 620.2L1570.5 621.4L1572.8 622.6L1575.1 623.8L1577.4 625.0L1579.7 626.2L1582.0 627.4L1584.3 628.6L1586.5 629.8L1588.8 631.0L1591.1 632.2L1593.4 633.4L1595.7 634.6L1598.0 635.8L1600.3 637.0L1602.6 638.2L1604.9 639.4L1607.2 640.5L1609.5 641.7L1611.8 642.9L1614.1 644.1L1616.4 645.3L1618.7 646.4L1621.0 647.6L1623.3 648.8L1625.6 650.0L1627.9 651.1L1630.2 652.3L1632.5 653.5L1634.8 654.6L1637.1 655.8L1639.4 657.0L1641.7 658.1L1644.0 659.3L1646.3 660.4L1648.7 661.6L1651.0 662.7L1653.3 663.9L1655.6 665.0L1657.9 666.2L1660.2 667.3L1662.6 668.5L1664.9 669.6L1667.2 670.7L1669.5 671.9L1671.9 673.0L1674.2 674.1L1676.5 675.2L1686.0 679.9" stroke="#84b870" stroke-width="8.8"/>
<path d="M1686.0 815.1L1676.8 811.8L1674.1 810.7L1671.3 809.7L1668.5 808.7L1665.7 807.7L1662.9 806.7L1660.1 805.7L1657.3 804.7L1654.6 803.6L1651.8 802.6L1649.0 801.6L1646.2 800.5L1643.4 799.5L1640.6 798.5L1637.8 797.4L1635.1 796.4L1632.3 795.4L1629.5 794.3L1626.7 793.3L1623.9 792.2L1621.1 791.2L1618.3 790.1L1615.5 789.0L1612.8 788.0L1610.0 786.9L1607.2 785.8L1604.4 784.8L1601.6 783.7L1598.8 782.6L1596.0 781.5L1593.3 780.5L1590.5 779.4L1587.7 778.3L1584.9 777.2L1582.1 776.1L1579.4 775.0L1576.6 773.9L1573.8 772.8L1571.0 771.7L1568.2 770.6L1565.5 769.5L1562.7 768.4L1559.9 767.2L1557.1 766.1L1554.3 765.0L1551.6 763.9L1548.8 762.7L1546.0 761.6L1543.3 760.4L1540.5 759.3L1537.7 758.2L1535.0 757.0L1532.2 755.8L1529.4 754.7L1526.7 753.5L1523.9 752.4L1521.1 751.2L1518.4 750.0L1515.6 748.8L1512.9 747.7L1510.1 746.5L1507.7 745.5L1505.4 744.4L1503.0 743.4L1500.7 742.4L1498.3 741.4L1495.9 740.3L1493.6 739.3L1491.2 738.3L1488.9 737.2L1486.5 736.2L1484.2 735.1L1481.8 734.1L1479.5 733.0L1477.2 732.0L1474.8 730.9L1472.5 729.8L1470.1 728.8L1467.8 727.7L1465.4 726.6L1463.1 725.6L1460.8 724.5L1458.4 723.4L1456.1 722.3L1453.8 721.2L1451.4 720.1L1449.1 719.0L1446.8 717.9L1444.5 716.8L1441.8 715.6L1439.1 714.3L1436.4 713.0L1433.7 711.7L1431.0 710.4L1428.3 709.0L1425.6 707.7L1422.9 706.4L1420.2 705.1L1417.5 703.8L1414.8 702.4L1412.1 701.1L1409.4 699.7L1406.8 698.4L1404.1 697.0L1401.4 695.7L1398.8 694.3L1396.1 692.9L1393.4 691.6L1390.8 690.2L1388.1 688.8L1385.5 687.4L1382.8 686.0L1380.2 684.6L1377.5 683.2L1374.9 681.8L1372.2 680.4L1369.6 679.0L1367.0 677.5L1364.3 676.1L1361.7 674.7L1359.1 673.2L1356.5 671.8L1353.9 670.3L1351.3 668.9L1348.6 667.4L1346.0 665.9L1343.4 664.5L1340.8 663.0L1338.3 661.5L1335.7 660.0L1333.1 658.5L1330.5 657.0L1327.9 655.5L1325.3 654.0L1322.8 652.5L1320.2 651.0L1317.6 649.4L1315.1 647.9L1312.5 646.3L1310.0 644.8L1307.4 643.2L1304.9 641.7L1302.3 640.1L1299.8 638.5L1297.3 637.0L1294.8 635.4L1292.2 633.8L1289.7 632.2L1287.2 630.6L1284.7 629.0L1282.2 627.4L1279.7 625.7L1277.2 624.1L1274.7 622.5L1272.2 620.8L1269.7 619.2L1267.2 617.5L1264.8 615.9L1262.3 614.2L1259.8 612.5L1257.4 610.9L1254.9 609.2L1252.5 607.5L1250.0 605.8L1247.6 604.1L1245.2 602.4L1242.7 600.7L1240.3 598.9L1237.9 597.2L1235.5 595.5L1233.0 593.7L1230.6 592.0L1228.2 590.2L1225.8 588.5L1223.5 586.7L1221.1 584.9L1218.7 583.1L1216.3 581.3L1213.9 579.5L1211.6 577.7L1209.2 575.9L1206.9 574.1L1204.5 572.3L1202.2 570.4L1199.8 568.6L1197.5 566.7L1195.2 564.9L1192.9 563.0L1190.6 561.1L1188.2 559.3L1185.9 557.4L1183.6 555.5L1181.4 553.6L1179.1 551.7L1176.8 549.8L1174.5 547.8L1172.3 545.9L1170.0 544.0L1167.7 542.0L1165.5 540.1L1163.2 538.1L1161.0 536.2L1158.8 534.2L1156.5 532.2L1154.3 530.2L1152.1 528.2L1149.9 526.2L1147.7 524.2L1145.5 522.2L1143.3 520.1L1141.1 518.1L1139.0 516.1L1136.8 514.0L1134.6 512.0L1132.5 509.9L1130.3 507.8L1128.1 505.7L1125.9 503.5L1123.7 501.4L1121.7 499.3L1119.7 497.3L1117.8 495.2L1116.1 493.2L1114.4 491.2L1112.7 489.2L1111.0 487.3L1108.9 485.1L1106.7 482.9L1104.6 480.8L1102.9 478.6L1101.3 476.2L1100.1 473.7L1099.1 471.1L1098.5 468.9L1098.1 466.6L1097.9 464.2L1097.9 461.8L1098.3 459.2L1099.1 456.5L1100.1 453.7L1101.0 451.1L1101.8 448.6L1102.6 446.0L1103.5 443.6L1104.8 441.2L1106.4 439.2L1108.3 437.3L1110.4 435.5L1112.5 433.7L1114.7 431.8L1116.7 430.0L1118.7 428.3L1120.8 426.5L1122.9 424.7L1125.0 422.9L1127.2 421.2L1129.5 419.5L1131.9 417.8L1134.3 416.2L1136.7 414.6L1139.2 413.0L1141.6 411.4L1144.0 409.8L1146.4 408.1L1148.9 406.5L1151.3 404.9L1153.7 403.3L1156.2 401.7L1158.6 400.1L1161.1 398.5L1163.5 397.0L1166.0 395.4L1168.4 393.8L1170.9 392.3L1173.4 390.7L1175.9 389.2L1178.4 387.6L1180.9 386.1L1183.4 384.6L1185.9 383.1L1188.4 381.6L1190.9 380.1L1193.4 378.6L1196.0 377.1L1198.5 375.6L1201.0 374.2L1203.6 372.7L1206.1 371.3L1208.7 369.9L1211.3 368.4L1213.8 367.0L1216.4 365.7L1219.0 364.3L1221.6 362.9L1224.2 361.6L1226.8 360.2L1229.4 358.9L1232.0 357.6L1234.6 356.3L1237.2 355.0L1239.8 353.7L1242.5 352.4L1245.1 351.2L1247.8 350.0L1250.4 348.8L1253.1 347.6L1255.7 346.4L1258.4 345.2L1261.1 344.1L1263.8 342.9L1266.5 341.8L1269.2 340.7L1271.9 339.6L1274.6 338.6L1277.3 337.5L1280.0 336.5L1282.8 335.5L1285.5 334.5L1288.2 333.5L1291.0 332.6L1293.7 331.6L1296.5 330.7L1299.3 329.8L1302.0 328.9L1304.8 328.1L1307.6 327.2L1310.4 326.4L1313.2 325.6L1316.0 324.9L1318.9 324.1L1321.7 323.4L1324.5 322.7L1327.3 322.0L1330.2 321.4L1333.1 320.7L1336.1 320.0L1339.1 319.4L1342.0 318.8L1344.8 318.3L1347.4 317.9L1350.1 317.6L1352.6 317.4L1355.0 317.3L1357.4 317.3L1359.9 317.3L1362.4 317.3L1364.9 317.3L1367.4 317.6L1370.2 318.1L1372.9 318.8L1375.8 319.6L1378.6 320.4L1381.0 321.1L1383.5 321.7L1386.0 322.4L1388.5 323.2L1391.1 324.2L1393.3 325.2L1395.6 326.3L1397.9 327.5L1400.3 328.7L1402.6 330.0L1404.9 331.3L1407.2 332.6L1409.5 333.8L1411.8 335.0L1414.1 336.3L1416.4 337.5L1418.7 338.8L1421.0 340.0L1423.2 341.3L1425.5 342.5L1427.8 343.8L1430.0 345.1L1432.3 346.3L1434.6 347.6L1436.8 348.9L1439.1 350.2L1441.3 351.5L1443.6 352.8L1445.8 354.1L1448.1 355.4L1450.3 356.7L1452.6 358.0L1454.8 359.3L1457.1 360.6L1459.3 362.0L1461.5 363.3L1463.8 364.6L1466.0 365.9L1468.2 367.3L1470.5 368.6L1472.7 370.0L1474.9 371.3L1477.1 372.6L1479.4 374.0L1481.6 375.3L1483.8 376.7L1486.0 378.0L1488.3 379.4L1490.5 380.7L1492.7 382.1L1494.9 383.5L1497.1 384.8L1499.4 386.2L1501.6 387.5L1503.8 388.9L1506.0 390.3L1508.2 391.6L1510.5 393.0L1512.7 394.3L1514.9 395.7L1517.1 397.1L1519.3 398.4L1521.5 399.8L1523.8 401.2L1526.0 402.5L1528.2 403.9L1530.4 405.2L1532.6 406.6L1534.9 407.9L1537.1 409.3L1539.3 410.7L1541.5 412.0L1543.7 413.4L1546.0 414.7L1548.2 416.1L1550.4 417.4L1552.7 418.8L1554.9 420.1L1557.1 421.4L1559.3 422.8L1561.6 424.1L1563.8 425.5L1566.0 426.8L1568.3 428.1L1570.5 429.4L1572.8 430.8L1575.0 432.1L1577.2 433.4L1579.5 434.7L1581.7 436.0L1584.0 437.3L1586.2 438.6L1588.5 439.9L1590.8 441.2L1593.0 442.5L1595.3 443.8L1597.5 445.1L1599.8 446.3L1602.1 447.6L1604.4 448.9L1606.6 450.1L1608.9 451.4L1611.2 452.6L1613.5 453.9L1615.8 455.1L1618.0 456.4L1620.3 457.6L1622.6 458.8L1624.9 460.0L1627.2 461.2L1629.5 462.4L1631.9 463.6L1634.2 464.8L1636.5 466.0L1638.8 467.2L1641.1 468.4L1643.5 469.5L1645.8 470.7L1648.1 471.8L1650.5 473.0L1652.8 474.1L1655.2 475.2L1657.5 476.3L1659.9 477.5L1662.2 478.6L1664.6 479.6L1667.0 480.7L1669.4 481.8L1671.7 482.9L1674.1 483.9L1676.5 485.0L1686.0 489.3" stroke="#84b870" stroke-width="8.8"/>
<path d="M1686.0 646.2L1676.9 642.1L1674.2 640.8L1671.5 639.6L1668.9 638.3L1666.2 637.1L1663.5 635.9L1660.8 634.6L1658.1 633.4L1655.4 632.2L1652.7 630.9L1650.0 629.7L1647.3 628.4L1644.6 627.2L1641.9 626.0L1639.2 624.7L1636.5 623.5L1633.8 622.3L1631.1 621.0L1628.4 619.8L1625.7 618.6L1623.0 617.3L1620.3 616.1L1617.6 614.8L1614.9 613.6L1612.2 612.4L1609.5 611.1L1606.8 609.9L1604.1 608.6L1601.3 607.4L1598.6 606.2L1595.9 604.9L1593.2 603.7L1590.5 602.4L1587.8 601.2L1585.1 599.9L1582.3 598.7L1579.6 597.4L1576.9 596.2L1574.2 594.9L1571.5 593.7L1568.8 592.4L1566.1 591.2L1563.3 589.9L1560.6 588.6L1557.9 587.4L1555.2 586.1L1552.5 584.9L1549.8 583.6L1547.1 582.3L1544.3 581.1L1541.6 579.8L1538.9 578.5L1536.2 577.3L1533.5 576.0L1530.8 574.7L1528.1 573.4L1525.4 572.1L1522.6 570.9L1519.9 569.6L1517.2 568.3L1514.5 567.0L1511.8 565.7L1509.1 564.4L1506.4 563.1L1503.7 561.8L1501.0 560.5L1498.3 559.2L1496.0 558.1L1493.7 557.0L1491.3 555.9L1489.0 554.8L1486.7 553.6L1484.4 552.5L1482.1 551.4L1479.8 550.2L1477.5 549.1L1475.2 548.0L1472.8 546.8L1470.5 545.7L1468.2 544.6L1465.9 543.4L1463.6 542.3L1461.3 541.1L1459.0 540.0L1456.7 538.8L1454.4 537.7L1452.1 536.5L1449.8 535.4L1447.5 534.2L1445.2 533.0L1442.9 531.9L1440.6 530.7L1438.4 529.5L1436.1 528.4L1433.8 527.2L1431.5 526.0L1429.2 524.8L1426.9 523.6L1424.6 522.5L1422.4 521.3L1420.1 520.1L1417.8 518.9L1415.2 517.5L1412.5 516.1L1409.8 514.7L1407.2 513.3L1404.6 511.9L1401.9 510.5L1399.3 509.0L1396.6 507.6L1394.0 506.2L1391.4 504.8L1388.7 503.3L1386.1 501.9L1383.5 500.4L1380.8 499.0L1378.2 497.5L1375.6 496.1L1373.0 494.6L1370.4 493.2L1367.8 491.7L1365.2 490.2L1362.6 488.7L1360.0 487.3L1357.4 485.8L1354.8 484.3L1352.2 482.8L1349.6 481.3L1347.0 479.8L1344.4 478.2L1341.9 476.7L1339.3 475.2L1336.7 473.7L1334.2 472.1L1331.6 470.6L1329.0 469.1L1326.5 467.5L1323.9 465.9L1321.4 464.4L1318.9 462.8L1316.3 461.2L1313.8 459.7L1311.3 458.1L1308.7 456.5L1306.2 454.9L1303.7 453.3L1301.2 451.7L1298.7 450.1L1296.2 448.4L1293.7 446.8L1291.2 445.2L1288.7 443.5L1286.3 441.9L1283.8 440.2L1281.3 438.6L1278.9 436.9L1276.4 435.2L1273.9 433.5L1271.5 431.8L1269.1 430.1L1266.6 428.4L1264.2 426.7L1261.8 425.0L1259.4 423.3L1256.9 421.5L1254.5 419.8L1252.1 418.1L1249.7 416.3L1247.4 414.5L1245.0 412.8L1242.6 411.0L1240.2 409.2L1237.9 407.4L1235.5 405.6L1233.2 403.8L1230.8 402.0L1228.5 400.1L1226.2 398.3L1223.8 396.5L1221.5 394.6L1219.2 392.8L1216.9 390.9L1214.6 389.0L1212.3 387.1L1210.0 385.2L1207.8 383.3L1205.5 381.4L1203.2 379.5L1201.0 377.6L1198.7 375.6L1196.5 373.7L1194.3 371.7L1192.1 369.8L1189.8 367.8L1187.6 365.8L1185.4 363.8L1183.3 361.8L1181.1 359.8L1178.9 357.8L1176.7 355.8L1174.6 353.7L1172.4 351.7L1170.3 349.6L1168.2 347.5L1166.0 345.5L1163.9 343.4L1161.8 341.3L1159.7 339.2L1157.6 337.1L1155.5 334.9L1153.5 332.8L1151.4 330.6L1149.4 328.5L1147.3 326.3L1145.3 324.1L1143.3 321.9L1141.2 319.7L1139.2 317.5L1137.2 315.3L1135.2 313.1L1133.3 310.8L1131.3 308.6L1129.6 306.6L1127.9 304.6L1126.2 302.6L1124.5 300.6L1122.9 298.6L1121.3 296.7L1119.7 294.8L1117.9 292.7L1116.1 290.7L1114.4 288.7L1112.7 286.8L1111.0 284.8L1109.3 282.8L1107.5 280.8L1105.8 278.7L1104.3 276.8L1102.9 274.8L1101.4 272.3L1100.1 269.9L1099.1 267.3L1098.5 264.9L1098.0 262.5L1097.8 259.9L1097.9 257.4L1098.3 254.9L1099.1 252.3L1100.0 249.8L1101.0 247.4L1102.1 244.5L1103.2 241.7L1104.8 239.3L1106.9 237.5L1109.5 236.0L1112.2 234.3L1114.3 232.8L1116.4 231.2L1118.7 229.5L1121.0 227.8L1123.5 226.2L1125.9 224.8L1128.5 223.5L1131.2 222.1L1133.9 220.8L1136.6 219.6L1139.2 218.3L1141.9 217.0L1144.5 215.7L1147.2 214.4L1149.8 213.2L1152.5 211.9L1155.1 210.7L1157.8 209.5L1160.5 208.2L1163.2 207.0L1165.8 205.8L1168.5 204.6L1171.2 203.4L1173.9 202.3L1176.6 201.1L1179.3 200.0L1182.1 198.8L1184.8 197.7L1187.5 196.6L1190.2 195.4L1192.9 194.3L1195.7 193.3L1198.4 192.2L1201.2 191.1L1203.9 190.1L1206.7 189.0L1209.4 188.0L1212.2 186.9L1214.9 185.9L1217.7 184.9L1220.5 183.9L1223.3 182.9L1226.0 182.0L1228.8 181.0L1231.6 180.1L1234.4 179.1L1237.2 178.2L1240.0 177.3L1242.8 176.4L1245.6 175.5L1248.4 174.6L1251.2 173.8L1254.0 172.9L1256.9 172.1L1259.7 171.2L1262.5 170.4L1265.3 169.6L1268.2 168.8L1271.0 168.0L1273.8 167.3L1276.7 166.5L1279.5 165.8L1282.4 165.0L1285.2 164.3L1288.1 163.6L1290.9 162.9L1293.8 162.2L1296.6 161.5L1299.5 160.9L1302.4 160.2L1305.2 159.6L1308.1 159.0L1311.0 158.3L1313.8 157.7L1316.7 157.1L1319.6 156.6L1322.5 156.1L1325.1 155.7L1327.8 155.4L1330.5 155.1L1333.1 154.9L1335.8 154.7L1338.5 154.6L1341.2 154.6L1343.9 154.6L1346.7 154.7L1349.4 154.9L1352.2 155.1L1354.9 155.4L1357.4 155.7L1359.9 156.1L1362.6 156.7L1365.1 157.4L1367.5 158.1L1369.9 158.9L1372.4 159.8L1374.8 160.6L1377.3 161.5L1379.8 162.3L1382.3 163.3L1384.8 164.3L1387.3 165.4L1389.9 166.7L1392.5 168.1L1395.1 169.6L1397.6 171.2L1400.2 172.7L1402.8 174.2L1405.3 175.7L1407.9 177.2L1410.4 178.7L1413.0 180.2L1415.6 181.7L1418.1 183.3L1420.7 184.8L1423.2 186.3L1425.7 187.8L1428.3 189.4L1430.8 190.9L1433.4 192.4L1435.9 194.0L1438.4 195.5L1440.9 197.1L1443.5 198.7L1446.0 200.2L1448.5 201.8L1451.0 203.3L1453.6 204.9L1456.1 206.5L1458.6 208.1L1461.1 209.7L1463.6 211.2L1466.1 212.8L1468.6 214.4L1471.1 216.0L1473.6 217.6L1476.2 219.2L1478.7 220.8L1481.2 222.4L1483.7 224.0L1486.2 225.6L1488.7 227.2L1491.2 228.8L1493.7 230.4L1496.2 232.0L1498.7 233.6L1501.2 235.2L1503.7 236.8L1506.2 238.4L1508.7 240.0L1511.1 241.6L1513.6 243.3L1516.1 244.9L1518.6 246.5L1521.1 248.1L1523.6 249.7L1526.1 251.3L1528.6 252.9L1531.1 254.5L1533.6 256.1L1536.1 257.7L1538.6 259.3L1541.1 260.9L1543.6 262.5L1546.1 264.2L1548.6 265.8L1551.1 267.4L1553.6 268.9L1556.1 270.5L1558.6 272.1L1561.2 273.7L1563.7 275.3L1566.2 276.9L1568.7 278.5L1571.2 280.1L1573.7 281.6L1576.2 283.2L1578.8 284.8L1581.3 286.4L1583.8 287.9L1586.3 289.5L1588.9 291.1L1591.4 292.6L1593.9 294.2L1596.4 295.7L1599.0 297.3L1601.5 298.8L1604.1 300.3L1606.6 301.9L1609.2 303.4L1611.7 304.9L1614.3 306.5L1616.8 308.0L1619.4 309.5L1621.9 311.0L1624.5 312.5L1627.1 314.0L1629.6 315.5L1632.2 317.0L1634.8 318.4L1637.4 319.9L1639.9 321.4L1642.5 322.8L1645.1 324.3L1647.7 325.7L1650.3 327.2L1652.9 328.6L1655.5 330.1L1658.1 331.5L1660.7 332.9L1663.4 334.3L1666.0 335.7L1668.6 337.1L1671.2 338.5L1673.9 339.9L1676.5 341.2L1686.0 346.3" stroke="#84b870" stroke-width="8.8"/>
<path d="M1483.0 1369.6L1485.6 1369.5L1488.2 1369.3L1490.8 1369.1L1493.3 1369.0L1495.9 1368.8L1498.5 1368.6L1501.1 1368.5L1503.7 1368.3L1506.3 1368.2L1508.8 1368.0L1511.4 1367.8L1514.0 1367.7L1516.6 1367.5L1519.2 1367.4L1521.7 1367.2L1524.3 1367.0L1526.9 1366.9L1529.5 1366.7L1532.1 1366.5L1534.6 1366.4L1537.2 1366.2L1539.8 1366.1L1542.4 1365.9L1545.0 1365.7L1547.5 1365.6L1550.1 1365.4L1552.7 1365.2L1555.3 1365.1L1557.9 1364.9L1560.4 1364.7L1563.0 1364.6L1565.6 1364.4L1568.2 1364.2L1570.8 1364.0L1573.3 1363.9L1575.9 1363.7L1578.5 1363.5L1581.1 1363.3L1583.6 1363.2L1586.2 1363.0L1588.8 1362.8L1591.4 1362.6L1593.9 1362.5L1596.5 1362.3L1599.1 1362.1L1601.7 1361.9L1604.2 1361.7L1606.8 1361.5L1609.4 1361.4L1612.0 1361.2L1614.5 1361.0L1617.1 1360.8L1619.7 1360.6L1622.3 1360.4L1624.8 1360.3L1627.4 1360.1L1630.0 1359.9L1632.6 1359.7L1635.1 1359.5L1637.7 1359.3L1640.3 1359.1L1642.8 1358.9L1645.4 1358.7L1648.0 1358.5L1650.5 1358.3L1653.1 1358.1L1655.7 1357.9L1658.3 1357.7L1660.8 1357.5L1663.4 1357.3L1666.0 1357.1L1668.5 1356.9L1671.1 1356.7L1673.7 1356.5L1676.2 1356.3L1686.0 1355.5" stroke="#c1b945" stroke-width="8.8" stroke-dasharray="27.50 10.50"/>
<path d="M1427.9 1461.5L1427.9 1460.0L1427.9 1458.4L1427.9 1456.0L1427.9 1453.0L1427.9 1449.5L1427.9 1445.8L1428.0 1442.0L1428.0 1438.5L1428.0 1435.5L1428.0 1433.1L1428.0 1431.5L1428.0 1430.0L1428.0 1428.6L1428.1 1426.6L1428.1 1424.0L1428.2 1421.0L1428.2 1417.7L1428.3 1414.3L1428.3 1410.7L1428.4 1407.2L1428.4 1403.8L1428.4 1400.7L1428.4 1398.0L1428.3 1395.1L1428.2 1392.5L1428.1 1389.9L1428.0 1387.4L1427.9 1384.9L1427.8 1382.4L1427.7 1379.9L1427.6 1377.3L1427.6 1374.7L1427.5 1372.1L1427.5 1369.5L1427.5 1366.9L1427.5 1364.4L1427.5 1361.8L1427.5 1359.2L1427.5 1356.6L1427.5 1354.0L1427.6 1351.4L1427.6 1348.8L1427.7 1346.2L1427.7 1343.7L1427.8 1341.1L1427.9 1338.5L1428.0 1335.9L1428.1 1333.3L1428.2 1330.7L1428.4 1328.1L1428.5 1325.6L1428.7 1323.0L1428.8 1320.4L1429.0 1317.8L1429.2 1315.2L1429.4 1312.7L1429.6 1310.1L1429.8 1307.5L1430.0 1304.9L1430.2 1302.3L1430.5 1299.8L1430.7 1297.2L1431.0 1294.6L1431.3 1292.0L1431.6 1289.5L1431.8 1286.9L1432.1 1284.3L1432.5 1281.8L1432.8 1279.2L1433.1 1276.6L1433.5 1274.1L1433.8 1271.5L1434.2 1269.0L1434.6 1266.4L1434.9 1263.8L1435.3 1261.3L1435.7 1258.7L1436.2 1256.2L1436.6 1253.6L1437.0 1251.1L1437.5 1248.5L1437.9 1246.0L1438.4 1243.5L1438.8 1240.9L1439.3 1238.4L1439.8 1235.8L1440.3 1233.3L1440.8 1230.8L1441.4 1228.2L1441.9 1225.7L1442.4 1223.2L1443.0 1220.7L1443.6 1218.1L1444.1 1215.6L1444.7 1213.1L1445.3 1210.6L1445.9 1208.1L1446.5 1205.6L1447.2 1203.1L1447.8 1200.6L1448.5 1198.1L1449.1 1195.6L1449.8 1193.1L1450.4 1190.6L1451.1 1188.1L1451.8 1185.6L1452.5 1183.1L1453.2 1180.6L1454.0 1178.1L1454.7 1175.7L1455.5 1173.2L1456.2 1170.7L1457.0 1168.3L1457.8 1165.8L1458.5 1163.3L1459.3 1160.9L1460.1 1158.4L1461.0 1156.0L1461.8 1153.5L1462.6 1151.1L1463.5 1148.6L1464.3 1146.2L1465.2 1143.8L1466.1 1141.3L1466.9 1138.9L1467.8 1136.5L1468.7 1134.1L1469.7 1131.6L1470.6 1129.2L1471.5 1126.8L1472.5 1124.4L1473.4 1122.0L1474.4 1119.6L1475.4 1117.2L1476.3 1114.8L1477.3 1112.4L1478.3 1110.1L1479.4 1107.7L1480.4 1105.3L1481.4 1102.9L1482.5 1100.6L1483.5 1098.2L1484.6 1095.9L1485.7 1093.5L1486.7 1091.2L1487.8 1088.8L1488.9 1086.5L1490.0 1084.1L1491.2 1081.8L1492.3 1079.5L1493.5 1077.2L1494.6 1074.9L1495.8 1072.5L1496.9 1070.2L1498.1 1067.9L1499.3 1065.6L1500.5 1063.3L1501.7 1061.1L1503.0 1058.8L1504.2 1056.5L1505.4 1054.2L1506.7 1052.0L1507.9 1049.7L1509.2 1047.4L1510.5 1045.2L1511.8 1043.0L1513.1 1040.7L1514.4 1038.5L1515.7 1036.3L1517.0 1034.0L1518.4 1031.8L1519.7 1029.6L1521.1 1027.4L1522.5 1025.2L1523.8 1023.0L1525.2 1020.8L1526.6 1018.7L1528.0 1016.5L1529.4 1014.3L1530.9 1012.2L1532.3 1010.0L1533.7 1007.9L1535.2 1005.7L1536.7 1003.6L1538.1 1001.5L1539.6 999.3L1541.1 997.2L1542.6 995.1L1544.1 993.0L1545.6 990.9L1547.2 988.8L1548.7 986.8L1550.2 984.7L1551.8 982.6L1553.4 980.6L1554.9 978.5L1556.5 976.5L1558.1 974.4L1559.7 972.4L1561.3 970.4L1562.9 968.4L1564.6 966.4L1566.2 964.4L1567.9 962.4L1569.5 960.4L1571.2 958.5L1572.9 956.5L1574.5 954.5L1576.2 952.6L1577.9 950.6L1579.6 948.7L1581.4 946.8L1583.1 944.9L1584.8 943.0L1586.6 941.1L1588.3 939.2L1590.1 937.3L1591.9 935.4L1593.7 933.6L1595.5 931.7L1597.3 929.9L1599.1 928.0L1600.9 926.2L1602.7 924.4L1604.6 922.6L1606.4 920.8L1608.3 919.0L1610.1 917.2L1612.0 915.4L1613.9 913.7L1615.8 911.9L1617.7 910.2L1619.6 908.4L1621.5 906.7L1623.4 905.0L1625.4 903.3L1627.3 901.6L1629.2 899.9L1631.2 898.2L1633.2 896.6L1635.2 894.9L1637.1 893.3L1639.1 891.6L1641.1 890.0L1643.1 888.4L1645.2 886.8L1647.2 885.2L1649.2 883.6L1651.3 882.0L1653.3 880.5L1655.4 878.9L1657.5 877.4L1659.6 875.8L1661.6 874.3L1663.7 872.8L1665.9 871.3L1668.0 869.9L1670.1 868.4L1672.2 866.9L1674.4 865.5L1676.5 864.0L1686.0 857.5" stroke="#c1b945" stroke-width="8.8" stroke-dasharray="27.50 10.50"/>
<path d="M1686.0 927.2L1676.5 924.0L1674.0 923.1L1671.5 922.3L1669.0 921.4L1666.5 920.6L1664.0 919.7L1661.6 918.9L1659.1 918.0L1656.6 917.2L1654.1 916.3L1651.6 915.4L1649.1 914.6L1646.6 913.7L1644.1 912.8L1641.6 911.9L1639.1 911.0L1636.6 910.1L1634.0 909.3L1631.5 908.4L1629.0 907.5L1626.5 906.5L1624.0 905.6L1621.5 904.7L1619.0 903.8L1616.5 902.9L1614.0 901.9L1611.6 901.0L1609.1 900.0L1606.6 899.1L1604.1 898.1L1601.6 897.2L1599.1 896.2L1596.6 895.2L1594.2 894.2L1591.7 893.2L1589.2 892.2L1586.7 891.2L1584.3 890.2L1581.8 889.2L1579.4 888.2L1576.9 887.1L1574.5 886.1L1572.0 885.0L1569.6 883.9L1567.1 882.9L1564.7 881.8L1562.3 880.7L1559.9 879.6L1557.4 878.5L1555.0 877.3L1552.6 876.2L1550.2 875.1L1547.8 873.9L1545.4 872.7L1543.1 871.6L1540.7 870.4L1538.3 869.2L1536.0 867.9L1533.6 866.7L1531.3 865.5L1528.9 864.2L1526.6 863.0L1524.3 861.7L1522.0 860.4L1519.7 859.1L1517.4 857.8L1515.1 856.5L1512.8 855.1L1510.5 853.8L1508.2 852.4L1506.0 851.0L1503.7 849.7L1501.5 848.2L1499.3 846.8L1497.1 845.4L1494.8 843.9L1492.7 842.5L1490.5 841.0L1488.3 839.5L1486.1 838.0L1484.0 836.4L1481.8 834.9L1479.7 833.3L1477.6 831.8L1475.5 830.2L1473.4 828.5L1471.3 826.9L1469.2 825.3L1467.1 823.6L1465.1 821.9L1463.0 820.2L1461.0 818.5L1459.0 816.7L1456.9 814.8L1454.8 812.9L1452.7 811.0L1450.7 809.2L1448.9 807.5L1447.2 806.0L1444.9 804.2L1442.9 802.7L1441.0 801.0L1439.3 799.1L1437.8 797.0L1436.6 794.8L1435.8 792.2L1435.3 789.4L1435.1 787.3L1435.1 785.8L1435.1 783.9L1435.1 781.1L1435.1 777.9L1435.1 775.1L1435.1 773.2L1435.1 771.7L1435.1 770.2L1435.1 768.6L1435.1 766.2L1435.1 763.2L1435.1 759.8L1435.1 756.2L1435.1 752.8L1435.1 749.8L1435.1 747.4L1435.1 745.8L1435.1 744.3L1435.7 742.4L1436.8 739.8L1438.2 737.0L1439.7 734.3L1441.2 732.2L1442.9 730.1L1444.7 728.0L1446.6 725.9L1448.5 723.7L1450.1 721.8L1451.8 719.8L1453.5 717.8L1455.3 715.7L1457.0 713.7L1458.8 711.7L1460.6 709.7L1462.4 707.7L1464.2 705.8L1466.0 703.9L1467.8 702.0L1469.6 700.1L1471.5 698.2L1473.3 696.3L1475.2 694.4L1477.1 692.6L1479.0 690.8L1480.9 688.9L1482.8 687.1L1484.7 685.3L1486.6 683.5L1488.6 681.8L1490.6 680.0L1492.5 678.2L1494.5 676.5L1496.5 674.8L1498.5 673.1L1500.5 671.4L1502.6 669.7L1504.6 668.0L1506.6 666.3L1508.7 664.7L1510.8 663.0L1512.8 661.4L1514.9 659.8L1517.0 658.1L1519.1 656.5L1521.2 655.0L1523.4 653.4L1525.5 651.8L1527.6 650.2L1529.8 648.7L1531.9 647.2L1534.1 645.6L1536.3 644.1L1538.5 642.6L1540.6 641.1L1542.8 639.6L1545.0 638.2L1547.3 636.7L1549.5 635.2L1551.7 633.8L1553.9 632.4L1556.2 630.9L1558.4 629.5L1560.7 628.1L1562.9 626.7L1565.2 625.3L1567.5 624.0L1569.8 622.6L1572.0 621.3L1574.3 619.9L1576.6 618.6L1578.9 617.2L1581.2 615.9L1583.5 614.6L1585.9 613.3L1588.2 612.0L1590.5 610.7L1592.9 609.5L1595.2 608.2L1597.5 606.9L1599.9 605.7L1602.2 604.5L1604.6 603.2L1606.9 602.0L1609.3 600.8L1611.7 599.6L1614.0 598.4L1616.4 597.2L1618.8 596.0L1621.2 594.9L1623.6 593.7L1626.0 592.5L1628.3 591.4L1630.7 590.3L1633.1 589.1L1635.5 588.0L1637.9 586.9L1640.3 585.8L1642.7 584.7L1645.1 583.6L1647.5 582.5L1649.9 581.4L1652.4 580.3L1654.8 579.3L1657.2 578.2L1659.6 577.2L1662.0 576.1L1664.4 575.1L1666.8 574.1L1669.2 573.1L1671.7 572.0L1674.1 571.0L1676.5 570.0L1686.0 566.0" stroke="#c1b945" stroke-width="8.8" stroke-dasharray="27.50 10.50" stroke-dashoffset="33.01"/>
<path d="M1686.0 671.1L1676.5 666.5L1674.1 665.3L1671.7 664.2L1669.4 663.0L1667.0 661.9L1664.6 660.7L1662.2 659.6L1659.8 658.4L1657.4 657.3L1655.0 656.1L1652.6 655.0L1650.2 653.8L1647.9 652.7L1645.5 651.5L1643.1 650.4L1640.7 649.2L1638.3 648.0L1635.9 646.9L1633.5 645.7L1631.1 644.6L1628.7 643.4L1626.3 642.2L1623.9 641.1L1621.5 639.9L1619.1 638.7L1616.7 637.5L1614.3 636.4L1611.9 635.2L1609.5 634.0L1607.2 632.8L1604.8 631.6L1602.4 630.4L1600.0 629.2L1597.6 628.0L1595.2 626.8L1592.9 625.6L1590.5 624.4L1588.1 623.2L1585.7 621.9L1583.4 620.7L1581.0 619.5L1578.7 618.2L1576.3 617.0L1573.9 615.7L1571.6 614.5L1569.2 613.2L1566.9 611.9L1564.6 610.7L1562.2 609.4L1559.9 608.1L1557.6 606.8L1555.2 605.5L1552.9 604.2L1550.6 602.9L1548.3 601.5L1546.0 600.2L1543.7 598.9L1541.4 597.5L1539.1 596.2L1536.8 594.8L1534.6 593.4L1532.3 592.0L1530.0 590.7L1527.8 589.3L1525.5 587.9L1523.3 586.4L1521.0 585.0L1518.8 583.6L1516.6 582.1L1514.3 580.7L1512.1 579.2L1509.9 577.7L1507.7 576.3L1505.5 574.8L1503.3 573.2L1501.2 571.7L1499.0 570.2L1496.8 568.7L1494.7 567.1L1492.5 565.6L1490.4 564.0L1488.3 562.4L1486.1 560.8L1484.0 559.2L1481.9 557.6L1479.8 555.9L1477.7 554.3L1475.7 552.6L1473.6 551.0L1471.6 549.3L1469.5 547.6L1467.5 545.9L1465.4 544.1L1463.4 542.3L1461.3 540.5L1459.3 538.7L1457.3 536.9L1455.3 535.2L1453.5 533.5L1451.5 531.7L1449.5 529.9L1447.7 528.1L1445.9 526.5L1444.1 524.8L1442.1 523.1L1440.2 521.5L1438.4 519.8L1437.0 518.0L1435.9 515.2L1435.4 512.3L1435.1 510.0L1435.1 508.5L1435.1 506.5L1435.1 503.5L1435.1 500.0L1435.1 496.5L1435.1 493.5L1435.1 491.5L1435.1 490.0L1435.1 488.5L1435.1 486.3L1435.1 483.1L1435.1 479.9L1435.1 477.7L1435.1 476.2L1436.4 474.7L1438.7 472.8L1441.5 470.7L1444.1 468.7L1446.1 467.1L1448.2 465.5L1450.3 463.9L1452.5 462.3L1454.7 460.6L1456.9 459.0L1459.2 457.3L1461.6 455.6L1464.0 453.9L1466.4 452.2L1468.9 450.5L1471.2 448.9L1473.6 447.2L1476.1 445.6L1478.5 444.0L1480.9 442.5L1483.4 440.9L1485.8 439.3L1488.3 437.8L1490.7 436.3L1493.2 434.8L1495.7 433.3L1498.2 431.8L1500.7 430.3L1503.2 428.9L1505.7 427.4L1508.2 426.0L1510.8 424.6L1513.3 423.2L1515.9 421.8L1518.4 420.4L1521.0 419.1L1523.6 417.7L1526.1 416.4L1528.7 415.1L1531.3 413.7L1533.9 412.5L1536.5 411.2L1539.2 409.9L1541.8 408.7L1544.4 407.4L1547.1 406.2L1549.7 405.0L1552.3 403.8L1555.0 402.6L1557.7 401.4L1560.3 400.3L1563.0 399.2L1565.7 398.0L1568.4 396.9L1571.1 395.8L1573.8 394.7L1576.5 393.6L1579.2 392.6L1581.9 391.5L1584.6 390.5L1587.3 389.5L1590.1 388.5L1592.8 387.5L1595.5 386.5L1598.3 385.5L1601.0 384.6L1603.8 383.6L1606.5 382.7L1609.3 381.8L1612.0 380.9L1614.8 380.0L1617.6 379.1L1620.4 378.3L1623.1 377.4L1625.9 376.6L1628.7 375.7L1631.5 374.9L1634.3 374.1L1637.1 373.4L1639.9 372.6L1642.7 371.8L1645.5 371.1L1648.3 370.3L1651.1 369.6L1653.9 368.9L1656.7 368.2L1659.6 367.6L1662.4 366.9L1665.2 366.3L1668.0 365.6L1670.8 365.0L1673.7 364.4L1676.5 363.8L1686.0 361.6" stroke="#c1b945" stroke-width="8.8" stroke-dasharray="27.50 10.50" stroke-dashoffset="33.41"/>
<path d="M1686.0 484.7L1676.5 480.0L1674.2 478.8L1671.9 477.7L1669.5 476.5L1667.2 475.4L1664.9 474.2L1662.6 473.1L1660.3 471.9L1657.9 470.7L1655.6 469.5L1653.3 468.4L1651.0 467.2L1648.7 466.0L1646.4 464.8L1644.1 463.6L1641.8 462.4L1639.5 461.2L1637.2 460.0L1634.9 458.8L1632.6 457.6L1630.3 456.4L1628.0 455.2L1625.7 453.9L1623.4 452.7L1621.1 451.5L1618.8 450.2L1616.5 449.0L1614.3 447.8L1612.0 446.5L1609.7 445.2L1607.4 444.0L1605.2 442.7L1602.9 441.5L1600.6 440.2L1598.4 438.9L1596.1 437.6L1593.8 436.3L1591.6 435.0L1589.3 433.7L1587.1 432.4L1584.8 431.1L1582.6 429.8L1580.4 428.5L1578.1 427.2L1575.9 425.8L1573.7 424.5L1571.4 423.2L1569.2 421.8L1567.0 420.5L1564.8 419.1L1562.6 417.7L1560.4 416.4L1558.2 415.0L1556.0 413.6L1553.8 412.2L1551.6 410.8L1549.4 409.4L1547.2 408.0L1545.0 406.6L1542.9 405.2L1540.7 403.8L1538.5 402.3L1536.4 400.9L1534.2 399.5L1532.1 398.0L1529.9 396.6L1527.8 395.1L1525.6 393.6L1523.5 392.1L1521.4 390.7L1519.2 389.2L1517.1 387.7L1515.0 386.2L1512.9 384.7L1510.8 383.1L1508.7 381.6L1506.6 380.1L1504.5 378.5L1502.4 377.0L1500.4 375.4L1498.3 373.9L1496.2 372.3L1494.2 370.7L1492.1 369.2L1490.1 367.6L1488.0 366.0L1486.0 364.4L1484.0 362.7L1481.9 361.1L1479.9 359.5L1477.9 357.9L1475.9 356.2L1473.9 354.6L1471.9 352.9L1469.9 351.2L1467.9 349.5L1466.0 347.9L1464.0 346.2L1462.0 344.5L1460.1 342.7L1458.1 341.0L1456.1 339.2L1454.1 337.5L1452.1 335.7L1450.3 334.0L1448.5 332.3L1446.4 330.3L1444.3 328.3L1442.4 326.4L1440.6 324.4L1439.1 322.3L1437.7 319.7L1436.5 316.8L1435.6 314.2L1435.1 312.3L1435.1 310.8L1435.1 308.5L1435.1 305.2L1435.1 301.8L1435.1 299.5L1435.1 298.0L1435.1 296.5L1435.1 294.4L1435.1 291.4L1435.1 288.5L1435.1 286.4L1435.1 284.9L1436.1 283.4L1437.8 281.4L1440.0 279.3L1442.2 277.4L1444.2 275.9L1446.4 274.5L1448.7 273.2L1451.0 271.9L1453.5 270.5L1455.6 269.3L1457.8 268.1L1460.1 266.9L1462.4 265.7L1464.8 264.4L1467.1 263.3L1469.4 262.1L1472.1 260.8L1474.8 259.4L1477.5 258.1L1480.2 256.9L1483.0 255.6L1485.7 254.4L1488.4 253.2L1491.2 252.0L1493.9 250.8L1496.7 249.6L1499.5 248.5L1502.2 247.4L1505.0 246.3L1507.8 245.2L1510.6 244.1L1513.4 243.0L1516.2 242.0L1519.0 241.0L1521.8 240.0L1524.7 239.0L1527.5 238.0L1530.3 237.0L1533.2 236.1L1536.0 235.1L1538.5 234.4L1540.9 233.6L1543.4 232.8L1545.9 232.1L1548.3 231.3L1550.8 230.6L1553.3 229.9L1555.7 229.1L1558.2 228.4L1560.7 227.7L1563.2 227.1L1565.7 226.4L1568.1 225.7L1570.6 225.1L1573.1 224.4L1575.6 223.8L1578.1 223.1L1580.6 222.5L1583.1 221.9L1585.6 221.3L1588.1 220.7L1590.6 220.1L1593.2 219.5L1595.7 218.9L1598.2 218.4L1600.7 217.8L1603.2 217.3L1605.7 216.7L1608.3 216.2L1610.8 215.6L1613.3 215.1L1615.8 214.6L1618.4 214.1L1620.9 213.6L1623.4 213.1L1625.9 212.6L1628.5 212.1L1631.0 211.6L1633.5 211.1L1636.1 210.7L1638.6 210.2L1641.1 209.7L1644.1 209.2L1647.0 208.7L1650.0 208.2L1652.9 207.7L1655.9 207.1L1658.8 206.6L1661.8 206.2L1664.7 205.7L1667.7 205.2L1670.6 204.7L1673.6 204.2L1676.5 203.8L1686.0 202.2" stroke="#c1b945" stroke-width="8.8" stroke-dasharray="27.50 10.50" stroke-dashoffset="34.20"/>
<path d="M1686.0 340.2L1676.5 335.0L1674.2 333.8L1672.0 332.5L1669.7 331.3L1667.4 330.0L1665.2 328.8L1662.9 327.6L1660.6 326.3L1658.4 325.1L1656.1 323.8L1653.8 322.6L1651.5 321.3L1649.3 320.1L1647.0 318.8L1644.7 317.6L1642.5 316.3L1640.2 315.0L1637.9 313.8L1635.7 312.5L1633.4 311.3L1631.1 310.0L1628.9 308.7L1626.6 307.4L1624.3 306.2L1622.1 304.9L1619.8 303.6L1617.5 302.3L1615.3 301.0L1613.0 299.8L1610.8 298.5L1608.5 297.2L1606.3 295.9L1604.0 294.6L1601.8 293.3L1599.5 291.9L1597.3 290.6L1595.0 289.3L1592.8 288.0L1590.5 286.7L1588.3 285.3L1586.1 284.0L1583.8 282.7L1581.6 281.3L1579.4 280.0L1577.2 278.6L1574.9 277.3L1572.7 275.9L1570.5 274.5L1568.3 273.2L1566.1 271.8L1563.9 270.4L1561.7 269.0L1559.5 267.6L1557.3 266.2L1555.1 264.8L1552.9 263.4L1550.8 262.0L1548.6 260.6L1546.4 259.1L1544.3 257.7L1542.1 256.3L1539.9 254.8L1537.8 253.4L1535.6 251.9L1533.5 250.4L1531.4 249.0L1529.2 247.5L1527.1 246.0L1525.0 244.5L1522.9 243.0L1520.7 241.5L1518.6 240.0L1516.5 238.5L1514.4 236.9L1512.4 235.4L1510.3 233.9L1508.2 232.3L1506.1 230.8L1504.1 229.2L1502.0 227.6L1500.0 226.0L1497.9 224.4L1495.9 222.8L1493.8 221.2L1491.8 219.6L1489.8 218.0L1487.8 216.3L1485.8 214.7L1483.8 213.0L1481.8 211.4L1479.8 209.7L1477.8 208.0L1475.9 206.3L1473.9 204.6L1471.9 202.9L1470.0 201.2L1468.1 199.5L1466.1 197.8L1464.2 196.0L1462.3 194.2L1460.4 192.4L1458.4 190.6L1456.5 188.8L1454.6 187.0L1452.8 185.2L1451.0 183.5L1448.8 181.4L1446.7 179.4L1444.7 177.5L1442.8 175.5L1441.0 173.5L1439.1 171.2L1437.4 168.7L1435.9 166.5L1435.1 164.8L1435.1 163.3L1435.1 160.9L1435.1 157.4L1435.1 153.9L1435.1 151.5L1435.1 150.0L1435.1 148.5L1435.1 146.4L1435.1 143.3L1435.1 140.3L1435.1 138.2L1435.1 136.7L1435.9 135.0L1437.3 132.8L1439.1 130.5L1441.0 128.6L1443.2 127.1L1445.6 125.9L1448.2 124.8L1451.0 123.6L1453.5 122.5L1456.2 121.4L1458.9 120.2L1461.8 119.1L1464.7 118.0L1467.5 116.9L1470.2 115.8L1473.0 114.7L1475.8 113.7L1478.6 112.7L1481.3 111.7L1484.1 110.7L1486.9 109.7L1489.8 108.8L1492.6 107.8L1495.4 106.9L1498.2 106.0L1501.0 105.1L1503.9 104.2L1506.7 103.3L1509.6 102.5L1512.4 101.6L1515.3 100.8L1518.1 100.0L1521.0 99.2L1523.9 98.4L1526.7 97.7L1529.6 96.9L1532.5 96.2L1535.4 95.5L1538.3 94.8L1541.2 94.1L1544.0 93.4L1546.9 92.8L1549.9 92.1L1552.8 91.5L1555.7 90.9L1558.6 90.3L1561.5 89.7L1564.4 89.1L1567.3 88.6L1570.3 88.0L1573.2 87.5L1576.1 87.0L1579.1 86.5L1582.0 86.0L1584.9 85.5L1587.9 85.0L1590.8 84.6L1593.7 84.2L1596.7 83.8L1599.6 83.3L1602.6 83.0L1605.5 82.6L1608.5 82.2L1611.4 81.9L1614.4 81.5L1617.3 81.2L1620.3 80.9L1623.3 80.6L1626.2 80.3L1629.2 80.0L1632.1 79.8L1635.1 79.5L1638.1 79.3L1641.0 79.1L1644.0 78.9L1646.9 78.7L1649.9 78.5L1652.8 78.4L1655.8 78.2L1658.8 78.1L1661.7 77.9L1664.7 77.8L1667.6 77.8L1670.6 77.7L1673.5 77.6L1676.5 77.5L1686.0 77.2" stroke="#c1b945" stroke-width="8.8" stroke-dasharray="27.50 10.50" stroke-dashoffset="33.89"/>
</g>
<path d="M288.2 1458.0 v-11.5 M288.2 21.5 v11.5 M336.1 1458.0 v-11.5 M336.1 21.5 v11.5 M384.0 1458.0 v-11.5 M384.0 21.5 v11.5 M431.9 1458.0 v-11.5 M431.9 21.5 v11.5 M479.8 1458.0 v-19.0 M479.8 21.5 v19.0 M527.7 1458.0 v-11.5 M527.7 21.5 v11.5 M575.6 1458.0 v-11.5 M575.6 21.5 v11.5 M623.5 1458.0 v-11.5 M623.5 21.5 v11.5 M671.4 1458.0 v-11.5 M671.4 21.5 v11.5 M719.3 1458.0 v-19.0 M719.3 21.5 v19.0 M767.2 1458.0 v-11.5 M767.2 21.5 v11.5 M815.1 1458.0 v-11.5 M815.1 21.5 v11.5 M863.0 1458.0 v-11.5 M863.0 21.5 v11.5 M910.9 1458.0 v-11.5 M910.9 21.5 v11.5 M958.8 1458.0 v-19.0 M958.8 21.5 v19.0 M1006.7 1458.0 v-11.5 M1006.7 21.5 v11.5 M1054.6 1458.0 v-11.5 M1054.6 21.5 v11.5 M1102.5 1458.0 v-11.5 M1102.5 21.5 v11.5 M1150.4 1458.0 v-11.5 M1150.4 21.5 v11.5 M1198.3 1458.0 v-19.0 M1198.3 21.5 v19.0 M1246.2 1458.0 v-11.5 M1246.2 21.5 v11.5 M1294.1 1458.0 v-11.5 M1294.1 21.5 v11.5 M1342.0 1458.0 v-11.5 M1342.0 21.5 v11.5 M1389.9 1458.0 v-11.5 M1389.9 21.5 v11.5 M1437.8 1458.0 v-19.0 M1437.8 21.5 v19.0 M1485.7 1458.0 v-11.5 M1485.7 21.5 v11.5 M1533.6 1458.0 v-11.5 M1533.6 21.5 v11.5 M1581.5 1458.0 v-11.5 M1581.5 21.5 v11.5 M1629.4 1458.0 v-11.5 M1629.4 21.5 v11.5 M240.5 1378.6 h11.5 M1676.8 1378.6 h-11.5 M240.5 1298.8 h11.5 M1676.8 1298.8 h-11.5 M240.5 1218.9 h11.5 M1676.8 1218.9 h-11.5 M240.5 1139.0 h11.5 M1676.8 1139.0 h-11.5 M240.5 1059.2 h19.0 M1676.8 1059.2 h-19.0 M240.5 979.3 h11.5 M1676.8 979.3 h-11.5 M240.5 899.4 h11.5 M1676.8 899.4 h-11.5 M240.5 819.5 h11.5 M1676.8 819.5 h-11.5 M240.5 739.7 h11.5 M1676.8 739.7 h-11.5 M240.5 659.8 h19.0 M1676.8 659.8 h-19.0 M240.5 579.9 h11.5 M1676.8 579.9 h-11.5 M240.5 500.1 h11.5 M1676.8 500.1 h-11.5 M240.5 420.2 h11.5 M1676.8 420.2 h-11.5 M240.5 340.3 h11.5 M1676.8 340.3 h-11.5 M240.5 260.4 h19.0 M1676.8 260.4 h-19.0 M240.5 180.6 h11.5 M1676.8 180.6 h-11.5 M240.5 100.7 h11.5 M1676.8 100.7 h-11.5" stroke="#000" stroke-width="3.1" fill="none" shape-rendering="crispEdges"/>
<path d="M239 21.5H1679M240.5 20V1460" stroke="#000" stroke-width="3" fill="none" shape-rendering="crispEdges"/>
<path d="M239 1458.5H1679M1677 20V1460" stroke="#000" stroke-width="4" fill="none" shape-rendering="crispEdges"/>
<text transform="translate(240.6 1529.1) scale(0.945 1)" text-anchor="middle" class="tk">0.8</text>
<text transform="translate(480.1 1529.1) scale(0.945 1)" text-anchor="middle" class="tk">0.9</text>
<text transform="translate(719.6 1529.1) scale(0.945 1)" text-anchor="middle" class="tk">1.0</text>
<text transform="translate(959.1 1529.1) scale(0.945 1)" text-anchor="middle" class="tk">1.1</text>
<text transform="translate(1198.6 1529.1) scale(0.945 1)" text-anchor="middle" class="tk">1.2</text>
<text transform="translate(1438.1 1529.1) scale(0.945 1)" text-anchor="middle" class="tk">1.3</text>
<text transform="translate(1677.6 1529.1) scale(0.945 1)" text-anchor="middle" class="tk">1.4</text>
<text transform="translate(226 1479.3) scale(0.945 1)" text-anchor="end" class="tk">0</text>
<text transform="translate(226 1080.0) scale(0.945 1)" text-anchor="end" class="tk">50</text>
<text transform="translate(226 680.6) scale(0.945 1)" text-anchor="end" class="tk">100</text>
<text transform="translate(226 281.3) scale(0.945 1)" text-anchor="end" class="tk">150</text>
<path d="M281 78.25 H473" stroke="#565656" stroke-width="9" fill="none"/>
<text x="501.8" y="100.5" class="lg">GR</text>
<path d="M281 148.25 H473" stroke="#000000" stroke-width="9" fill="none"/>
<text x="495.2" y="170.6" class="lg it">n</text>
<text transform="translate(543.6 166.2) scale(1.15 0.79)" class="lg">=</text>
<text x="600" y="170.6" class="lg">0</text>
<path d="M281.5 218.25 H462" stroke="#781c86" stroke-width="9" stroke-dasharray="27.3 10.7" fill="none"/>
<text x="495.2" y="240.6" class="lg it">n</text>
<text transform="translate(543.6 236.2) scale(1.15 0.79)" class="lg">=</text>
<text x="600" y="240.6" class="lg">1</text>
<path d="M281 288.25 H473" stroke="#4330b8" stroke-width="9" fill="none"/>
<text x="495.2" y="310.6" class="lg it">n</text>
<text transform="translate(543.6 306.2) scale(1.15 0.79)" class="lg">=</text>
<text x="600" y="310.6" class="lg">2</text>
<path d="M281.5 358.25 H462" stroke="#559eae" stroke-width="9" stroke-dasharray="27.3 10.7" fill="none"/>
<text x="495.2" y="380.6" class="lg it">n</text>
<text transform="translate(543.6 376.2) scale(1.15 0.79)" class="lg">=</text>
<text x="600" y="380.6" class="lg">3</text>
<path d="M281 428.25 H473" stroke="#84b870" stroke-width="9" fill="none"/>
<text x="495.2" y="450.6" class="lg it">n</text>
<text transform="translate(543.6 446.2) scale(1.15 0.79)" class="lg">=</text>
<text x="600" y="450.6" class="lg">4</text>
<path d="M281.5 498.25 H462" stroke="#c1b945" stroke-width="9" stroke-dasharray="27.3 10.7" fill="none"/>
<text x="495.2" y="520.5" class="lg it">n</text>
<text transform="translate(543.6 516.2) scale(1.15 0.79)" class="lg">=</text>
<text x="600" y="520.5" class="lg">5</text>
<path d="M1719.0 47.0C1720.0 48.1 1722.9 49.9 1725.0 53.4C1727.0 56.8 1729.2 61.3 1731.2 67.8C1733.2 74.4 1735.2 82.9 1737.0 92.7C1738.8 102.6 1740.5 115.2 1742.0 126.9C1743.5 138.6 1744.7 150.3 1745.9 162.8C1747.1 175.3 1748.3 189.9 1749.1 202.2C1750.0 214.4 1750.4 224.7 1750.9 236.3C1751.4 248.0 1751.8 260.4 1752.0 272.2C1752.2 284.1 1752.0 297.9 1751.8 307.6C1751.7 317.2 1751.2 318.9 1750.9 330.1C1750.6 341.3 1750.4 359.8 1750.0 374.7C1749.6 389.6 1749.1 403.1 1748.8 419.6C1748.4 436.0 1748.0 458.5 1747.9 473.4C1747.8 488.3 1747.9 497.1 1748.2 509.0C1748.6 521.0 1749.1 533.6 1750.0 544.9C1750.9 556.3 1752.1 568.4 1753.6 577.4C1755.1 586.3 1756.8 592.9 1759.0 598.8C1761.2 604.7 1765.7 610.6 1767.0 613.0L1767.0 639.0C1765.7 641.4 1761.2 647.3 1759.0 653.2C1756.8 659.1 1755.1 665.7 1753.6 674.6C1752.1 683.6 1750.9 695.7 1750.0 707.1C1749.1 718.4 1748.6 731.0 1748.2 743.0C1747.9 754.9 1747.8 763.7 1747.9 778.6C1748.0 793.5 1748.4 816.0 1748.8 832.4C1749.1 848.9 1749.6 862.4 1750.0 877.3C1750.4 892.2 1750.6 910.7 1750.9 921.9C1751.2 933.1 1751.7 934.8 1751.8 944.5C1752.0 954.1 1752.2 967.9 1752.0 979.8C1751.8 991.6 1751.4 1004.0 1750.9 1015.7C1750.4 1027.3 1750.0 1037.6 1749.1 1049.8C1748.3 1062.1 1747.1 1076.7 1745.9 1089.2C1744.7 1101.7 1743.5 1113.4 1742.0 1125.1C1740.5 1136.8 1738.8 1149.4 1737.0 1159.3C1735.2 1169.1 1733.2 1177.6 1731.2 1184.2C1729.2 1190.7 1727.0 1195.2 1725.0 1198.6C1722.9 1202.1 1720.0 1203.9 1719.0 1205.0L1719.0 1181.8C1720.0 1179.9 1723.2 1175.2 1725.0 1170.3C1726.7 1165.3 1728.1 1159.3 1729.4 1152.3C1730.8 1145.4 1732.0 1137.3 1733.0 1128.6C1734.1 1119.9 1735.0 1110.0 1735.7 1100.2C1736.4 1090.4 1737.1 1080.6 1737.5 1069.5C1737.9 1058.4 1738.0 1045.5 1738.0 1033.6C1738.0 1021.7 1737.9 1009.9 1737.7 998.0C1737.4 986.1 1737.0 974.8 1736.6 962.1C1736.2 949.4 1735.6 936.0 1735.2 921.9C1734.8 907.7 1734.5 892.2 1734.3 877.3C1734.1 862.4 1734.0 847.4 1734.1 832.4C1734.2 817.5 1734.3 801.0 1734.8 787.5C1735.3 774.1 1736.1 763.6 1737.0 751.6C1737.8 739.7 1738.9 727.7 1740.2 715.7C1741.4 703.8 1742.8 691.2 1744.6 679.8C1746.4 668.5 1748.6 656.7 1750.9 647.7C1753.2 638.7 1757.1 629.6 1758.4 626.0C1757.1 622.4 1753.2 613.3 1750.9 604.3C1748.6 595.3 1746.4 583.5 1744.6 572.2C1742.8 560.8 1741.4 548.2 1740.2 536.3C1738.9 524.3 1737.8 512.3 1737.0 500.4C1736.1 488.4 1735.3 477.9 1734.8 464.5C1734.3 451.0 1734.2 434.5 1734.1 419.6C1734.0 404.6 1734.1 389.6 1734.3 374.7C1734.5 359.8 1734.8 344.3 1735.2 330.1C1735.6 316.0 1736.2 302.6 1736.6 289.9C1737.0 277.2 1737.4 265.9 1737.7 254.0C1737.9 242.1 1738.0 230.3 1738.0 218.4C1738.0 206.5 1737.9 193.6 1737.5 182.5C1737.1 171.4 1736.4 161.6 1735.7 151.8C1735.0 142.0 1734.1 132.1 1733.0 123.4C1732.0 114.7 1730.8 106.6 1729.4 99.7C1728.1 92.7 1726.7 86.7 1725.0 81.7C1723.2 76.8 1720.0 72.1 1719.0 70.2Z" fill="#000"/>
<path d="M1704.8 1223.3C1705.5 1223.5 1707.5 1223.8 1708.9 1224.3C1710.3 1224.9 1711.8 1225.6 1713.2 1226.7C1714.6 1227.8 1716.0 1229.1 1717.2 1230.8C1718.5 1232.4 1719.7 1234.4 1720.7 1236.3C1721.7 1238.2 1722.6 1240.1 1723.4 1242.2C1724.2 1244.2 1725.1 1246.6 1725.6 1248.6C1726.2 1250.6 1726.5 1252.2 1726.9 1254.2C1727.2 1256.1 1727.5 1258.1 1727.6 1260.0C1727.7 1261.9 1727.6 1264.2 1727.5 1265.8C1727.4 1267.3 1727.1 1267.6 1726.9 1269.4C1726.7 1271.3 1726.5 1274.3 1726.2 1276.7C1726.0 1279.1 1725.6 1281.3 1725.4 1284.0C1725.1 1286.7 1724.8 1290.4 1724.8 1292.8C1724.7 1295.2 1724.8 1296.6 1725.0 1298.6C1725.3 1300.5 1725.6 1302.6 1726.2 1304.4C1726.9 1306.3 1727.7 1308.3 1728.7 1309.7C1729.8 1311.2 1730.9 1312.2 1732.5 1313.2C1734.0 1314.2 1737.1 1315.1 1738.0 1315.5L1738.0 1319.8C1737.1 1320.2 1734.0 1321.1 1732.5 1322.1C1730.9 1323.1 1729.8 1324.1 1728.7 1325.6C1727.7 1327.0 1726.9 1329.0 1726.2 1330.9C1725.6 1332.7 1725.3 1334.8 1725.0 1336.7C1724.8 1338.7 1724.7 1340.1 1724.8 1342.5C1724.8 1344.9 1725.1 1348.6 1725.4 1351.3C1725.6 1354.0 1726.0 1356.2 1726.2 1358.6C1726.5 1361.0 1726.7 1364.0 1726.9 1365.9C1727.1 1367.7 1727.4 1368.0 1727.5 1369.5C1727.6 1371.1 1727.7 1373.4 1727.6 1375.3C1727.5 1377.2 1727.2 1379.2 1726.9 1381.1C1726.5 1383.1 1726.2 1384.7 1725.6 1386.7C1725.1 1388.7 1724.2 1391.1 1723.4 1393.1C1722.6 1395.2 1721.7 1397.1 1720.7 1399.0C1719.7 1400.9 1718.5 1402.9 1717.2 1404.5C1716.0 1406.2 1714.6 1407.5 1713.2 1408.6C1711.8 1409.7 1710.3 1410.4 1708.9 1411.0C1707.5 1411.5 1705.5 1411.8 1704.8 1412.0L1704.8 1408.2C1705.5 1407.9 1707.7 1407.1 1708.9 1406.3C1710.1 1405.5 1711.1 1404.5 1712.0 1403.4C1712.9 1402.3 1713.8 1401.0 1714.5 1399.5C1715.2 1398.1 1715.8 1396.5 1716.4 1394.9C1716.9 1393.3 1717.3 1391.7 1717.6 1389.9C1717.8 1388.1 1717.9 1386.0 1717.9 1384.1C1718.0 1382.1 1717.9 1380.2 1717.7 1378.3C1717.6 1376.3 1717.3 1374.5 1717.0 1372.4C1716.7 1370.4 1716.3 1368.2 1716.0 1365.9C1715.7 1363.6 1715.5 1361.0 1715.4 1358.6C1715.2 1356.2 1715.2 1353.7 1715.2 1351.3C1715.3 1348.8 1715.4 1346.2 1715.7 1344.0C1716.1 1341.8 1716.6 1340.1 1717.2 1338.1C1717.8 1336.2 1718.6 1334.2 1719.4 1332.3C1720.3 1330.3 1721.3 1328.3 1722.5 1326.4C1723.8 1324.6 1725.3 1322.7 1726.9 1321.2C1728.5 1319.7 1731.2 1318.2 1732.0 1317.7C1731.2 1317.1 1728.5 1315.6 1726.9 1314.1C1725.3 1312.6 1723.8 1310.7 1722.5 1308.9C1721.3 1307.0 1720.3 1305.0 1719.4 1303.0C1718.6 1301.1 1717.8 1299.1 1717.2 1297.2C1716.6 1295.2 1716.1 1293.5 1715.7 1291.3C1715.4 1289.1 1715.3 1286.5 1715.2 1284.0C1715.2 1281.6 1715.2 1279.1 1715.4 1276.7C1715.5 1274.3 1715.7 1271.7 1716.0 1269.4C1716.3 1267.1 1716.7 1264.9 1717.0 1262.9C1717.3 1260.8 1717.6 1259.0 1717.7 1257.0C1717.9 1255.1 1718.0 1253.2 1717.9 1251.2C1717.9 1249.3 1717.8 1247.2 1717.6 1245.4C1717.3 1243.6 1716.9 1242.0 1716.4 1240.4C1715.8 1238.8 1715.2 1237.2 1714.5 1235.8C1713.8 1234.3 1712.9 1233.0 1712.0 1231.9C1711.1 1230.8 1710.1 1229.8 1708.9 1229.0C1707.7 1228.2 1705.5 1227.4 1704.8 1227.1Z" fill="#000"/>
<text x="1797.8" y="643.6" class="ty">type II</text>
<text x="1765.3" y="1341.7" class="ty">type I</text>
<g transform="translate(79.7 885) rotate(-90)" class="ax">
<text transform="translate(-0.9 0) scale(1.27 1)" class="it" style="stroke:none">τ</text>
<text transform="translate(36.5 -23.8) scale(1.15 1)" class="it sup">−</text>
<text x="72.1" y="-28.3" class="it sup">1</text>
<text x="101" y="-3.5" font-size="72">(</text>
<text x="122.7" y="0" class="it">ms</text>
<text transform="translate(209.5 -23.8) scale(1.15 1)" class="it sup">−</text>
<text x="246.3" y="-28.3" class="it sup">1</text>
<text x="273.6" y="-3.5" font-size="72">)</text>
</g>
<g class="ax">
<text x="825.2" y="1648.5" class="it">ñ</text>
<text x="863.9" y="1659.8" class="sup">c</text>
<text x="891.1" y="1650.3">[</text>
<text x="916.5" y="1648.5">fm</text>
<text x="1001.4" y="1621.1" class="sup">−</text>
<text x="1034.7" y="1617.5" class="sup">3</text>
<text x="1065.5" y="1650.3">]</text>
</g>

</svg></body></html>
